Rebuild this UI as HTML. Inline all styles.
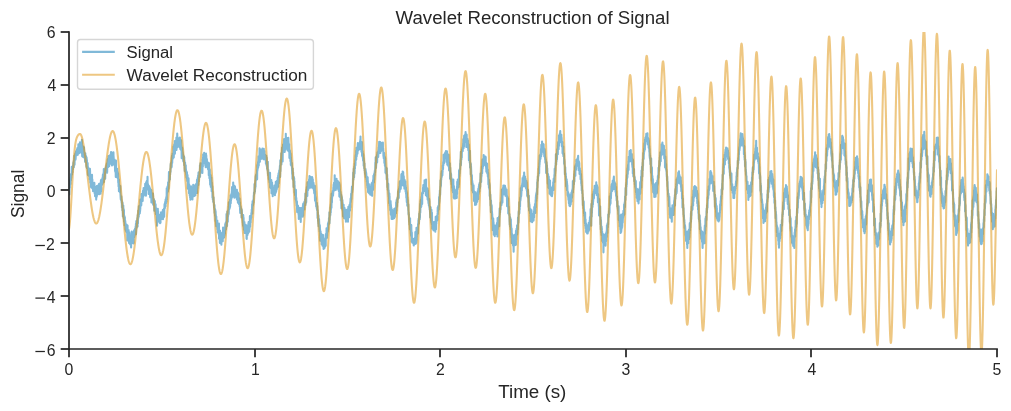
<!DOCTYPE html>
<html><head><meta charset="utf-8"><title>Wavelet Reconstruction of Signal</title>
<style>html,body{margin:0;padding:0;background:#fff;}body{width:1011px;height:411px;overflow:hidden;font-family:"Liberation Sans",sans-serif;}svg{display:block;will-change:transform;}</style>
</head><body>
<svg width="1011" height="411" viewBox="0 0 1011 411"><defs><clipPath id="ax"><rect x="69" y="32" width="928" height="317"/></clipPath></defs><rect width="1011" height="411" fill="#fff"/><g clip-path="url(#ax)" fill="none" stroke-linejoin="round" stroke-linecap="square" stroke-width="2.08"><polyline stroke="#0173b2" stroke-opacity="0.5" points="69.00,189.53 69.09,193.22 69.19,186.96 69.28,185.78 69.37,194.36 69.46,191.72 69.56,186.61 69.65,187.44 69.74,185.91 69.84,187.99 69.93,181.92 70.02,181.66 70.11,183.34 70.21,179.41 70.30,180.93 70.39,184.56 70.48,180.10 70.58,183.74 70.67,177.35 70.76,179.73 70.86,179.59 70.95,180.61 71.04,174.02 71.13,177.83 71.23,178.14 71.32,177.35 71.41,174.00 71.51,173.98 71.60,173.29 71.69,172.69 71.78,166.73 71.88,174.28 71.97,174.08 72.06,174.51 72.16,169.46 72.25,167.31 72.34,170.73 72.43,172.52 72.53,171.97 72.62,166.79 72.71,165.99 72.81,166.13 72.90,169.47 72.99,166.13 73.08,166.02 73.18,165.21 73.27,162.67 73.36,164.25 73.45,162.35 73.55,163.82 73.64,162.67 73.73,161.13 73.83,167.30 73.92,163.26 74.01,163.30 74.10,163.41 74.20,161.83 74.29,155.80 74.38,162.87 74.48,156.65 74.57,164.65 74.66,159.98 74.75,158.01 74.85,156.28 74.94,155.51 75.03,154.88 75.13,158.13 75.22,158.13 75.31,153.59 75.40,156.57 75.50,159.66 75.59,158.88 75.68,157.87 75.78,153.06 75.87,153.87 75.96,151.82 76.05,155.06 76.15,152.91 76.24,151.14 76.33,153.82 76.42,151.12 76.52,154.40 76.61,153.19 76.70,152.99 76.80,155.33 76.89,149.75 76.98,152.55 77.07,150.80 77.17,149.09 77.26,148.99 77.35,148.09 77.45,150.32 77.54,151.16 77.63,149.88 77.72,154.80 77.82,153.87 77.91,153.32 78.00,152.13 78.10,147.56 78.19,151.56 78.28,149.76 78.37,144.31 78.47,149.45 78.56,145.87 78.65,151.07 78.74,148.66 78.84,150.94 78.93,148.92 79.02,145.11 79.12,153.18 79.21,146.27 79.30,146.85 79.39,149.44 79.49,152.11 79.58,147.27 79.67,149.15 79.77,146.73 79.86,147.39 79.95,142.38 80.04,148.23 80.14,150.73 80.23,146.94 80.32,146.84 80.42,143.27 80.51,144.97 80.60,146.54 80.69,143.09 80.79,151.56 80.88,149.90 80.97,150.88 81.07,149.27 81.16,152.49 81.25,146.21 81.34,149.04 81.44,153.11 81.53,151.79 81.62,147.70 81.71,146.17 81.81,142.64 81.90,139.87 81.99,147.95 82.09,152.56 82.18,156.35 82.27,148.91 82.36,152.51 82.46,151.44 82.55,152.25 82.64,150.95 82.74,147.33 82.83,150.41 82.92,151.63 83.01,154.62 83.11,156.87 83.20,153.34 83.29,152.20 83.39,146.66 83.48,152.10 83.57,149.65 83.66,154.60 83.76,157.04 83.85,156.60 83.94,156.11 84.04,147.34 84.13,156.97 84.22,151.99 84.31,157.80 84.41,152.28 84.50,154.31 84.59,156.33 84.68,156.26 84.78,158.52 84.87,155.34 84.96,158.52 85.06,161.28 85.15,161.77 85.24,157.50 85.33,153.37 85.43,158.20 85.52,159.42 85.61,158.48 85.71,155.59 85.80,159.38 85.89,161.73 85.98,157.27 86.08,159.77 86.17,156.62 86.26,161.26 86.36,166.09 86.45,166.90 86.54,157.70 86.63,157.83 86.73,164.24 86.82,165.25 86.91,159.78 87.01,168.29 87.10,167.99 87.19,163.49 87.28,167.16 87.38,166.30 87.47,167.18 87.56,165.97 87.65,162.96 87.75,167.52 87.84,166.14 87.93,175.06 88.03,169.10 88.12,172.00 88.21,173.57 88.30,172.87 88.40,171.53 88.49,167.95 88.58,175.43 88.68,171.51 88.77,173.52 88.86,173.40 88.95,169.56 89.05,171.41 89.14,169.25 89.23,174.35 89.33,176.44 89.42,175.32 89.51,174.21 89.60,174.78 89.70,179.15 89.79,175.78 89.88,175.71 89.97,168.81 90.07,171.20 90.16,180.21 90.25,178.77 90.35,182.84 90.44,180.42 90.53,177.90 90.62,175.41 90.72,181.89 90.81,181.98 90.90,187.05 91.00,181.09 91.09,184.26 91.18,182.90 91.27,184.32 91.37,182.15 91.46,187.74 91.55,187.12 91.65,176.03 91.74,187.16 91.83,186.85 91.92,177.84 92.02,174.74 92.11,187.95 92.20,185.68 92.30,183.70 92.39,179.57 92.48,188.45 92.57,186.36 92.67,183.37 92.76,184.71 92.85,187.52 92.94,187.00 93.04,191.17 93.13,187.79 93.22,188.11 93.32,186.75 93.41,189.46 93.50,186.41 93.59,184.90 93.69,187.82 93.78,187.39 93.87,188.52 93.97,188.87 94.06,191.34 94.15,188.22 94.24,189.69 94.34,182.91 94.43,184.71 94.52,188.62 94.62,192.40 94.71,193.65 94.80,186.47 94.89,189.54 94.99,188.97 95.08,196.13 95.17,187.77 95.27,189.36 95.36,194.42 95.45,192.48 95.54,190.23 95.64,190.97 95.73,192.13 95.82,191.60 95.91,192.12 96.01,190.89 96.10,186.75 96.19,199.59 96.29,192.23 96.38,190.95 96.47,190.58 96.56,192.71 96.66,197.11 96.75,190.50 96.84,186.05 96.94,196.38 97.03,188.76 97.12,192.51 97.21,191.63 97.31,194.73 97.40,192.41 97.49,187.18 97.59,189.40 97.68,185.69 97.77,187.38 97.86,189.64 97.96,185.42 98.05,189.47 98.14,188.15 98.23,191.61 98.33,190.35 98.42,192.66 98.51,187.20 98.61,193.95 98.70,187.61 98.79,190.56 98.88,186.10 98.98,187.29 99.07,183.74 99.16,187.04 99.26,194.18 99.35,189.24 99.44,192.57 99.53,190.32 99.63,183.71 99.72,186.29 99.81,190.33 99.91,191.13 100.00,187.61 100.09,191.37 100.18,189.42 100.28,186.09 100.37,183.20 100.46,184.70 100.56,193.67 100.65,185.20 100.74,185.70 100.83,184.38 100.93,180.32 101.02,191.73 101.11,186.81 101.20,182.80 101.30,189.43 101.39,179.47 101.48,182.71 101.58,180.93 101.67,185.14 101.76,180.47 101.85,179.39 101.95,181.75 102.04,181.46 102.13,181.05 102.23,184.35 102.32,181.79 102.41,181.50 102.50,179.50 102.60,177.25 102.69,183.47 102.78,180.20 102.88,174.80 102.97,181.54 103.06,181.48 103.15,177.92 103.25,175.57 103.34,177.89 103.43,173.39 103.53,174.57 103.62,174.30 103.71,174.89 103.80,168.95 103.90,176.65 103.99,182.03 104.08,170.27 104.17,176.48 104.27,174.37 104.36,170.23 104.45,179.14 104.55,177.70 104.64,178.49 104.73,175.61 104.82,171.38 104.92,170.79 105.01,171.25 105.10,176.29 105.20,178.81 105.29,171.00 105.38,172.35 105.47,169.09 105.57,168.00 105.66,169.48 105.75,167.20 105.85,168.57 105.94,167.31 106.03,170.93 106.12,168.96 106.22,167.47 106.31,165.20 106.40,168.75 106.49,165.56 106.59,167.77 106.68,167.01 106.77,163.73 106.87,172.40 106.96,169.92 107.05,170.23 107.14,172.66 107.24,167.15 107.33,162.37 107.42,165.39 107.52,163.61 107.61,160.53 107.70,159.53 107.79,163.72 107.89,158.98 107.98,162.75 108.07,165.47 108.17,164.48 108.26,167.07 108.35,164.98 108.44,163.10 108.54,159.21 108.63,156.11 108.72,165.76 108.82,159.95 108.91,164.31 109.00,159.34 109.09,161.09 109.19,166.32 109.28,157.41 109.37,162.13 109.46,161.76 109.56,163.32 109.65,161.87 109.74,158.32 109.84,160.16 109.93,158.40 110.02,158.19 110.11,155.06 110.21,160.24 110.30,163.75 110.39,155.61 110.49,159.97 110.58,155.32 110.67,157.58 110.76,159.17 110.86,157.60 110.95,152.49 111.04,152.06 111.14,158.41 111.23,158.11 111.32,155.20 111.41,161.29 111.51,157.56 111.60,158.72 111.69,157.67 111.79,161.34 111.88,163.78 111.97,165.36 112.06,162.38 112.16,160.36 112.25,159.91 112.34,152.91 112.43,155.64 112.53,162.29 112.62,158.24 112.71,160.74 112.81,160.47 112.90,159.11 112.99,157.87 113.08,161.05 113.18,156.76 113.27,163.91 113.36,160.43 113.46,152.39 113.55,160.10 113.64,156.46 113.73,160.91 113.83,159.57 113.92,161.80 114.01,162.38 114.11,164.55 114.20,160.95 114.29,165.26 114.38,160.70 114.48,159.63 114.57,162.18 114.66,164.53 114.75,162.47 114.85,165.18 114.94,161.53 115.03,170.61 115.13,166.18 115.22,171.75 115.31,170.51 115.40,161.79 115.50,163.62 115.59,169.09 115.68,171.93 115.78,176.93 115.87,169.63 115.96,160.61 116.05,167.30 116.15,170.84 116.24,168.00 116.33,174.83 116.43,171.23 116.52,170.40 116.61,171.41 116.70,169.07 116.80,170.92 116.89,170.34 116.98,175.10 117.08,170.53 117.17,168.67 117.26,177.38 117.35,177.60 117.45,171.03 117.54,176.36 117.63,171.80 117.72,178.15 117.82,172.64 117.91,177.34 118.00,177.45 118.10,173.83 118.19,180.46 118.28,182.83 118.37,181.80 118.47,179.48 118.56,186.42 118.65,179.98 118.75,184.26 118.84,179.47 118.93,191.26 119.02,186.73 119.12,190.14 119.21,187.99 119.30,185.16 119.40,187.08 119.49,187.90 119.58,188.18 119.67,187.62 119.77,192.05 119.86,187.20 119.95,187.94 120.05,189.41 120.14,189.47 120.23,190.89 120.32,185.98 120.42,193.31 120.51,194.61 120.60,196.63 120.69,198.13 120.79,199.41 120.88,198.89 120.97,196.91 121.07,196.24 121.16,197.75 121.25,200.95 121.34,196.28 121.44,197.41 121.53,200.87 121.62,203.05 121.72,199.85 121.81,201.61 121.90,207.41 121.99,203.64 122.09,203.21 122.18,207.50 122.27,204.66 122.37,210.48 122.46,202.23 122.55,203.12 122.64,208.48 122.74,207.13 122.83,216.52 122.92,213.14 123.02,211.00 123.11,214.06 123.20,208.99 123.29,205.51 123.39,216.15 123.48,215.66 123.57,212.83 123.66,209.05 123.76,218.60 123.85,214.50 123.94,210.08 124.04,221.65 124.13,221.03 124.22,218.87 124.31,219.72 124.41,216.04 124.50,218.39 124.59,225.31 124.69,218.58 124.78,222.57 124.87,217.22 124.96,223.76 125.06,224.30 125.15,221.07 125.24,220.86 125.34,222.35 125.43,229.60 125.52,223.03 125.61,228.49 125.71,224.93 125.80,230.65 125.89,225.18 125.98,229.60 126.08,231.55 126.17,225.66 126.26,227.58 126.36,230.72 126.45,224.59 126.54,230.99 126.63,229.89 126.73,229.53 126.82,232.74 126.91,229.66 127.01,233.21 127.10,233.19 127.19,227.92 127.28,235.88 127.38,240.57 127.47,228.15 127.56,225.50 127.66,235.18 127.75,240.34 127.84,235.48 127.93,235.70 128.03,235.67 128.12,238.88 128.21,233.77 128.31,234.20 128.40,240.85 128.49,234.14 128.58,230.08 128.68,236.26 128.77,238.09 128.86,237.67 128.95,235.46 129.05,243.09 129.14,237.26 129.23,239.18 129.33,232.25 129.42,238.80 129.51,233.11 129.60,242.02 129.70,236.78 129.79,237.75 129.88,241.62 129.98,238.39 130.07,235.20 130.16,240.14 130.25,244.55 130.35,239.30 130.44,242.15 130.53,240.41 130.63,239.62 130.72,244.79 130.81,244.51 130.90,237.87 131.00,241.04 131.09,247.50 131.18,236.86 131.28,238.45 131.37,241.53 131.46,243.39 131.55,236.50 131.65,237.98 131.74,231.45 131.83,237.58 131.92,237.59 132.02,239.24 132.11,236.01 132.20,236.49 132.30,234.38 132.39,239.86 132.48,239.44 132.57,239.42 132.67,235.23 132.76,232.81 132.85,238.83 132.95,238.53 133.04,235.99 133.13,237.56 133.22,233.55 133.32,243.48 133.41,238.73 133.50,238.36 133.60,242.99 133.69,238.43 133.78,238.02 133.87,235.49 133.97,231.05 134.06,235.07 134.15,237.27 134.24,233.89 134.34,230.08 134.43,236.19 134.52,235.67 134.62,230.69 134.71,232.83 134.80,229.74 134.89,231.50 134.99,228.88 135.08,234.03 135.17,230.43 135.27,230.70 135.36,233.51 135.45,234.24 135.54,226.73 135.64,229.63 135.73,231.36 135.82,228.03 135.92,223.75 136.01,234.15 136.10,231.26 136.19,229.02 136.29,221.05 136.38,224.36 136.47,222.40 136.57,228.02 136.66,227.52 136.75,222.11 136.84,222.91 136.94,220.91 137.03,222.80 137.12,220.87 137.21,220.80 137.31,218.38 137.40,217.83 137.49,225.06 137.59,226.59 137.68,215.83 137.77,214.77 137.86,221.31 137.96,223.50 138.05,216.82 138.14,213.71 138.24,210.49 138.33,214.08 138.42,216.42 138.51,217.60 138.61,214.26 138.70,214.77 138.79,216.56 138.89,206.37 138.98,206.73 139.07,208.32 139.16,214.36 139.26,208.26 139.35,208.47 139.44,208.62 139.54,205.59 139.63,207.07 139.72,206.27 139.81,206.13 139.91,206.61 140.00,212.88 140.09,206.50 140.18,208.07 140.28,209.91 140.37,200.06 140.46,199.46 140.56,200.19 140.65,203.24 140.74,199.33 140.83,203.13 140.93,202.09 141.02,205.77 141.11,200.61 141.21,201.26 141.30,205.16 141.39,200.77 141.48,200.45 141.58,194.09 141.67,196.55 141.76,198.95 141.86,197.80 141.95,198.06 142.04,198.45 142.13,200.86 142.23,197.53 142.32,199.05 142.41,200.28 142.50,194.34 142.60,194.37 142.69,200.92 142.78,195.31 142.88,191.42 142.97,190.89 143.06,190.67 143.15,193.48 143.25,195.97 143.34,196.42 143.43,191.60 143.53,191.20 143.62,188.03 143.71,188.35 143.80,191.98 143.90,195.24 143.99,192.05 144.08,190.10 144.18,191.18 144.27,192.14 144.36,189.27 144.45,191.45 144.55,191.63 144.64,188.44 144.73,190.50 144.83,188.26 144.92,187.98 145.01,192.28 145.10,190.03 145.20,183.78 145.29,191.87 145.38,194.75 145.47,193.80 145.57,187.67 145.66,187.55 145.75,187.90 145.85,183.57 145.94,195.79 146.03,185.97 146.12,182.20 146.22,190.64 146.31,188.21 146.40,189.33 146.50,189.72 146.59,187.88 146.68,182.28 146.77,180.96 146.87,187.83 146.96,180.71 147.05,186.63 147.15,181.19 147.24,187.06 147.33,186.36 147.42,185.65 147.52,176.76 147.61,184.19 147.70,189.18 147.80,183.92 147.89,188.20 147.98,188.68 148.07,184.33 148.17,187.20 148.26,186.51 148.35,187.45 148.44,186.54 148.54,186.38 148.63,193.99 148.72,185.87 148.82,191.23 148.91,192.84 149.00,188.60 149.09,188.31 149.19,190.94 149.28,186.28 149.37,193.35 149.47,190.57 149.56,191.33 149.65,189.82 149.74,188.99 149.84,193.28 149.93,188.01 150.02,190.32 150.12,196.75 150.21,197.19 150.30,191.26 150.39,192.17 150.49,192.05 150.58,192.06 150.67,191.52 150.76,189.49 150.86,196.29 150.95,196.76 151.04,196.79 151.14,192.69 151.23,189.94 151.32,195.55 151.41,202.41 151.51,200.18 151.60,197.72 151.69,197.16 151.79,196.99 151.88,195.89 151.97,197.32 152.06,193.32 152.16,199.12 152.25,200.03 152.34,196.11 152.44,202.83 152.53,197.05 152.62,198.30 152.71,199.43 152.81,194.27 152.90,201.61 152.99,193.45 153.09,201.04 153.18,204.72 153.27,200.79 153.36,204.77 153.46,204.09 153.55,200.80 153.64,200.64 153.73,204.73 153.83,199.97 153.92,199.78 154.01,199.24 154.11,202.47 154.20,200.17 154.29,210.80 154.38,206.19 154.48,208.27 154.57,205.49 154.66,208.02 154.76,207.08 154.85,200.92 154.94,207.76 155.03,206.25 155.13,208.62 155.22,207.98 155.31,208.53 155.41,207.45 155.50,205.50 155.59,204.29 155.68,208.84 155.78,208.26 155.87,214.09 155.96,211.02 156.06,208.07 156.15,208.60 156.24,210.96 156.33,209.11 156.43,210.65 156.52,208.68 156.61,211.84 156.70,214.16 156.80,212.23 156.89,222.84 156.98,212.59 157.08,225.62 157.17,219.76 157.26,213.10 157.35,213.25 157.45,218.68 157.54,217.47 157.63,211.08 157.73,217.16 157.82,208.72 157.91,216.03 158.00,214.92 158.10,211.26 158.19,216.15 158.28,219.91 158.38,217.23 158.47,217.15 158.56,221.51 158.65,218.13 158.75,219.80 158.84,214.64 158.93,217.57 159.03,218.68 159.12,218.22 159.21,217.26 159.30,216.10 159.40,221.29 159.49,221.49 159.58,214.74 159.67,219.60 159.77,222.82 159.86,216.95 159.95,216.91 160.05,223.25 160.14,217.67 160.23,216.06 160.32,217.19 160.42,216.35 160.51,222.77 160.60,217.23 160.70,219.19 160.79,219.70 160.88,215.34 160.97,213.33 161.07,212.25 161.16,213.67 161.25,218.08 161.35,216.50 161.44,215.06 161.53,216.97 161.62,216.80 161.72,214.45 161.81,217.09 161.90,219.04 161.99,217.86 162.09,214.35 162.18,216.15 162.27,214.87 162.37,213.61 162.46,216.69 162.55,212.87 162.64,213.82 162.74,218.68 162.83,209.93 162.92,215.81 163.02,219.19 163.11,216.96 163.20,216.59 163.29,212.87 163.39,213.59 163.48,213.46 163.57,210.09 163.67,210.63 163.76,210.35 163.85,209.69 163.94,208.67 164.04,216.92 164.13,211.01 164.22,216.37 164.32,208.94 164.41,208.65 164.50,204.90 164.59,204.03 164.69,206.71 164.78,208.50 164.87,204.92 164.96,207.67 165.06,205.54 165.15,201.93 165.24,206.34 165.34,201.53 165.43,201.44 165.52,206.12 165.61,199.49 165.71,199.85 165.80,201.22 165.89,203.43 165.99,203.20 166.08,201.64 166.17,197.67 166.26,201.87 166.36,196.90 166.45,201.66 166.54,197.80 166.64,196.23 166.73,188.25 166.82,199.78 166.91,190.16 167.01,193.76 167.10,192.34 167.19,192.66 167.29,191.02 167.38,192.31 167.47,186.60 167.56,192.04 167.66,186.38 167.75,191.39 167.84,188.92 167.93,191.49 168.03,186.02 168.12,182.25 168.21,186.44 168.31,186.18 168.40,188.45 168.49,185.00 168.58,188.68 168.68,185.88 168.77,181.62 168.86,177.51 168.96,172.14 169.05,182.25 169.14,175.20 169.23,178.32 169.33,178.93 169.42,176.43 169.51,176.95 169.61,176.15 169.70,177.15 169.79,179.64 169.88,179.45 169.98,171.84 170.07,174.15 170.16,174.52 170.25,171.96 170.35,168.83 170.44,170.15 170.53,172.17 170.63,165.57 170.72,163.82 170.81,166.63 170.90,164.49 171.00,163.03 171.09,162.77 171.18,163.79 171.28,163.23 171.37,162.88 171.46,167.41 171.55,161.11 171.65,167.04 171.74,164.68 171.83,157.45 171.93,158.34 172.02,155.72 172.11,160.73 172.20,162.96 172.30,159.52 172.39,157.89 172.48,157.42 172.58,153.54 172.67,157.75 172.76,154.97 172.85,158.71 172.95,153.64 173.04,154.55 173.13,156.45 173.22,154.33 173.32,153.69 173.41,153.49 173.50,146.56 173.60,152.03 173.69,152.04 173.78,157.48 173.87,153.23 173.97,150.81 174.06,151.74 174.15,144.78 174.25,149.29 174.34,144.29 174.43,147.80 174.52,147.51 174.62,147.55 174.71,146.91 174.80,141.13 174.90,153.60 174.99,152.27 175.08,147.33 175.17,145.26 175.27,142.83 175.36,143.23 175.45,145.68 175.55,140.97 175.64,140.68 175.73,143.12 175.82,140.42 175.92,142.39 176.01,144.82 176.10,140.63 176.19,142.30 176.29,142.47 176.38,137.63 176.47,149.91 176.57,146.49 176.66,145.62 176.75,142.89 176.84,142.43 176.94,146.29 177.03,144.54 177.12,144.07 177.22,133.48 177.31,135.49 177.40,142.46 177.49,142.27 177.59,144.73 177.68,147.12 177.77,141.43 177.87,144.23 177.96,141.35 178.05,146.18 178.14,143.55 178.24,140.71 178.33,140.08 178.42,139.99 178.51,145.57 178.61,138.77 178.70,144.11 178.79,139.68 178.89,141.84 178.98,146.30 179.07,143.08 179.16,141.06 179.26,140.44 179.35,143.00 179.44,137.88 179.54,139.73 179.63,143.94 179.72,140.95 179.81,137.42 179.91,137.56 180.00,147.91 180.09,147.20 180.19,139.81 180.28,148.14 180.37,149.25 180.46,146.88 180.56,144.30 180.65,146.25 180.74,148.30 180.84,148.69 180.93,149.13 181.02,149.99 181.11,140.31 181.21,146.95 181.30,145.44 181.39,150.16 181.48,149.57 181.58,151.62 181.67,158.15 181.76,154.50 181.86,156.27 181.95,158.07 182.04,155.13 182.13,147.56 182.23,152.32 182.32,148.52 182.41,151.74 182.51,151.00 182.60,156.78 182.69,152.72 182.78,152.52 182.88,157.12 182.97,153.98 183.06,154.43 183.16,158.44 183.25,160.73 183.34,161.41 183.43,157.86 183.53,157.59 183.62,161.63 183.71,159.53 183.81,158.30 183.90,158.65 183.99,156.19 184.08,157.56 184.18,165.29 184.27,157.29 184.36,164.82 184.45,160.34 184.55,163.95 184.64,165.98 184.73,170.92 184.83,166.25 184.92,171.16 185.01,163.67 185.10,162.44 185.20,170.30 185.29,167.33 185.38,171.10 185.48,171.31 185.57,167.37 185.66,170.46 185.75,165.34 185.85,172.89 185.94,168.70 186.03,172.07 186.13,170.36 186.22,174.80 186.31,174.04 186.40,174.75 186.50,177.53 186.59,173.27 186.68,173.79 186.77,174.46 186.87,171.95 186.96,172.70 187.05,178.96 187.15,177.06 187.24,180.68 187.33,179.09 187.42,181.52 187.52,174.94 187.61,179.36 187.70,181.65 187.80,177.61 187.89,188.71 187.98,188.63 188.07,180.14 188.17,182.89 188.26,182.69 188.35,188.09 188.45,184.35 188.54,178.32 188.63,182.44 188.72,184.89 188.82,187.18 188.91,187.40 189.00,193.25 189.10,186.03 189.19,184.51 189.28,192.51 189.37,189.94 189.47,191.82 189.56,191.52 189.65,188.59 189.74,195.66 189.84,187.39 189.93,187.22 190.02,190.67 190.12,198.00 190.21,193.54 190.30,186.71 190.39,199.66 190.49,192.18 190.58,195.03 190.67,188.94 190.77,193.83 190.86,190.59 190.95,190.26 191.04,186.40 191.14,193.02 191.23,191.34 191.32,197.38 191.42,189.03 191.51,195.33 191.60,194.81 191.69,193.21 191.79,198.18 191.88,192.59 191.97,190.32 192.07,192.52 192.16,198.54 192.25,193.95 192.34,191.24 192.44,199.57 192.53,197.04 192.62,190.86 192.71,192.78 192.81,192.32 192.90,187.71 192.99,192.09 193.09,191.45 193.18,184.90 193.27,194.11 193.36,195.90 193.46,191.93 193.55,191.81 193.64,194.78 193.74,196.28 193.83,185.57 193.92,191.74 194.01,194.97 194.11,189.60 194.20,192.71 194.29,193.01 194.39,190.26 194.48,195.97 194.57,190.57 194.66,185.44 194.76,189.83 194.85,192.30 194.94,192.50 195.04,191.97 195.13,191.25 195.22,191.41 195.31,187.07 195.41,195.22 195.50,186.73 195.59,190.41 195.68,187.74 195.78,192.23 195.87,184.17 195.96,184.14 196.06,184.75 196.15,192.30 196.24,184.56 196.33,185.59 196.43,191.65 196.52,186.31 196.61,184.75 196.71,183.81 196.80,184.68 196.89,183.97 196.98,179.88 197.08,180.31 197.17,192.93 197.26,184.49 197.36,183.64 197.45,188.31 197.54,182.09 197.63,178.05 197.73,185.08 197.82,180.19 197.91,183.78 198.00,182.62 198.10,175.43 198.19,181.44 198.28,177.87 198.38,184.87 198.47,172.65 198.56,176.25 198.65,178.34 198.75,175.54 198.84,181.44 198.93,172.83 199.03,177.21 199.12,176.43 199.21,176.95 199.30,176.83 199.40,172.40 199.49,173.39 199.58,171.75 199.68,173.45 199.77,171.41 199.86,173.97 199.95,165.19 200.05,176.85 200.14,167.50 200.23,166.78 200.33,173.44 200.42,163.30 200.51,166.85 200.60,166.56 200.70,169.18 200.79,169.60 200.88,169.22 200.97,166.97 201.07,163.42 201.16,166.95 201.25,170.08 201.35,164.24 201.44,163.61 201.53,164.14 201.62,163.53 201.72,166.45 201.81,168.23 201.90,167.74 202.00,169.88 202.09,163.66 202.18,164.40 202.27,165.26 202.37,172.97 202.46,167.30 202.55,159.54 202.65,164.96 202.74,161.47 202.83,166.80 202.92,157.61 203.02,162.42 203.11,160.84 203.20,154.20 203.30,156.58 203.39,162.18 203.48,162.92 203.57,161.91 203.67,159.12 203.76,160.93 203.85,161.71 203.94,155.69 204.04,160.59 204.13,152.84 204.22,159.75 204.32,154.29 204.41,158.75 204.50,156.77 204.59,162.06 204.69,162.43 204.78,158.24 204.87,156.54 204.97,159.53 205.06,163.74 205.15,163.98 205.24,164.22 205.34,165.33 205.43,159.42 205.52,156.26 205.62,159.93 205.71,167.13 205.80,160.65 205.89,160.66 205.99,153.61 206.08,164.99 206.17,161.74 206.26,155.24 206.36,159.37 206.45,159.18 206.54,160.77 206.64,160.28 206.73,159.05 206.82,164.29 206.91,159.16 207.01,166.53 207.10,161.38 207.19,162.10 207.29,164.89 207.38,163.28 207.47,165.46 207.56,167.18 207.66,165.21 207.75,167.91 207.84,163.71 207.94,168.72 208.03,163.17 208.12,169.53 208.21,167.95 208.31,168.51 208.40,162.72 208.49,166.27 208.59,168.40 208.68,166.56 208.77,175.25 208.86,169.15 208.96,163.13 209.05,169.50 209.14,170.17 209.23,169.12 209.33,168.50 209.42,178.17 209.51,177.67 209.61,172.18 209.70,175.63 209.79,169.73 209.88,175.43 209.98,181.10 210.07,179.54 210.16,184.80 210.26,177.39 210.35,177.82 210.44,179.15 210.53,174.97 210.63,175.18 210.72,180.12 210.81,186.96 210.91,178.85 211.00,179.66 211.09,181.07 211.18,179.57 211.28,187.01 211.37,177.59 211.46,187.64 211.56,182.88 211.65,191.25 211.74,189.51 211.83,182.42 211.93,188.72 212.02,185.91 212.11,188.49 212.20,190.25 212.30,186.28 212.39,192.04 212.48,197.62 212.58,195.21 212.67,191.61 212.76,192.79 212.85,199.71 212.95,197.73 213.04,197.98 213.13,197.99 213.23,201.89 213.32,200.22 213.41,201.24 213.50,197.18 213.60,197.76 213.69,201.49 213.78,202.97 213.88,201.98 213.97,205.71 214.06,207.45 214.15,207.49 214.25,207.21 214.34,209.58 214.43,206.06 214.52,204.95 214.62,212.97 214.71,208.54 214.80,209.99 214.90,208.88 214.99,210.68 215.08,215.91 215.17,215.96 215.27,212.52 215.36,210.00 215.45,220.93 215.55,213.45 215.64,211.42 215.73,216.30 215.82,214.70 215.92,219.29 216.01,218.05 216.10,223.41 216.20,226.31 216.29,216.48 216.38,223.17 216.47,222.07 216.57,225.60 216.66,226.23 216.75,222.87 216.85,225.18 216.94,222.21 217.03,222.50 217.12,223.44 217.22,224.22 217.31,220.48 217.40,229.36 217.49,226.63 217.59,223.35 217.68,223.40 217.77,232.37 217.87,229.30 217.96,224.44 218.05,227.57 218.14,228.98 218.24,230.69 218.33,231.62 218.42,229.87 218.52,231.96 218.61,231.66 218.70,231.63 218.79,234.38 218.89,230.87 218.98,223.64 219.07,238.82 219.17,232.46 219.26,236.18 219.35,232.22 219.44,234.16 219.54,232.14 219.63,231.07 219.72,234.42 219.82,231.65 219.91,242.88 220.00,230.59 220.09,234.63 220.19,232.57 220.28,240.01 220.37,238.91 220.46,235.95 220.56,236.58 220.65,235.74 220.74,233.29 220.84,242.41 220.93,233.79 221.02,236.91 221.11,237.63 221.21,241.68 221.30,235.44 221.39,244.70 221.49,234.98 221.58,241.75 221.67,236.83 221.76,237.33 221.86,233.20 221.95,237.41 222.04,238.96 222.14,238.28 222.23,232.54 222.32,234.77 222.41,237.57 222.51,236.96 222.60,241.03 222.69,234.68 222.78,241.32 222.88,233.18 222.97,234.97 223.06,227.61 223.16,238.45 223.25,235.07 223.34,228.81 223.43,230.49 223.53,236.22 223.62,233.04 223.71,233.47 223.81,232.30 223.90,235.12 223.99,232.88 224.08,237.36 224.18,231.54 224.27,230.21 224.36,232.02 224.46,236.08 224.55,227.47 224.64,229.08 224.73,232.17 224.83,230.38 224.92,233.86 225.01,231.96 225.11,230.01 225.20,224.01 225.29,229.51 225.38,225.03 225.48,228.34 225.57,225.41 225.66,226.21 225.75,222.54 225.85,226.56 225.94,229.39 226.03,228.32 226.13,225.16 226.22,226.96 226.31,221.22 226.40,223.52 226.50,214.03 226.59,226.58 226.68,219.93 226.78,223.66 226.87,221.15 226.96,218.63 227.05,225.95 227.15,217.32 227.24,211.53 227.33,218.49 227.43,215.72 227.52,212.78 227.61,216.03 227.70,216.84 227.80,221.70 227.89,211.94 227.98,213.81 228.08,216.15 228.17,212.02 228.26,213.76 228.35,213.07 228.45,208.96 228.54,214.61 228.63,206.54 228.72,213.78 228.82,210.94 228.91,202.24 229.00,204.26 229.10,207.03 229.19,209.82 229.28,208.03 229.37,205.63 229.47,205.26 229.56,205.18 229.65,204.52 229.75,204.63 229.84,208.05 229.93,204.65 230.02,199.66 230.12,206.44 230.21,202.26 230.30,203.82 230.40,200.43 230.49,201.58 230.58,195.24 230.67,197.91 230.77,203.26 230.86,196.57 230.95,200.76 231.05,199.74 231.14,196.54 231.23,198.72 231.32,193.96 231.42,198.89 231.51,198.05 231.60,197.82 231.69,197.20 231.79,191.60 231.88,192.78 231.97,189.04 232.07,186.98 232.16,197.14 232.25,193.37 232.34,197.05 232.44,195.53 232.53,194.81 232.62,195.92 232.72,195.68 232.81,192.58 232.90,195.77 232.99,189.04 233.09,194.43 233.18,182.43 233.27,192.60 233.37,190.78 233.46,194.97 233.55,185.31 233.64,187.04 233.74,189.53 233.83,194.64 233.92,189.61 234.01,193.75 234.11,185.48 234.20,187.49 234.29,189.70 234.39,197.69 234.48,193.05 234.57,187.73 234.66,186.06 234.76,186.39 234.85,194.97 234.94,188.99 235.04,186.77 235.13,195.29 235.22,190.11 235.31,189.29 235.41,191.19 235.50,196.20 235.59,191.46 235.69,191.58 235.78,191.13 235.87,192.58 235.96,192.34 236.06,191.22 236.15,189.85 236.24,192.39 236.34,192.91 236.43,191.51 236.52,198.10 236.61,190.71 236.71,192.45 236.80,192.55 236.89,189.87 236.98,199.36 237.08,199.69 237.17,192.83 237.26,194.00 237.36,193.72 237.45,196.02 237.54,192.75 237.63,192.21 237.73,193.96 237.82,196.64 237.91,202.83 238.01,194.06 238.10,192.97 238.19,195.16 238.28,200.35 238.38,195.80 238.47,195.58 238.56,193.75 238.66,201.86 238.75,200.20 238.84,197.51 238.93,200.11 239.03,204.24 239.12,199.80 239.21,199.70 239.31,201.69 239.40,201.70 239.49,203.65 239.58,198.58 239.68,206.57 239.77,206.02 239.86,204.57 239.95,202.27 240.05,210.26 240.14,210.12 240.23,212.89 240.33,206.79 240.42,210.90 240.51,209.04 240.60,206.19 240.70,210.78 240.79,208.48 240.88,210.63 240.98,208.02 241.07,209.11 241.16,213.28 241.25,212.09 241.35,208.71 241.44,211.24 241.53,217.38 241.63,211.33 241.72,217.31 241.81,209.85 241.90,211.54 242.00,214.32 242.09,215.19 242.18,216.79 242.27,214.42 242.37,218.19 242.46,216.70 242.55,215.11 242.65,220.09 242.74,220.68 242.83,222.93 242.92,222.93 243.02,225.76 243.11,218.05 243.20,215.02 243.30,216.63 243.39,226.68 243.48,219.60 243.57,217.76 243.67,224.08 243.76,222.66 243.85,229.70 243.95,222.82 244.04,227.37 244.13,223.69 244.22,229.58 244.32,223.22 244.41,221.99 244.50,228.01 244.60,229.41 244.69,232.91 244.78,227.18 244.87,228.43 244.97,231.74 245.06,225.61 245.15,228.70 245.24,230.89 245.34,229.44 245.43,224.47 245.52,226.13 245.62,228.62 245.71,226.40 245.80,232.18 245.89,228.53 245.99,228.29 246.08,230.35 246.17,227.58 246.27,231.52 246.36,227.50 246.45,227.43 246.54,238.47 246.64,225.49 246.73,238.95 246.82,231.25 246.92,226.05 247.01,230.29 247.10,233.90 247.19,232.68 247.29,225.91 247.38,235.19 247.47,225.44 247.57,229.10 247.66,232.60 247.75,230.56 247.84,231.80 247.94,225.69 248.03,225.96 248.12,233.56 248.21,229.21 248.31,230.47 248.40,223.43 248.49,231.59 248.59,221.99 248.68,226.93 248.77,230.25 248.86,228.44 248.96,228.55 249.05,229.76 249.14,225.11 249.24,228.98 249.33,231.66 249.42,225.61 249.51,229.76 249.61,226.06 249.70,226.17 249.79,225.66 249.89,216.15 249.98,221.89 250.07,220.86 250.16,226.83 250.26,222.82 250.35,219.60 250.44,223.06 250.53,216.45 250.63,222.64 250.72,219.23 250.81,219.66 250.91,216.76 251.00,218.77 251.09,217.05 251.18,216.39 251.28,217.40 251.37,212.96 251.46,213.16 251.56,213.60 251.65,214.08 251.74,209.58 251.83,212.24 251.93,211.84 252.02,209.90 252.11,204.21 252.21,213.19 252.30,205.84 252.39,213.62 252.48,206.26 252.58,201.28 252.67,204.05 252.76,204.37 252.86,205.99 252.95,203.42 253.04,203.61 253.13,204.60 253.23,202.31 253.32,200.05 253.41,202.39 253.50,201.79 253.60,202.81 253.69,196.53 253.78,195.31 253.88,195.57 253.97,192.50 254.06,194.54 254.15,192.84 254.25,192.37 254.34,192.88 254.43,193.53 254.53,184.08 254.62,191.78 254.71,191.71 254.80,187.48 254.90,187.31 254.99,191.82 255.08,183.06 255.18,186.18 255.27,188.66 255.36,180.63 255.45,181.68 255.55,186.94 255.64,176.56 255.73,179.38 255.83,180.77 255.92,174.98 256.01,178.80 256.10,178.68 256.20,179.98 256.29,175.33 256.38,174.97 256.47,175.74 256.57,177.60 256.66,174.01 256.75,173.96 256.85,177.30 256.94,177.07 257.03,169.96 257.12,179.35 257.22,169.81 257.31,171.34 257.40,165.06 257.50,170.15 257.59,165.88 257.68,168.63 257.77,166.42 257.87,163.86 257.96,167.09 258.05,161.90 258.15,167.66 258.24,163.03 258.33,160.50 258.42,160.81 258.52,156.31 258.61,164.30 258.70,165.76 258.79,164.06 258.89,158.34 258.98,158.40 259.07,159.20 259.17,162.65 259.26,156.23 259.35,162.14 259.44,154.18 259.54,148.40 259.63,155.92 259.72,154.87 259.82,157.93 259.91,161.77 260.00,157.62 260.09,158.86 260.19,159.68 260.28,149.34 260.37,153.66 260.47,153.06 260.56,155.00 260.65,154.33 260.74,150.50 260.84,153.46 260.93,151.48 261.02,153.60 261.12,153.89 261.21,157.11 261.30,158.78 261.39,153.21 261.49,152.09 261.58,156.25 261.67,152.19 261.76,151.84 261.86,158.78 261.95,154.80 262.04,150.58 262.14,150.62 262.23,155.50 262.32,151.35 262.41,148.63 262.51,149.44 262.60,152.25 262.69,153.49 262.79,154.07 262.88,150.68 262.97,151.64 263.06,150.37 263.16,152.07 263.25,150.03 263.34,152.47 263.44,150.44 263.53,150.34 263.62,155.83 263.71,159.20 263.81,148.78 263.90,153.08 263.99,159.56 264.09,156.62 264.18,152.16 264.27,155.75 264.36,156.76 264.46,150.98 264.55,159.03 264.64,158.54 264.73,155.65 264.83,155.40 264.92,155.39 265.01,154.42 265.11,157.02 265.20,156.46 265.29,159.19 265.38,158.54 265.48,158.78 265.57,158.83 265.66,157.45 265.76,158.54 265.85,160.57 265.94,163.69 266.03,161.33 266.13,162.06 266.22,161.79 266.31,155.85 266.41,164.95 266.50,162.40 266.59,160.80 266.68,164.34 266.78,157.70 266.87,166.77 266.96,165.02 267.06,169.05 267.15,168.11 267.24,166.68 267.33,165.27 267.43,167.42 267.52,164.93 267.61,169.70 267.70,170.94 267.80,161.81 267.89,169.62 267.98,173.64 268.08,174.05 268.17,175.32 268.26,169.86 268.35,174.47 268.45,173.40 268.54,174.49 268.63,172.45 268.73,177.93 268.82,179.14 268.91,175.49 269.00,174.77 269.10,176.10 269.19,180.18 269.28,175.93 269.38,180.90 269.47,180.65 269.56,182.44 269.65,175.77 269.75,178.33 269.84,178.85 269.93,177.25 270.02,172.71 270.12,187.46 270.21,184.80 270.30,184.82 270.40,185.96 270.49,187.07 270.58,184.99 270.67,188.27 270.77,183.72 270.86,184.98 270.95,183.97 271.05,184.23 271.14,184.26 271.23,187.68 271.32,180.09 271.42,186.38 271.51,193.33 271.60,190.89 271.70,193.51 271.79,188.21 271.88,188.91 271.97,190.25 272.07,182.63 272.16,187.49 272.25,187.15 272.35,192.60 272.44,193.01 272.53,189.91 272.62,189.65 272.72,196.25 272.81,191.08 272.90,190.60 272.99,191.45 273.09,193.46 273.18,192.69 273.27,191.63 273.37,190.86 273.46,189.30 273.55,187.84 273.64,192.24 273.74,192.78 273.83,189.96 273.92,189.41 274.02,192.71 274.11,188.81 274.20,188.17 274.29,187.14 274.39,185.53 274.48,193.85 274.57,190.97 274.67,190.88 274.76,191.12 274.85,192.74 274.94,195.26 275.04,190.10 275.13,192.67 275.22,189.79 275.32,192.40 275.41,193.17 275.50,188.73 275.59,188.78 275.69,187.19 275.78,181.85 275.87,187.65 275.96,186.72 276.06,191.40 276.15,191.77 276.24,182.37 276.34,190.00 276.43,190.06 276.52,186.55 276.61,186.36 276.71,188.58 276.80,186.33 276.89,181.09 276.99,187.16 277.08,188.63 277.17,180.82 277.26,181.83 277.36,184.94 277.45,187.56 277.54,184.46 277.64,181.83 277.73,177.50 277.82,184.02 277.91,180.53 278.01,177.65 278.10,186.85 278.19,175.53 278.28,182.06 278.38,176.75 278.47,176.51 278.56,173.34 278.66,174.51 278.75,183.26 278.84,177.68 278.93,174.22 279.03,174.73 279.12,172.05 279.21,170.51 279.31,170.53 279.40,172.58 279.49,177.19 279.58,172.22 279.68,168.89 279.77,173.10 279.86,167.07 279.96,165.62 280.05,167.53 280.14,177.07 280.23,170.83 280.33,160.23 280.42,167.37 280.51,171.35 280.61,160.57 280.70,163.87 280.79,159.84 280.88,161.90 280.98,160.75 281.07,160.49 281.16,158.87 281.25,153.30 281.35,156.88 281.44,164.42 281.53,157.44 281.63,154.70 281.72,153.96 281.81,158.59 281.90,153.01 282.00,153.24 282.09,147.50 282.18,157.52 282.28,156.25 282.37,155.11 282.46,155.19 282.55,155.97 282.65,161.43 282.74,153.58 282.83,150.57 282.93,152.84 283.02,144.70 283.11,150.35 283.20,145.87 283.30,148.71 283.39,146.51 283.48,147.84 283.58,144.00 283.67,147.78 283.76,146.01 283.85,146.06 283.95,147.79 284.04,145.25 284.13,139.13 284.22,146.75 284.32,144.26 284.41,141.32 284.50,141.41 284.60,144.72 284.69,152.06 284.78,142.62 284.87,151.07 284.97,139.16 285.06,143.08 285.15,140.26 285.25,146.11 285.34,148.01 285.43,142.12 285.52,142.92 285.62,144.25 285.71,142.32 285.80,133.72 285.90,139.77 285.99,139.03 286.08,139.63 286.17,137.58 286.27,142.86 286.36,148.77 286.45,142.86 286.54,139.72 286.64,145.40 286.73,142.94 286.82,144.65 286.92,137.78 287.01,140.27 287.10,140.69 287.19,140.92 287.29,143.15 287.38,142.56 287.47,147.12 287.57,150.49 287.66,143.28 287.75,142.95 287.84,140.38 287.94,139.48 288.03,139.75 288.12,148.16 288.22,146.41 288.31,144.08 288.40,137.89 288.49,141.56 288.59,143.05 288.68,148.19 288.77,150.14 288.87,145.23 288.96,151.62 289.05,149.30 289.14,149.34 289.24,144.36 289.33,150.99 289.42,158.07 289.51,149.21 289.61,153.52 289.70,151.67 289.79,152.60 289.89,153.72 289.98,150.88 290.07,158.79 290.16,156.13 290.26,152.90 290.35,157.59 290.44,161.34 290.54,154.72 290.63,153.89 290.72,158.21 290.81,164.91 290.91,157.09 291.00,165.24 291.09,159.65 291.19,164.11 291.28,165.64 291.37,164.04 291.46,163.91 291.56,166.06 291.65,162.85 291.74,166.83 291.84,163.02 291.93,165.95 292.02,169.77 292.11,171.03 292.21,174.24 292.30,168.83 292.39,171.61 292.48,178.75 292.58,173.68 292.67,175.58 292.76,168.48 292.86,179.63 292.95,179.55 293.04,172.22 293.13,172.20 293.23,179.62 293.32,180.02 293.41,176.82 293.51,186.91 293.60,186.19 293.69,181.94 293.78,176.90 293.88,183.95 293.97,183.00 294.06,180.48 294.16,178.14 294.25,187.40 294.34,186.36 294.43,181.27 294.53,192.61 294.62,185.26 294.71,192.48 294.80,189.65 294.90,191.46 294.99,194.44 295.08,195.22 295.18,191.93 295.27,190.35 295.36,194.60 295.45,194.65 295.55,193.73 295.64,199.29 295.73,194.52 295.83,194.92 295.92,189.91 296.01,199.99 296.10,200.87 296.20,197.60 296.29,198.04 296.38,202.93 296.48,203.10 296.57,200.68 296.66,205.59 296.75,204.82 296.85,203.78 296.94,201.44 297.03,207.03 297.13,211.46 297.22,212.20 297.31,210.60 297.40,211.24 297.50,208.03 297.59,211.76 297.68,210.66 297.77,211.31 297.87,210.66 297.96,205.47 298.05,207.95 298.15,210.36 298.24,212.23 298.33,212.49 298.42,210.41 298.52,209.91 298.61,214.94 298.70,212.24 298.80,219.07 298.89,212.21 298.98,210.71 299.07,214.25 299.17,207.82 299.26,216.57 299.35,213.28 299.45,214.26 299.54,214.62 299.63,214.81 299.72,214.23 299.82,212.00 299.91,210.42 300.00,214.88 300.10,212.36 300.19,217.23 300.28,212.62 300.37,217.49 300.47,211.64 300.56,208.09 300.65,215.47 300.74,222.00 300.84,216.75 300.93,211.05 301.02,213.13 301.12,214.02 301.21,211.51 301.30,213.06 301.39,210.62 301.49,211.43 301.58,209.37 301.67,212.90 301.77,210.99 301.86,214.65 301.95,215.38 302.04,207.86 302.14,212.36 302.23,210.26 302.32,212.18 302.42,214.17 302.51,212.01 302.60,207.22 302.69,209.72 302.79,216.61 302.88,211.56 302.97,204.91 303.07,210.91 303.16,215.60 303.25,203.55 303.34,207.03 303.44,209.06 303.53,209.64 303.62,204.66 303.71,209.42 303.81,203.67 303.90,205.19 303.99,205.73 304.09,205.63 304.18,206.23 304.27,201.94 304.36,207.56 304.46,209.53 304.55,202.00 304.64,201.50 304.74,201.54 304.83,201.31 304.92,203.17 305.01,199.20 305.11,201.38 305.20,202.32 305.29,201.30 305.39,193.44 305.48,204.88 305.57,197.32 305.66,203.76 305.76,198.31 305.85,198.88 305.94,203.64 306.03,195.33 306.13,197.30 306.22,202.29 306.31,192.51 306.41,190.16 306.50,189.53 306.59,192.66 306.68,193.20 306.78,188.68 306.87,187.12 306.96,188.42 307.06,194.56 307.15,190.50 307.24,189.32 307.33,196.03 307.43,188.39 307.52,182.26 307.61,187.04 307.71,184.00 307.80,187.70 307.89,188.13 307.98,186.32 308.08,189.75 308.17,189.86 308.26,182.44 308.36,181.77 308.45,188.93 308.54,182.39 308.63,185.43 308.73,183.77 308.82,183.10 308.91,181.12 309.00,183.74 309.10,179.27 309.19,182.51 309.28,181.28 309.38,185.67 309.47,175.97 309.56,181.12 309.65,180.16 309.75,187.34 309.84,184.69 309.93,178.00 310.03,180.87 310.12,187.72 310.21,178.25 310.30,183.16 310.40,176.88 310.49,181.56 310.58,180.57 310.68,177.43 310.77,183.98 310.86,184.27 310.95,181.74 311.05,178.50 311.14,185.37 311.23,186.47 311.33,178.63 311.42,183.21 311.51,182.63 311.60,187.36 311.70,183.74 311.79,181.74 311.88,178.90 311.97,184.45 312.07,176.92 312.16,184.52 312.25,184.71 312.35,177.88 312.44,182.31 312.53,184.97 312.62,183.96 312.72,179.45 312.81,179.37 312.90,186.90 313.00,184.76 313.09,184.66 313.18,188.41 313.27,185.81 313.37,185.97 313.46,182.75 313.55,182.93 313.65,188.20 313.74,188.25 313.83,185.89 313.92,190.29 314.02,187.02 314.11,189.63 314.20,192.90 314.29,193.34 314.39,186.22 314.48,191.81 314.57,186.63 314.67,193.99 314.76,191.98 314.85,185.87 314.94,197.37 315.04,200.60 315.13,191.08 315.22,198.37 315.32,196.41 315.41,198.81 315.50,196.71 315.59,201.20 315.69,199.38 315.78,198.02 315.87,203.29 315.97,202.96 316.06,202.50 316.15,206.58 316.24,204.06 316.34,203.02 316.43,205.34 316.52,205.61 316.62,205.50 316.71,208.21 316.80,204.63 316.89,202.96 316.99,209.69 317.08,207.38 317.17,210.38 317.26,209.17 317.36,206.07 317.45,210.13 317.54,218.07 317.64,211.72 317.73,209.95 317.82,215.27 317.91,212.12 318.01,218.17 318.10,221.39 318.19,216.94 318.29,223.65 318.38,219.54 318.47,215.40 318.56,226.22 318.66,224.91 318.75,224.80 318.84,222.41 318.94,224.04 319.03,219.11 319.12,221.18 319.21,223.29 319.31,225.05 319.40,224.91 319.49,229.52 319.59,224.70 319.68,231.56 319.77,226.00 319.86,225.49 319.96,229.17 320.05,230.98 320.14,229.73 320.23,240.64 320.33,231.16 320.42,233.03 320.51,233.36 320.61,231.48 320.70,234.47 320.79,238.35 320.88,235.67 320.98,235.49 321.07,235.80 321.16,236.10 321.26,233.76 321.35,240.92 321.44,237.34 321.53,234.20 321.63,244.17 321.72,238.48 321.81,241.26 321.91,240.92 322.00,242.94 322.09,240.92 322.18,234.85 322.28,244.97 322.37,244.94 322.46,245.61 322.55,236.24 322.65,243.41 322.74,242.23 322.83,243.61 322.93,245.50 323.02,243.41 323.11,235.01 323.20,238.51 323.30,245.74 323.39,241.07 323.48,245.83 323.58,248.88 323.67,240.06 323.76,239.64 323.85,240.01 323.95,244.81 324.04,243.82 324.13,240.87 324.23,241.95 324.32,244.36 324.41,248.15 324.50,242.55 324.60,239.37 324.69,246.44 324.78,240.46 324.88,241.26 324.97,239.74 325.06,239.15 325.15,243.89 325.25,246.58 325.34,242.89 325.43,238.11 325.52,242.36 325.62,242.54 325.71,245.80 325.80,234.14 325.90,236.73 325.99,236.55 326.08,235.55 326.17,236.40 326.27,238.60 326.36,237.93 326.45,238.34 326.55,228.19 326.64,234.32 326.73,237.08 326.82,233.66 326.92,237.85 327.01,229.37 327.10,235.71 327.20,231.50 327.29,229.17 327.38,230.78 327.47,231.14 327.57,230.84 327.66,230.47 327.75,231.53 327.85,230.53 327.94,223.80 328.03,228.22 328.12,229.74 328.22,228.26 328.31,222.49 328.40,223.19 328.49,222.90 328.59,224.84 328.68,221.54 328.77,224.72 328.87,222.83 328.96,218.25 329.05,217.86 329.14,223.06 329.24,221.96 329.33,218.21 329.42,212.38 329.52,223.22 329.61,215.56 329.70,220.10 329.79,217.04 329.89,215.47 329.98,214.94 330.07,214.58 330.17,212.16 330.26,213.17 330.35,215.40 330.44,207.58 330.54,206.96 330.63,205.97 330.72,212.83 330.81,206.29 330.91,204.40 331.00,209.12 331.09,205.14 331.19,204.85 331.28,197.96 331.37,197.03 331.46,207.74 331.56,193.89 331.65,204.04 331.74,197.38 331.84,196.77 331.93,202.37 332.02,197.02 332.11,198.31 332.21,195.60 332.30,196.02 332.39,192.37 332.49,195.34 332.58,195.53 332.67,190.96 332.76,192.04 332.86,191.01 332.95,194.91 333.04,195.59 333.14,193.56 333.23,193.23 333.32,188.28 333.41,187.20 333.51,190.33 333.60,184.85 333.69,184.60 333.78,187.74 333.88,190.71 333.97,182.71 334.06,187.51 334.16,186.55 334.25,187.66 334.34,189.06 334.43,190.57 334.53,183.59 334.62,187.78 334.71,175.31 334.81,188.18 334.90,188.46 334.99,182.62 335.08,179.16 335.18,183.59 335.27,181.79 335.36,189.26 335.46,185.40 335.55,186.51 335.64,188.97 335.73,182.48 335.83,189.85 335.92,186.84 336.01,184.28 336.11,185.16 336.20,181.22 336.29,181.48 336.38,179.60 336.48,180.06 336.57,178.84 336.66,182.50 336.75,181.58 336.85,180.98 336.94,182.23 337.03,184.03 337.13,183.94 337.22,185.59 337.31,181.80 337.40,183.59 337.50,185.56 337.59,185.73 337.68,187.66 337.78,180.92 337.87,184.00 337.96,187.21 338.05,182.16 338.15,186.75 338.24,189.71 338.33,182.29 338.43,187.52 338.52,187.42 338.61,186.31 338.70,183.15 338.80,187.04 338.89,191.26 338.98,186.09 339.08,189.72 339.17,182.58 339.26,188.95 339.35,196.43 339.45,188.62 339.54,184.00 339.63,185.59 339.72,185.22 339.82,194.69 339.91,189.01 340.00,194.64 340.10,192.10 340.19,197.31 340.28,195.78 340.37,196.36 340.47,191.84 340.56,192.64 340.65,194.78 340.75,200.43 340.84,197.63 340.93,199.51 341.02,194.89 341.12,194.41 341.21,195.30 341.30,201.55 341.40,208.34 341.49,205.76 341.58,196.16 341.67,202.44 341.77,204.06 341.86,196.97 341.95,198.67 342.04,203.10 342.14,204.61 342.23,204.59 342.32,203.95 342.42,200.08 342.51,204.30 342.60,203.82 342.69,202.89 342.79,210.77 342.88,205.13 342.97,208.92 343.07,216.41 343.16,215.63 343.25,212.55 343.34,208.07 343.44,209.82 343.53,210.01 343.62,204.81 343.72,215.42 343.81,211.87 343.90,211.20 343.99,214.87 344.09,212.80 344.18,218.31 344.27,209.11 344.37,216.07 344.46,207.78 344.55,214.63 344.64,211.56 344.74,215.27 344.83,215.46 344.92,217.47 345.01,215.48 345.11,215.08 345.20,218.79 345.29,216.90 345.39,218.62 345.48,209.57 345.57,217.30 345.66,212.26 345.76,217.90 345.85,216.57 345.94,221.68 346.04,218.99 346.13,216.97 346.22,212.66 346.31,217.02 346.41,213.36 346.50,215.71 346.59,212.57 346.69,217.89 346.78,210.08 346.87,219.13 346.96,219.94 347.06,221.25 347.15,209.91 347.24,214.58 347.34,218.09 347.43,212.91 347.52,214.51 347.61,210.26 347.71,221.19 347.80,216.89 347.89,217.27 347.98,221.80 348.08,211.90 348.17,215.82 348.26,212.31 348.36,206.85 348.45,215.10 348.54,214.96 348.63,212.87 348.73,209.73 348.82,214.24 348.91,214.03 349.01,208.24 349.10,209.93 349.19,217.15 349.28,214.07 349.38,204.93 349.47,207.90 349.56,211.06 349.66,208.65 349.75,207.51 349.84,204.66 349.93,210.71 350.03,208.48 350.12,204.35 350.21,204.91 350.30,202.15 350.40,207.22 350.49,201.54 350.58,198.55 350.68,199.79 350.77,200.21 350.86,200.25 350.95,201.89 351.05,198.76 351.14,193.82 351.23,197.45 351.33,199.16 351.42,197.15 351.51,194.19 351.60,195.25 351.70,191.76 351.79,190.86 351.88,188.92 351.98,186.44 352.07,187.00 352.16,192.32 352.25,191.42 352.35,187.99 352.44,188.37 352.53,189.74 352.63,186.71 352.72,186.00 352.81,185.81 352.90,183.86 353.00,178.30 353.09,180.58 353.18,172.55 353.27,179.03 353.37,179.66 353.46,177.91 353.55,176.29 353.65,174.91 353.74,168.89 353.83,177.34 353.92,171.13 354.02,172.39 354.11,177.23 354.20,169.01 354.30,166.65 354.39,172.60 354.48,169.13 354.57,173.80 354.67,171.56 354.76,163.48 354.85,167.53 354.95,168.83 355.04,163.85 355.13,165.51 355.22,164.63 355.32,160.08 355.41,165.41 355.50,163.91 355.60,159.88 355.69,156.63 355.78,155.12 355.87,160.51 355.97,154.80 356.06,159.64 356.15,150.76 356.24,159.55 356.34,151.17 356.43,156.89 356.52,147.88 356.62,151.85 356.71,156.42 356.80,154.35 356.89,149.72 356.99,148.38 357.08,151.48 357.17,150.66 357.27,147.97 357.36,149.54 357.45,153.66 357.54,151.75 357.64,148.06 357.73,144.60 357.82,143.00 357.92,145.34 358.01,146.60 358.10,144.85 358.19,149.08 358.29,147.20 358.38,149.10 358.47,150.23 358.56,145.02 358.66,145.32 358.75,143.57 358.84,143.88 358.94,144.72 359.03,143.62 359.12,145.43 359.21,143.92 359.31,147.48 359.40,143.97 359.49,143.01 359.59,147.25 359.68,144.99 359.77,147.17 359.86,146.92 359.96,148.89 360.05,141.40 360.14,142.14 360.24,143.94 360.33,139.54 360.42,146.55 360.51,136.51 360.61,147.04 360.70,145.71 360.79,148.01 360.89,145.81 360.98,144.59 361.07,147.88 361.16,142.17 361.26,147.35 361.35,147.56 361.44,151.63 361.53,147.77 361.63,149.88 361.72,151.76 361.81,152.67 361.91,142.14 362.00,151.86 362.09,156.07 362.18,154.10 362.28,152.49 362.37,151.06 362.46,151.50 362.56,151.60 362.65,156.28 362.74,153.65 362.83,158.02 362.93,157.73 363.02,159.20 363.11,160.60 363.21,154.00 363.30,155.74 363.39,155.39 363.48,158.93 363.58,157.16 363.67,165.78 363.76,158.05 363.86,160.81 363.95,159.98 364.04,161.36 364.13,166.29 364.23,168.52 364.32,166.63 364.41,163.20 364.50,163.41 364.60,170.55 364.69,169.94 364.78,169.73 364.88,169.19 364.97,172.99 365.06,173.79 365.15,172.50 365.25,170.23 365.34,174.86 365.43,172.09 365.53,168.97 365.62,177.05 365.71,174.18 365.80,170.87 365.90,176.03 365.99,177.11 366.08,172.18 366.18,177.41 366.27,173.50 366.36,176.20 366.45,179.19 366.55,177.13 366.64,178.17 366.73,176.48 366.82,181.97 366.92,180.61 367.01,181.43 367.10,179.50 367.20,185.46 367.29,179.45 367.38,181.66 367.47,187.76 367.57,180.19 367.66,177.36 367.75,181.68 367.85,180.73 367.94,185.37 368.03,191.28 368.12,192.22 368.22,185.91 368.31,188.93 368.40,190.27 368.50,187.87 368.59,186.01 368.68,192.84 368.77,189.92 368.87,183.96 368.96,192.38 369.05,186.43 369.15,190.92 369.24,187.84 369.33,186.26 369.42,187.54 369.52,187.14 369.61,193.79 369.70,186.71 369.79,193.03 369.89,189.57 369.98,189.63 370.07,188.95 370.17,189.44 370.26,193.18 370.35,194.77 370.44,187.70 370.54,189.83 370.63,186.71 370.72,190.41 370.82,194.63 370.91,187.00 371.00,191.10 371.09,188.70 371.19,191.67 371.28,184.23 371.37,192.02 371.47,190.10 371.56,188.47 371.65,192.03 371.74,187.26 371.84,182.92 371.93,189.30 372.02,186.19 372.12,195.84 372.21,186.92 372.30,187.44 372.39,188.68 372.49,182.28 372.58,186.36 372.67,185.49 372.76,185.70 372.86,190.16 372.95,187.23 373.04,180.15 373.14,189.42 373.23,184.69 373.32,183.04 373.41,175.75 373.51,178.33 373.60,182.02 373.69,175.59 373.79,181.54 373.88,175.45 373.97,182.41 374.06,174.14 374.16,178.26 374.25,179.66 374.34,176.50 374.44,174.35 374.53,176.20 374.62,172.28 374.71,175.27 374.81,170.85 374.90,170.80 374.99,171.78 375.09,172.36 375.18,169.86 375.27,167.97 375.36,162.55 375.46,165.47 375.55,164.73 375.64,157.40 375.73,164.92 375.83,164.39 375.92,163.06 376.01,167.86 376.11,165.44 376.20,165.01 376.29,160.73 376.38,162.71 376.48,161.11 376.57,157.48 376.66,157.59 376.76,160.23 376.85,161.25 376.94,154.93 377.03,155.49 377.13,162.46 377.22,157.78 377.31,155.70 377.41,153.20 377.50,152.24 377.59,153.68 377.68,152.20 377.78,153.33 377.87,155.16 377.96,153.35 378.05,151.98 378.15,151.67 378.24,157.07 378.33,151.90 378.43,150.02 378.52,150.67 378.61,150.14 378.70,147.41 378.80,151.99 378.89,153.36 378.98,148.94 379.08,145.07 379.17,141.82 379.26,144.38 379.35,151.21 379.45,147.01 379.54,145.20 379.63,145.20 379.73,143.82 379.82,148.22 379.91,144.91 380.00,143.60 380.10,142.16 380.19,147.18 380.28,145.60 380.38,152.96 380.47,146.27 380.56,145.89 380.65,147.41 380.75,143.61 380.84,144.30 380.93,151.28 381.02,143.46 381.12,147.13 381.21,142.70 381.30,148.38 381.40,144.32 381.49,145.43 381.58,143.70 381.67,144.42 381.77,145.80 381.86,150.05 381.95,150.08 382.05,147.47 382.14,145.90 382.23,148.07 382.32,144.44 382.42,147.61 382.51,150.11 382.60,148.27 382.70,147.03 382.79,147.09 382.88,142.56 382.97,151.05 383.07,149.59 383.16,148.45 383.25,150.34 383.35,152.33 383.44,156.15 383.53,153.37 383.62,155.68 383.72,158.30 383.81,155.90 383.90,157.27 383.99,152.69 384.09,153.24 384.18,158.63 384.27,157.22 384.37,162.93 384.46,159.26 384.55,157.10 384.64,156.43 384.74,162.00 384.83,157.11 384.92,165.96 385.02,165.84 385.11,160.37 385.20,158.07 385.29,162.56 385.39,165.02 385.48,172.63 385.57,172.86 385.67,166.83 385.76,169.17 385.85,172.35 385.94,169.44 386.04,170.10 386.13,168.29 386.22,171.68 386.31,169.05 386.41,173.75 386.50,174.98 386.59,172.08 386.69,179.40 386.78,168.22 386.87,176.80 386.96,177.63 387.06,178.02 387.15,174.59 387.24,178.87 387.34,187.32 387.43,178.63 387.52,185.00 387.61,184.42 387.71,189.65 387.80,184.76 387.89,189.32 387.99,187.77 388.08,189.81 388.17,183.62 388.26,184.25 388.36,191.19 388.45,191.93 388.54,194.10 388.64,190.19 388.73,195.51 388.82,196.57 388.91,192.89 389.01,198.44 389.10,197.59 389.19,203.21 389.28,196.68 389.38,193.46 389.47,198.02 389.56,196.35 389.66,204.34 389.75,201.56 389.84,205.94 389.93,204.30 390.03,201.75 390.12,204.47 390.21,209.86 390.31,210.12 390.40,210.89 390.49,205.49 390.58,201.03 390.68,203.77 390.77,214.59 390.86,204.55 390.96,206.55 391.05,214.86 391.14,211.35 391.23,207.32 391.33,209.45 391.42,215.71 391.51,209.99 391.61,219.04 391.70,213.29 391.79,209.28 391.88,213.11 391.98,215.02 392.07,210.86 392.16,210.82 392.25,209.97 392.35,211.54 392.44,211.06 392.53,212.32 392.63,213.94 392.72,214.61 392.81,215.75 392.90,218.92 393.00,218.17 393.09,216.07 393.18,214.44 393.28,210.64 393.37,215.33 393.46,211.99 393.55,211.70 393.65,215.79 393.74,213.08 393.83,215.64 393.93,210.56 394.02,212.60 394.11,218.24 394.20,213.78 394.30,208.88 394.39,214.48 394.48,212.26 394.57,211.72 394.67,216.49 394.76,211.32 394.85,217.07 394.95,214.34 395.04,208.64 395.13,210.60 395.22,212.36 395.32,209.63 395.41,210.87 395.50,210.26 395.60,207.83 395.69,211.82 395.78,208.98 395.87,209.67 395.97,213.28 396.06,210.73 396.15,202.39 396.25,205.68 396.34,210.62 396.43,210.83 396.52,205.81 396.62,200.02 396.71,205.06 396.80,199.81 396.90,202.33 396.99,201.43 397.08,206.63 397.17,198.89 397.27,202.39 397.36,198.06 397.45,202.83 397.54,199.15 397.64,198.05 397.73,199.10 397.82,196.79 397.92,198.36 398.01,199.03 398.10,191.33 398.19,192.55 398.29,197.74 398.38,192.98 398.47,196.59 398.57,197.45 398.66,189.88 398.75,198.03 398.84,189.16 398.94,192.37 399.03,191.73 399.12,189.24 399.22,188.19 399.31,192.16 399.40,186.77 399.49,188.20 399.59,192.06 399.68,188.15 399.77,182.78 399.87,181.39 399.96,183.99 400.05,189.61 400.14,183.86 400.24,182.31 400.33,182.31 400.42,181.74 400.51,182.71 400.61,183.73 400.70,185.08 400.79,188.84 400.89,181.42 400.98,181.61 401.07,180.14 401.16,185.87 401.26,179.33 401.35,174.61 401.44,180.65 401.54,180.88 401.63,179.51 401.72,173.86 401.81,183.39 401.91,179.35 402.00,182.40 402.09,181.48 402.19,179.81 402.28,175.31 402.37,173.81 402.46,178.06 402.56,180.65 402.65,171.55 402.74,180.82 402.83,181.30 402.93,185.17 403.02,175.18 403.11,176.63 403.21,172.14 403.30,184.33 403.39,175.45 403.48,180.01 403.58,177.85 403.67,185.83 403.76,176.17 403.86,178.57 403.95,181.44 404.04,179.54 404.13,184.31 404.23,184.03 404.32,183.98 404.41,188.73 404.51,180.49 404.60,179.83 404.69,186.22 404.78,183.31 404.88,185.69 404.97,184.25 405.06,187.75 405.16,189.04 405.25,183.40 405.34,187.45 405.43,181.36 405.53,188.17 405.62,191.81 405.71,185.56 405.80,188.03 405.90,188.33 405.99,187.47 406.08,193.94 406.18,192.91 406.27,193.70 406.36,197.91 406.45,195.33 406.55,190.95 406.64,195.13 406.73,200.85 406.83,202.23 406.92,192.75 407.01,199.04 407.10,201.55 407.20,201.12 407.29,205.69 407.38,197.26 407.48,203.79 407.57,198.99 407.66,203.94 407.75,200.36 407.85,204.87 407.94,203.77 408.03,205.00 408.13,206.10 408.22,207.78 408.31,210.42 408.40,204.42 408.50,214.18 408.59,212.10 408.68,212.87 408.77,212.45 408.87,215.89 408.96,214.34 409.05,216.67 409.15,221.95 409.24,217.70 409.33,222.01 409.42,224.80 409.52,219.65 409.61,219.31 409.70,219.96 409.80,220.59 409.89,229.27 409.98,228.21 410.07,218.38 410.17,228.68 410.26,224.15 410.35,228.97 410.45,227.25 410.54,230.20 410.63,227.09 410.72,229.10 410.82,231.61 410.91,234.17 411.00,230.62 411.10,235.93 411.19,231.33 411.28,224.95 411.37,229.57 411.47,232.14 411.56,235.23 411.65,241.63 411.74,240.19 411.84,232.43 411.93,239.48 412.02,239.66 412.12,238.41 412.21,241.68 412.30,242.61 412.39,239.27 412.49,242.31 412.58,242.19 412.67,242.65 412.77,238.84 412.86,241.52 412.95,241.63 413.04,239.43 413.14,242.01 413.23,242.66 413.32,240.48 413.42,240.03 413.51,242.77 413.60,242.19 413.69,245.04 413.79,245.38 413.88,240.29 413.97,241.37 414.06,241.37 414.16,241.93 414.25,242.67 414.34,240.57 414.44,239.77 414.53,239.77 414.62,242.88 414.71,238.05 414.81,241.59 414.90,240.16 414.99,241.09 415.09,241.01 415.18,243.91 415.27,239.12 415.36,232.07 415.46,242.01 415.55,240.30 415.64,241.63 415.74,241.43 415.83,234.64 415.92,241.30 416.01,240.29 416.11,243.41 416.20,240.36 416.29,242.94 416.39,235.07 416.48,227.73 416.57,237.28 416.66,240.90 416.76,232.25 416.85,236.87 416.94,229.90 417.03,234.36 417.13,234.89 417.22,232.87 417.31,229.30 417.41,231.81 417.50,232.05 417.59,230.47 417.68,233.22 417.78,227.28 417.87,233.53 417.96,228.60 418.06,224.10 418.15,224.85 418.24,223.24 418.33,224.61 418.43,219.98 418.52,220.04 418.61,220.83 418.71,218.57 418.80,218.39 418.89,221.42 418.98,223.55 419.08,217.21 419.17,216.06 419.26,213.58 419.36,219.25 419.45,218.40 419.54,213.31 419.63,214.24 419.73,219.24 419.82,211.32 419.91,217.63 420.00,214.00 420.10,205.98 420.19,203.74 420.28,212.64 420.38,209.09 420.47,207.19 420.56,200.95 420.65,207.44 420.75,206.68 420.84,199.56 420.93,204.96 421.03,200.80 421.12,207.09 421.21,202.28 421.30,206.34 421.40,203.78 421.49,197.13 421.58,199.33 421.68,199.56 421.77,200.32 421.86,198.06 421.95,195.83 422.05,193.10 422.14,203.99 422.23,197.76 422.32,194.10 422.42,194.41 422.51,192.32 422.60,192.28 422.70,193.63 422.79,193.89 422.88,192.57 422.97,187.73 423.07,193.30 423.16,190.80 423.25,189.66 423.35,184.95 423.44,190.52 423.53,186.22 423.62,185.07 423.72,188.91 423.81,189.12 423.90,189.26 424.00,188.82 424.09,185.10 424.18,186.90 424.27,186.73 424.37,190.91 424.46,190.29 424.55,180.33 424.65,187.61 424.74,189.44 424.83,182.41 424.92,186.03 425.02,185.09 425.11,187.38 425.20,187.99 425.29,187.57 425.39,191.49 425.48,187.48 425.57,186.38 425.67,181.58 425.76,187.32 425.85,195.16 425.94,188.25 426.04,179.47 426.13,185.63 426.22,191.19 426.32,187.00 426.41,191.50 426.50,193.73 426.59,190.85 426.69,189.78 426.78,196.34 426.87,194.40 426.97,191.10 427.06,192.81 427.15,190.66 427.24,196.17 427.34,190.49 427.43,196.94 427.52,188.43 427.62,199.54 427.71,198.04 427.80,193.75 427.89,190.29 427.99,195.08 428.08,194.81 428.17,197.07 428.26,200.92 428.36,199.76 428.45,202.60 428.54,203.38 428.64,198.62 428.73,204.03 428.82,200.04 428.91,205.76 429.01,201.29 429.10,204.38 429.19,198.97 429.29,203.00 429.38,200.72 429.47,207.64 429.56,205.68 429.66,209.58 429.75,208.39 429.84,208.52 429.94,210.60 430.03,212.76 430.12,214.00 430.21,217.54 430.31,214.07 430.40,209.33 430.49,216.98 430.58,216.84 430.68,207.41 430.77,215.68 430.86,213.22 430.96,212.77 431.05,213.26 431.14,220.74 431.23,217.19 431.33,222.12 431.42,209.75 431.51,223.08 431.61,221.85 431.70,222.31 431.79,224.24 431.88,215.67 431.98,212.74 432.07,222.37 432.16,225.47 432.26,228.79 432.35,222.88 432.44,223.49 432.53,224.92 432.63,222.51 432.72,222.30 432.81,222.85 432.91,225.18 433.00,227.96 433.09,222.63 433.18,224.95 433.28,222.41 433.37,222.94 433.46,230.15 433.55,230.37 433.65,228.38 433.74,229.47 433.83,223.85 433.93,225.23 434.02,222.95 434.11,225.23 434.20,225.87 434.30,222.75 434.39,225.06 434.48,226.31 434.58,221.79 434.67,226.06 434.76,227.30 434.85,228.89 434.95,223.88 435.04,222.04 435.13,225.95 435.23,221.45 435.32,231.63 435.41,225.33 435.50,225.03 435.60,226.93 435.69,216.77 435.78,224.23 435.88,224.97 435.97,223.24 436.06,229.29 436.15,224.95 436.25,219.01 436.34,223.68 436.43,223.86 436.52,216.60 436.62,216.01 436.71,218.10 436.80,220.65 436.90,219.42 436.99,220.64 437.08,220.65 437.17,220.20 437.27,218.23 437.36,218.91 437.45,219.94 437.55,213.61 437.64,212.88 437.73,207.53 437.82,214.33 437.92,210.54 438.01,209.74 438.10,210.78 438.20,206.85 438.29,205.97 438.38,206.60 438.47,207.64 438.57,207.15 438.66,209.53 438.75,206.91 438.84,205.48 438.94,206.22 439.03,200.40 439.12,197.14 439.22,202.93 439.31,198.27 439.40,201.56 439.49,198.36 439.59,198.68 439.68,193.69 439.77,196.84 439.87,190.57 439.96,193.65 440.05,194.02 440.14,195.02 440.24,189.33 440.33,186.38 440.42,187.44 440.52,180.30 440.61,181.96 440.70,186.56 440.79,185.69 440.89,182.29 440.98,185.54 441.07,178.30 441.17,179.97 441.26,179.42 441.35,177.19 441.44,173.04 441.54,177.10 441.63,177.15 441.72,171.17 441.81,172.06 441.91,175.32 442.00,173.48 442.09,172.08 442.19,170.77 442.28,175.44 442.37,175.27 442.46,172.44 442.56,171.96 442.65,170.22 442.74,165.46 442.84,167.32 442.93,165.48 443.02,169.33 443.11,166.27 443.21,162.31 443.30,161.68 443.39,165.27 443.49,161.89 443.58,154.87 443.67,161.36 443.76,162.99 443.86,160.84 443.95,159.52 444.04,159.83 444.14,159.01 444.23,163.06 444.32,161.14 444.41,158.18 444.51,157.87 444.60,158.80 444.69,157.25 444.78,156.20 444.88,153.30 444.97,156.18 445.06,154.37 445.16,157.14 445.25,153.42 445.34,153.88 445.43,152.18 445.53,152.54 445.62,152.84 445.71,154.93 445.81,153.79 445.90,151.16 445.99,156.58 446.08,156.51 446.18,153.97 446.27,153.28 446.36,157.28 446.46,155.00 446.55,155.17 446.64,162.02 446.73,155.85 446.83,155.82 446.92,156.03 447.01,151.24 447.11,159.81 447.20,158.82 447.29,164.76 447.38,158.29 447.48,158.32 447.57,159.01 447.66,154.22 447.75,155.36 447.85,158.21 447.94,160.02 448.03,156.00 448.13,159.73 448.22,162.70 448.31,165.99 448.40,162.41 448.50,159.10 448.59,154.76 448.68,162.28 448.78,165.42 448.87,167.27 448.96,162.30 449.05,170.19 449.15,163.40 449.24,163.12 449.33,164.90 449.43,167.56 449.52,165.66 449.61,167.50 449.70,171.11 449.80,163.38 449.89,170.97 449.98,168.01 450.07,178.76 450.17,167.67 450.26,167.68 450.35,172.87 450.45,171.82 450.54,172.45 450.63,176.89 450.72,173.74 450.82,178.67 450.91,178.66 451.00,173.78 451.10,174.89 451.19,180.83 451.28,181.53 451.37,181.86 451.47,178.09 451.56,184.18 451.65,180.47 451.75,179.82 451.84,183.04 451.93,180.13 452.02,184.85 452.12,185.12 452.21,188.08 452.30,182.28 452.40,188.45 452.49,185.42 452.58,187.25 452.67,190.85 452.77,189.91 452.86,184.05 452.95,188.24 453.04,192.50 453.14,188.75 453.23,190.58 453.32,179.55 453.42,189.96 453.51,192.42 453.60,187.04 453.69,197.69 453.79,191.86 453.88,186.11 453.97,193.07 454.07,198.44 454.16,194.42 454.25,188.76 454.34,192.37 454.44,196.38 454.53,196.04 454.62,195.77 454.72,192.96 454.81,189.95 454.90,190.92 454.99,192.86 455.09,198.55 455.18,198.54 455.27,192.63 455.37,198.55 455.46,194.94 455.55,193.18 455.64,197.65 455.74,197.17 455.83,194.08 455.92,192.02 456.01,190.07 456.11,191.30 456.20,192.77 456.29,195.12 456.39,195.88 456.48,193.82 456.57,190.59 456.66,190.50 456.76,197.88 456.85,193.35 456.94,186.65 457.04,189.81 457.13,194.13 457.22,181.73 457.31,188.83 457.41,187.05 457.50,186.50 457.59,188.42 457.69,189.04 457.78,179.46 457.87,182.44 457.96,182.44 458.06,182.63 458.15,187.03 458.24,179.18 458.33,185.27 458.43,181.05 458.52,186.49 458.61,187.09 458.71,178.92 458.80,181.80 458.89,184.84 458.98,176.10 459.08,170.37 459.17,171.95 459.26,176.43 459.36,174.83 459.45,171.29 459.54,169.78 459.63,173.66 459.73,171.68 459.82,170.06 459.91,168.47 460.01,169.86 460.10,169.03 460.19,163.48 460.28,163.22 460.38,164.74 460.47,160.01 460.56,165.89 460.66,158.72 460.75,161.35 460.84,151.91 460.93,165.27 461.03,162.89 461.12,158.59 461.21,157.88 461.30,152.19 461.40,159.72 461.49,153.98 461.58,152.41 461.68,153.11 461.77,157.66 461.86,149.42 461.95,149.27 462.05,150.56 462.14,151.11 462.23,150.36 462.33,150.65 462.42,147.71 462.51,149.00 462.60,151.15 462.70,151.17 462.79,149.62 462.88,145.94 462.98,146.16 463.07,144.83 463.16,143.39 463.25,146.44 463.35,139.30 463.44,144.31 463.53,144.36 463.63,141.01 463.72,147.93 463.81,144.20 463.90,138.19 464.00,146.43 464.09,137.03 464.18,135.45 464.27,141.11 464.37,138.72 464.46,135.83 464.55,140.62 464.65,136.16 464.74,140.84 464.83,140.05 464.92,140.92 465.02,137.17 465.11,134.47 465.20,138.64 465.30,142.03 465.39,141.39 465.48,136.69 465.57,132.11 465.67,136.74 465.76,139.27 465.85,135.69 465.95,138.98 466.04,139.54 466.13,141.53 466.22,134.20 466.32,146.91 466.41,136.55 466.50,140.79 466.59,140.88 466.69,134.50 466.78,142.44 466.87,142.66 466.97,141.27 467.06,139.92 467.15,143.03 467.24,147.03 467.34,145.22 467.43,138.87 467.52,143.17 467.62,142.47 467.71,145.25 467.80,147.04 467.89,140.18 467.99,146.67 468.08,148.07 468.17,143.79 468.27,150.17 468.36,150.41 468.45,149.14 468.54,149.84 468.64,149.70 468.73,144.59 468.82,150.86 468.92,160.19 469.01,152.35 469.10,154.02 469.19,154.76 469.29,154.88 469.38,156.53 469.47,157.40 469.56,156.08 469.66,160.55 469.75,162.65 469.84,150.88 469.94,163.56 470.03,161.80 470.12,167.70 470.21,163.43 470.31,167.60 470.40,166.89 470.49,163.03 470.59,165.69 470.68,166.24 470.77,174.51 470.86,163.92 470.96,174.38 471.05,166.60 471.14,169.06 471.24,171.31 471.33,176.69 471.42,174.33 471.51,177.14 471.61,176.38 471.70,178.08 471.79,184.56 471.89,175.35 471.98,179.96 472.07,182.03 472.16,183.04 472.26,180.90 472.35,185.63 472.44,190.69 472.53,182.99 472.63,183.35 472.72,186.34 472.81,190.04 472.91,186.81 473.00,192.40 473.09,191.66 473.18,191.43 473.28,186.99 473.37,191.42 473.46,192.28 473.56,185.24 473.65,190.87 473.74,191.45 473.83,194.21 473.93,195.43 474.02,200.95 474.11,191.41 474.21,193.50 474.30,195.91 474.39,196.18 474.48,193.79 474.58,201.41 474.67,198.69 474.76,200.74 474.85,191.81 474.95,194.93 475.04,204.94 475.13,202.98 475.23,198.81 475.32,200.08 475.41,202.94 475.50,192.72 475.60,198.01 475.69,197.60 475.78,201.37 475.88,196.94 475.97,200.46 476.06,200.17 476.15,197.32 476.25,204.38 476.34,194.10 476.43,198.50 476.53,194.92 476.62,202.27 476.71,201.64 476.80,202.24 476.90,197.58 476.99,197.96 477.08,199.41 477.18,200.91 477.27,201.45 477.36,197.30 477.45,198.33 477.55,198.70 477.64,191.29 477.73,196.10 477.82,191.44 477.92,196.77 478.01,193.89 478.10,194.42 478.20,199.19 478.29,188.83 478.38,193.32 478.47,190.05 478.57,194.31 478.66,191.94 478.75,193.65 478.85,186.45 478.94,188.84 479.03,188.12 479.12,184.41 479.22,184.48 479.31,185.14 479.40,191.49 479.50,188.60 479.59,188.97 479.68,182.88 479.77,184.03 479.87,188.36 479.96,183.93 480.05,187.45 480.15,182.25 480.24,186.70 480.33,179.15 480.42,178.99 480.52,173.51 480.61,176.24 480.70,179.64 480.79,175.08 480.89,181.48 480.98,179.48 481.07,174.76 481.17,182.04 481.26,174.71 481.35,177.23 481.44,173.08 481.54,176.23 481.63,170.89 481.72,171.60 481.82,166.66 481.91,170.53 482.00,172.45 482.09,170.27 482.19,173.23 482.28,167.17 482.37,166.10 482.47,159.66 482.56,169.00 482.65,167.43 482.74,167.97 482.84,165.05 482.93,164.11 483.02,165.10 483.12,161.12 483.21,166.17 483.30,160.76 483.39,161.86 483.49,163.31 483.58,164.00 483.67,155.05 483.76,165.09 483.86,161.34 483.95,164.47 484.04,156.26 484.14,158.96 484.23,163.79 484.32,159.90 484.41,160.63 484.51,163.02 484.60,158.93 484.69,160.08 484.79,160.64 484.88,161.48 484.97,160.03 485.06,160.75 485.16,161.39 485.25,163.73 485.34,156.47 485.44,165.34 485.53,160.84 485.62,163.43 485.71,157.07 485.81,165.78 485.90,165.53 485.99,166.58 486.08,162.81 486.18,168.55 486.27,166.09 486.36,171.80 486.46,164.63 486.55,167.43 486.64,171.02 486.73,163.35 486.83,171.45 486.92,165.31 487.01,170.61 487.11,163.88 487.20,167.17 487.29,173.36 487.38,173.70 487.48,169.52 487.57,172.94 487.66,173.33 487.76,169.47 487.85,176.59 487.94,174.67 488.03,172.68 488.13,173.91 488.22,177.77 488.31,178.98 488.41,184.38 488.50,183.04 488.59,179.52 488.68,181.82 488.78,182.01 488.87,179.82 488.96,187.76 489.05,185.64 489.15,185.19 489.24,188.93 489.33,183.07 489.43,185.65 489.52,188.54 489.61,184.71 489.70,196.09 489.80,192.30 489.89,192.06 489.98,197.07 490.08,194.17 490.17,199.59 490.26,194.84 490.35,194.63 490.45,198.07 490.54,205.76 490.63,203.90 490.73,199.99 490.82,202.65 490.91,212.19 491.00,200.64 491.10,205.08 491.19,209.02 491.28,204.18 491.38,210.39 491.47,211.32 491.56,208.89 491.65,205.25 491.75,206.61 491.84,211.47 491.93,211.99 492.02,211.77 492.12,219.08 492.21,213.86 492.30,219.01 492.40,216.45 492.49,218.94 492.58,217.37 492.67,219.31 492.77,230.13 492.86,220.51 492.95,219.71 493.05,220.99 493.14,223.36 493.23,218.44 493.32,223.25 493.42,223.42 493.51,222.05 493.60,224.75 493.70,229.25 493.79,234.62 493.88,228.87 493.97,225.39 494.07,229.34 494.16,226.08 494.25,228.52 494.34,225.26 494.44,230.60 494.53,228.49 494.62,228.64 494.72,225.74 494.81,236.14 494.90,232.39 494.99,228.43 495.09,226.37 495.18,230.65 495.27,232.44 495.37,229.20 495.46,228.90 495.55,232.83 495.64,230.65 495.74,227.94 495.83,225.65 495.92,229.23 496.02,231.36 496.11,231.56 496.20,229.48 496.29,231.46 496.39,230.31 496.48,234.07 496.57,226.38 496.67,233.85 496.76,231.34 496.85,229.37 496.94,223.06 497.04,230.38 497.13,230.80 497.22,230.06 497.31,222.66 497.41,236.43 497.50,230.26 497.59,217.98 497.69,224.30 497.78,229.20 497.87,225.33 497.96,224.47 498.06,221.47 498.15,217.78 498.24,221.82 498.34,224.19 498.43,219.40 498.52,223.52 498.61,223.97 498.71,225.66 498.80,224.41 498.89,221.65 498.99,221.90 499.08,216.52 499.17,220.65 499.26,226.15 499.36,218.81 499.45,216.32 499.54,216.06 499.64,208.63 499.73,214.70 499.82,209.27 499.91,211.43 500.01,210.80 500.10,212.62 500.19,209.46 500.28,211.00 500.38,207.34 500.47,207.94 500.56,209.49 500.66,202.67 500.75,203.78 500.84,205.88 500.93,203.33 501.03,203.40 501.12,205.23 501.21,201.61 501.31,203.16 501.40,203.56 501.49,205.10 501.58,200.48 501.68,196.96 501.77,200.37 501.86,189.61 501.96,194.24 502.05,192.37 502.14,193.46 502.23,189.59 502.33,197.46 502.42,202.61 502.51,195.44 502.60,191.81 502.70,192.67 502.79,191.87 502.88,188.16 502.98,190.77 503.07,189.09 503.16,194.27 503.25,194.45 503.35,185.57 503.44,190.10 503.53,192.14 503.63,191.91 503.72,191.79 503.81,191.79 503.90,193.45 504.00,194.00 504.09,189.75 504.18,190.92 504.28,185.46 504.37,187.99 504.46,188.05 504.55,191.25 504.65,189.30 504.74,187.82 504.83,186.76 504.93,189.43 505.02,185.83 505.11,189.36 505.20,187.04 505.30,191.29 505.39,195.69 505.48,189.33 505.57,188.14 505.67,188.89 505.76,189.68 505.85,192.45 505.95,194.24 506.04,190.31 506.13,191.09 506.22,194.63 506.32,189.77 506.41,196.53 506.50,196.05 506.60,189.51 506.69,192.45 506.78,196.87 506.87,195.37 506.97,196.35 507.06,206.13 507.15,200.89 507.25,198.80 507.34,200.40 507.43,199.13 507.52,196.99 507.62,202.26 507.71,205.29 507.80,201.60 507.90,204.38 507.99,204.56 508.08,205.73 508.17,198.44 508.27,213.41 508.36,208.30 508.45,207.85 508.54,211.09 508.64,206.55 508.73,207.61 508.82,211.14 508.92,212.65 509.01,212.95 509.10,213.74 509.19,214.46 509.29,215.62 509.38,215.04 509.47,214.26 509.57,221.36 509.66,221.61 509.75,224.63 509.84,217.14 509.94,219.90 510.03,219.89 510.12,226.81 510.22,217.41 510.31,225.77 510.40,224.08 510.49,222.67 510.59,229.26 510.68,228.61 510.77,227.05 510.86,219.28 510.96,228.09 511.05,224.66 511.14,226.61 511.24,229.94 511.33,234.90 511.42,229.05 511.51,237.78 511.61,228.57 511.70,233.60 511.79,243.22 511.89,236.45 511.98,233.84 512.07,237.18 512.16,234.67 512.26,240.11 512.35,242.01 512.44,238.54 512.54,238.63 512.63,240.23 512.72,235.61 512.81,242.54 512.91,239.18 513.00,240.26 513.09,245.69 513.19,245.19 513.28,241.21 513.37,235.17 513.46,239.80 513.56,247.26 513.65,251.78 513.74,239.70 513.83,242.41 513.93,238.54 514.02,244.98 514.11,241.08 514.21,239.48 514.30,243.53 514.39,243.39 514.48,241.86 514.58,240.09 514.67,241.70 514.76,238.39 514.86,242.73 514.95,245.25 515.04,234.52 515.13,242.42 515.23,242.00 515.32,240.07 515.41,239.30 515.51,240.35 515.60,238.78 515.69,238.42 515.78,237.29 515.88,244.85 515.97,230.91 516.06,236.82 516.16,233.98 516.25,239.62 516.34,236.17 516.43,236.20 516.53,228.79 516.62,234.66 516.71,229.74 516.80,233.53 516.90,232.21 516.99,230.84 517.08,225.26 517.18,234.57 517.27,231.99 517.36,233.22 517.45,229.70 517.55,228.03 517.64,229.76 517.73,226.14 517.83,229.36 517.92,225.35 518.01,217.46 518.10,219.12 518.20,218.93 518.29,221.82 518.38,222.62 518.48,220.47 518.57,216.10 518.66,212.30 518.75,211.29 518.85,211.24 518.94,214.66 519.03,211.33 519.13,211.51 519.22,210.22 519.31,202.21 519.40,213.34 519.50,207.59 519.59,202.10 519.68,209.69 519.77,206.19 519.87,204.93 519.96,203.08 520.05,206.56 520.15,198.74 520.24,197.66 520.33,197.31 520.42,200.84 520.52,196.98 520.61,199.29 520.70,196.69 520.80,188.01 520.89,193.76 520.98,197.06 521.07,191.98 521.17,196.10 521.26,194.90 521.35,193.70 521.45,191.13 521.54,186.08 521.63,186.57 521.72,186.12 521.82,190.65 521.91,188.30 522.00,185.15 522.09,187.46 522.19,185.82 522.28,183.04 522.37,185.06 522.47,182.78 522.56,178.01 522.65,183.19 522.74,178.52 522.84,180.11 522.93,186.20 523.02,184.72 523.12,183.57 523.21,183.37 523.30,180.70 523.39,178.24 523.49,176.02 523.58,178.85 523.67,181.09 523.77,186.16 523.86,179.24 523.95,179.31 524.04,178.76 524.14,172.64 524.23,175.39 524.32,176.86 524.42,182.45 524.51,181.10 524.60,179.88 524.69,182.16 524.79,178.26 524.88,178.89 524.97,183.66 525.06,176.63 525.16,180.34 525.25,186.41 525.34,181.37 525.44,180.62 525.53,178.76 525.62,183.25 525.71,179.92 525.81,182.34 525.90,187.51 525.99,188.24 526.09,180.64 526.18,180.86 526.27,184.10 526.36,180.88 526.46,182.77 526.55,184.48 526.64,190.07 526.74,182.24 526.83,186.59 526.92,190.08 527.01,191.56 527.11,189.23 527.20,195.94 527.29,189.04 527.39,194.91 527.48,191.34 527.57,194.81 527.66,194.64 527.76,196.85 527.85,195.62 527.94,189.78 528.03,192.04 528.13,195.97 528.22,197.84 528.31,195.75 528.41,195.52 528.50,202.40 528.59,200.68 528.68,206.87 528.78,198.19 528.87,195.86 528.96,202.81 529.06,210.44 529.15,202.42 529.24,207.85 529.33,207.71 529.43,204.23 529.52,206.02 529.61,208.97 529.71,210.07 529.80,208.19 529.89,210.44 529.98,213.21 530.08,211.28 530.17,209.67 530.26,211.82 530.35,216.23 530.45,209.09 530.54,221.36 530.63,214.53 530.73,215.50 530.82,213.47 530.91,212.54 531.00,211.11 531.10,217.29 531.19,213.49 531.28,215.03 531.38,221.35 531.47,210.16 531.56,220.98 531.65,215.30 531.75,215.58 531.84,216.11 531.93,218.69 532.03,214.61 532.12,222.27 532.21,217.60 532.30,219.22 532.40,219.59 532.49,216.08 532.58,213.98 532.68,218.43 532.77,214.78 532.86,216.98 532.95,219.83 533.05,217.65 533.14,217.59 533.23,218.63 533.32,214.82 533.42,215.16 533.51,220.65 533.60,220.52 533.70,213.60 533.79,217.15 533.88,213.21 533.97,211.27 534.07,217.33 534.16,217.31 534.25,207.03 534.35,210.70 534.44,212.60 534.53,213.67 534.62,211.74 534.72,213.28 534.81,206.07 534.90,210.68 535.00,204.08 535.09,208.12 535.18,209.44 535.27,206.75 535.37,212.97 535.46,204.26 535.55,203.63 535.65,199.67 535.74,207.44 535.83,196.94 535.92,197.17 536.02,194.94 536.11,198.19 536.20,193.92 536.29,200.89 536.39,193.05 536.48,196.83 536.57,198.68 536.67,196.07 536.76,191.53 536.85,193.20 536.94,188.43 537.04,194.38 537.13,194.41 537.22,182.33 537.32,182.83 537.41,188.03 537.50,183.73 537.59,179.49 537.69,180.40 537.78,180.27 537.87,176.28 537.97,181.08 538.06,177.68 538.15,176.86 538.24,176.69 538.34,176.09 538.43,173.66 538.52,172.83 538.61,175.32 538.71,168.51 538.80,173.22 538.89,169.90 538.99,169.24 539.08,166.27 539.17,173.24 539.26,162.84 539.36,166.95 539.45,160.10 539.54,164.66 539.64,162.49 539.73,155.48 539.82,161.66 539.91,156.10 540.01,159.17 540.10,157.26 540.19,157.66 540.29,154.52 540.38,158.73 540.47,159.05 540.56,157.35 540.66,154.42 540.75,154.87 540.84,151.38 540.94,148.99 541.03,155.73 541.12,154.49 541.21,156.28 541.31,144.88 541.40,149.96 541.49,149.04 541.58,154.47 541.68,149.92 541.77,148.02 541.86,150.18 541.96,145.74 542.05,141.62 542.14,151.77 542.23,151.86 542.33,151.28 542.42,143.32 542.51,145.04 542.61,148.73 542.70,148.17 542.79,150.89 542.88,145.52 542.98,149.62 543.07,149.33 543.16,146.70 543.26,149.37 543.35,149.69 543.44,149.11 543.53,146.85 543.63,144.40 543.72,148.03 543.81,147.64 543.91,151.14 544.00,153.09 544.09,149.14 544.18,151.06 544.28,156.52 544.37,153.48 544.46,153.16 544.55,154.99 544.65,149.16 544.74,152.85 544.83,150.55 544.93,154.61 545.02,155.75 545.11,159.56 545.20,157.14 545.30,157.75 545.39,162.75 545.48,160.77 545.58,160.73 545.67,159.06 545.76,159.58 545.85,163.57 545.95,160.93 546.04,163.70 546.13,172.93 546.23,166.09 546.32,161.85 546.41,171.33 546.50,166.38 546.60,162.45 546.69,170.63 546.78,168.95 546.87,173.83 546.97,165.29 547.06,171.45 547.15,171.78 547.25,168.38 547.34,171.31 547.43,176.92 547.52,176.92 547.62,174.03 547.71,178.29 547.80,183.73 547.90,177.89 547.99,183.11 548.08,173.98 548.17,179.21 548.27,183.30 548.36,183.30 548.45,187.71 548.55,185.83 548.64,179.73 548.73,176.48 548.82,181.83 548.92,184.98 549.01,186.61 549.10,188.80 549.20,179.75 549.29,187.37 549.38,180.54 549.47,183.28 549.57,193.65 549.66,190.65 549.75,191.05 549.84,189.55 549.94,189.84 550.03,180.47 550.12,193.68 550.22,189.82 550.31,188.84 550.40,191.03 550.49,190.88 550.59,194.72 550.68,191.22 550.77,190.07 550.87,190.75 550.96,190.06 551.05,187.44 551.14,188.98 551.24,191.72 551.33,195.63 551.42,193.77 551.52,192.48 551.61,190.88 551.70,193.07 551.79,194.36 551.89,194.98 551.98,196.24 552.07,191.51 552.17,195.17 552.26,193.40 552.35,191.16 552.44,193.82 552.54,188.02 552.63,186.49 552.72,190.17 552.81,189.39 552.91,185.85 553.00,189.34 553.09,189.06 553.19,182.26 553.28,182.71 553.37,183.05 553.46,181.44 553.56,190.04 553.65,178.86 553.74,181.28 553.84,178.66 553.93,179.96 554.02,180.35 554.11,180.67 554.21,177.92 554.30,179.33 554.39,174.85 554.49,181.87 554.58,177.78 554.67,168.80 554.76,176.48 554.86,174.44 554.95,175.67 555.04,170.99 555.14,173.56 555.23,170.98 555.32,166.86 555.41,170.93 555.51,165.36 555.60,164.41 555.69,162.82 555.78,164.86 555.88,154.18 555.97,160.26 556.06,161.72 556.16,164.67 556.25,161.36 556.34,155.69 556.43,153.95 556.53,153.85 556.62,155.22 556.71,160.88 556.81,154.54 556.90,159.22 556.99,159.21 557.08,152.96 557.18,151.29 557.27,149.34 557.36,149.88 557.46,149.05 557.55,153.14 557.64,149.66 557.73,153.42 557.83,154.33 557.92,144.99 558.01,149.10 558.10,143.34 558.20,142.01 558.29,146.92 558.38,142.54 558.48,145.98 558.57,149.24 558.66,142.52 558.75,143.95 558.85,143.42 558.94,135.35 559.03,146.07 559.13,139.67 559.22,143.70 559.31,137.37 559.40,139.02 559.50,138.52 559.59,142.49 559.68,141.73 559.78,136.19 559.87,133.38 559.96,137.35 560.05,141.64 560.15,137.66 560.24,131.01 560.33,138.39 560.43,134.11 560.52,141.14 560.61,139.02 560.70,137.04 560.80,137.89 560.89,141.75 560.98,142.08 561.07,136.61 561.17,136.23 561.26,135.50 561.35,134.88 561.45,140.51 561.54,142.29 561.63,137.42 561.72,139.86 561.82,145.68 561.91,146.32 562.00,141.98 562.10,144.62 562.19,144.69 562.28,141.77 562.37,143.36 562.47,142.16 562.56,153.14 562.65,146.87 562.75,146.15 562.84,153.89 562.93,151.85 563.02,153.17 563.12,151.20 563.21,146.88 563.30,146.42 563.40,156.22 563.49,152.79 563.58,153.52 563.67,154.91 563.77,155.74 563.86,156.92 563.95,153.42 564.04,156.17 564.14,163.93 564.23,158.96 564.32,159.57 564.42,162.33 564.51,160.68 564.60,164.61 564.69,165.51 564.79,166.71 564.88,174.44 564.97,169.25 565.07,172.07 565.16,174.66 565.25,167.30 565.34,171.20 565.44,173.84 565.53,176.47 565.62,174.68 565.72,173.41 565.81,180.09 565.90,178.40 565.99,176.54 566.09,186.33 566.18,181.26 566.27,183.32 566.36,183.25 566.46,185.26 566.55,184.08 566.64,179.24 566.74,187.18 566.83,186.02 566.92,181.40 567.01,190.22 567.11,183.47 567.20,189.93 567.29,185.00 567.39,188.96 567.48,191.03 567.57,192.86 567.66,195.25 567.76,193.63 567.85,191.60 567.94,195.04 568.04,196.53 568.13,196.83 568.22,193.37 568.31,193.09 568.41,199.52 568.50,199.93 568.59,196.99 568.69,193.70 568.78,195.24 568.87,203.14 568.96,200.28 569.06,202.64 569.15,200.76 569.24,195.02 569.33,204.78 569.43,205.54 569.52,203.14 569.61,199.68 569.71,198.68 569.80,199.29 569.89,196.95 569.98,206.24 570.08,196.83 570.17,201.50 570.26,198.09 570.36,204.47 570.45,200.09 570.54,199.17 570.63,196.05 570.73,204.50 570.82,199.12 570.91,202.37 571.01,197.02 571.10,195.82 571.19,193.85 571.28,199.25 571.38,194.21 571.47,192.42 571.56,201.50 571.66,193.88 571.75,192.31 571.84,195.66 571.93,198.16 572.03,190.80 572.12,197.04 572.21,193.24 572.30,192.21 572.40,189.22 572.49,192.86 572.58,192.42 572.68,189.30 572.77,185.78 572.86,181.06 572.95,192.42 573.05,185.97 573.14,189.73 573.23,182.37 573.33,187.88 573.42,186.34 573.51,185.36 573.60,183.03 573.70,181.05 573.79,179.83 573.88,180.67 573.98,184.16 574.07,176.92 574.16,178.69 574.25,174.14 574.35,179.36 574.44,181.50 574.53,175.84 574.62,170.94 574.72,173.87 574.81,174.35 574.90,175.82 575.00,166.84 575.09,175.04 575.18,173.46 575.27,168.74 575.37,175.84 575.46,165.33 575.55,166.83 575.65,165.41 575.74,165.96 575.83,167.73 575.92,170.09 576.02,166.69 576.11,168.88 576.20,163.81 576.30,162.38 576.39,159.86 576.48,163.00 576.57,160.90 576.67,164.45 576.76,164.72 576.85,161.43 576.95,163.91 577.04,161.61 577.13,165.63 577.22,164.88 577.32,159.93 577.41,159.02 577.50,164.86 577.59,159.55 577.69,163.33 577.78,161.58 577.87,157.16 577.97,159.14 578.06,159.26 578.15,155.84 578.24,164.25 578.34,165.31 578.43,164.67 578.52,163.41 578.62,170.32 578.71,163.79 578.80,165.17 578.89,161.29 578.99,163.02 579.08,166.44 579.17,163.08 579.27,163.10 579.36,168.31 579.45,167.94 579.54,173.95 579.64,170.91 579.73,170.39 579.82,168.40 579.92,172.26 580.01,171.54 580.10,174.48 580.19,170.75 580.29,170.66 580.38,171.48 580.47,173.48 580.56,179.19 580.66,177.08 580.75,177.23 580.84,178.06 580.94,177.41 581.03,174.00 581.12,176.84 581.21,183.46 581.31,179.10 581.40,180.16 581.49,185.69 581.59,181.41 581.68,185.58 581.77,190.53 581.86,185.61 581.96,187.37 582.05,189.79 582.14,190.20 582.24,193.38 582.33,190.20 582.42,193.30 582.51,193.67 582.61,194.10 582.70,199.92 582.79,200.14 582.88,205.34 582.98,197.58 583.07,204.24 583.16,201.01 583.26,201.27 583.35,201.55 583.44,208.29 583.53,205.68 583.63,201.17 583.72,202.01 583.81,205.29 583.91,208.31 584.00,213.52 584.09,208.99 584.18,212.69 584.28,211.32 584.37,215.99 584.46,215.41 584.56,215.20 584.65,215.78 584.74,215.81 584.83,220.01 584.93,223.22 585.02,214.57 585.11,212.57 585.21,219.75 585.30,226.06 585.39,224.98 585.48,221.56 585.58,219.55 585.67,228.24 585.76,225.36 585.85,224.88 585.95,223.28 586.04,227.60 586.13,231.93 586.23,225.44 586.32,224.24 586.41,228.45 586.50,227.25 586.60,230.36 586.69,231.83 586.78,226.15 586.88,228.41 586.97,228.28 587.06,225.25 587.15,233.50 587.25,232.02 587.34,229.85 587.43,232.19 587.53,227.94 587.62,231.01 587.71,233.53 587.80,230.11 587.90,229.69 587.99,227.14 588.08,228.71 588.18,228.32 588.27,228.56 588.36,229.93 588.45,231.35 588.55,227.88 588.64,229.53 588.73,222.78 588.82,223.52 588.92,225.38 589.01,225.78 589.10,226.82 589.20,230.08 589.29,226.29 589.38,224.78 589.47,223.85 589.57,222.54 589.66,220.55 589.75,225.08 589.85,224.46 589.94,217.08 590.03,218.60 590.12,221.63 590.22,220.07 590.31,219.38 590.40,218.27 590.50,216.17 590.59,208.92 590.68,215.64 590.77,213.41 590.87,220.12 590.96,215.56 591.05,209.38 591.15,211.24 591.24,225.67 591.33,208.85 591.42,204.14 591.52,215.78 591.61,203.87 591.70,216.70 591.79,204.17 591.89,206.41 591.98,213.07 592.07,203.45 592.17,200.47 592.26,202.22 592.35,200.78 592.44,203.21 592.54,207.08 592.63,198.28 592.72,194.23 592.82,195.51 592.91,204.71 593.00,202.55 593.09,199.79 593.19,201.53 593.28,195.72 593.37,194.02 593.47,199.22 593.56,191.66 593.65,191.67 593.74,194.80 593.84,193.10 593.93,198.26 594.02,192.67 594.11,191.16 594.21,190.24 594.30,189.18 594.39,189.24 594.49,190.52 594.58,188.46 594.67,185.90 594.76,189.11 594.86,187.57 594.95,188.96 595.04,190.24 595.14,186.37 595.23,189.66 595.32,186.58 595.41,187.65 595.51,188.66 595.60,188.72 595.69,189.31 595.79,192.96 595.88,186.60 595.97,187.18 596.06,185.35 596.16,189.89 596.25,182.39 596.34,189.81 596.44,191.63 596.53,192.28 596.62,194.93 596.71,184.90 596.81,185.77 596.90,188.59 596.99,193.75 597.08,185.60 597.18,192.92 597.27,193.14 597.36,188.25 597.46,191.25 597.55,186.92 597.64,193.69 597.73,196.35 597.83,197.66 597.92,202.22 598.01,197.92 598.11,194.10 598.20,196.54 598.29,199.10 598.38,203.07 598.48,199.96 598.57,198.25 598.66,200.89 598.76,202.54 598.85,206.41 598.94,201.98 599.03,215.50 599.13,205.22 599.22,199.16 599.31,212.96 599.41,209.83 599.50,209.99 599.59,212.33 599.68,208.49 599.78,211.18 599.87,213.11 599.96,211.98 600.05,215.38 600.15,206.27 600.24,216.78 600.33,217.56 600.43,224.51 600.52,221.72 600.61,217.27 600.70,226.04 600.80,229.53 600.89,223.47 600.98,220.11 601.08,225.18 601.17,227.24 601.26,232.91 601.35,226.41 601.45,226.57 601.54,235.11 601.63,226.66 601.73,228.60 601.82,228.19 601.91,230.66 602.00,231.16 602.10,232.28 602.19,231.85 602.28,241.03 602.37,240.65 602.47,238.84 602.56,237.51 602.65,236.43 602.75,237.17 602.84,235.17 602.93,235.56 603.02,242.43 603.12,239.34 603.21,243.19 603.30,241.48 603.40,240.22 603.49,252.36 603.58,234.21 603.67,240.32 603.77,244.24 603.86,236.44 603.95,243.83 604.05,242.45 604.14,244.52 604.23,237.82 604.32,243.44 604.42,242.65 604.51,239.30 604.60,241.21 604.70,243.16 604.79,239.37 604.88,234.70 604.97,241.57 605.07,242.01 605.16,241.61 605.25,237.73 605.34,243.49 605.44,242.16 605.53,245.80 605.62,244.30 605.72,241.78 605.81,239.88 605.90,233.62 605.99,237.04 606.09,241.11 606.18,239.98 606.27,232.75 606.37,232.94 606.46,235.80 606.55,236.64 606.64,231.01 606.74,237.03 606.83,231.93 606.92,225.23 607.02,231.03 607.11,233.37 607.20,228.82 607.29,230.80 607.39,232.90 607.48,225.42 607.57,223.24 607.67,226.90 607.76,226.22 607.85,227.18 607.94,223.70 608.04,224.08 608.13,224.58 608.22,214.44 608.31,218.02 608.41,216.73 608.50,214.79 608.59,214.19 608.69,216.98 608.78,213.84 608.87,214.59 608.96,211.38 609.06,210.72 609.15,212.06 609.24,214.10 609.34,208.47 609.43,208.63 609.52,213.03 609.61,204.49 609.71,202.11 609.80,196.23 609.89,204.58 609.99,204.15 610.08,205.07 610.17,200.02 610.26,199.18 610.36,201.55 610.45,198.70 610.54,203.60 610.63,193.60 610.73,198.20 610.82,195.11 610.91,198.79 611.01,195.39 611.10,193.73 611.19,192.21 611.28,190.00 611.38,186.33 611.47,187.97 611.56,186.66 611.66,184.57 611.75,186.82 611.84,188.24 611.93,184.45 612.03,183.80 612.12,184.73 612.21,191.00 612.31,188.69 612.40,186.56 612.49,182.91 612.58,185.17 612.68,181.25 612.77,180.47 612.86,180.65 612.96,180.47 613.05,187.45 613.14,182.53 613.23,185.92 613.33,189.18 613.42,184.86 613.51,179.77 613.60,182.56 613.70,177.70 613.79,183.64 613.88,176.58 613.98,183.95 614.07,184.63 614.16,188.98 614.25,181.66 614.35,187.05 614.44,187.81 614.53,182.03 614.63,182.78 614.72,183.24 614.81,188.39 614.90,187.83 615.00,188.31 615.09,186.12 615.18,184.18 615.28,188.45 615.37,183.90 615.46,187.88 615.55,192.05 615.65,189.27 615.74,187.11 615.83,186.81 615.93,190.03 616.02,194.38 616.11,195.82 616.20,194.00 616.30,191.22 616.39,195.86 616.48,196.52 616.57,198.53 616.67,200.47 616.76,200.69 616.85,200.50 616.95,196.24 617.04,203.21 617.13,203.04 617.22,206.72 617.32,202.47 617.41,201.18 617.50,201.12 617.60,206.39 617.69,205.97 617.78,209.03 617.87,207.62 617.97,209.04 618.06,210.58 618.15,211.06 618.25,210.78 618.34,213.85 618.43,214.37 618.52,208.87 618.62,206.36 618.71,219.42 618.80,220.23 618.89,219.89 618.99,217.79 619.08,215.21 619.17,216.74 619.27,218.61 619.36,218.00 619.45,222.37 619.54,221.43 619.64,221.18 619.73,226.57 619.82,225.64 619.92,225.89 620.01,220.27 620.10,222.25 620.19,221.39 620.29,229.44 620.38,228.56 620.47,221.97 620.57,233.07 620.66,220.54 620.75,230.34 620.84,221.98 620.94,227.54 621.03,221.44 621.12,214.61 621.22,231.96 621.31,222.50 621.40,230.35 621.49,223.15 621.59,225.01 621.68,223.76 621.77,226.85 621.86,221.24 621.96,228.04 622.05,219.20 622.14,224.10 622.24,226.88 622.33,216.98 622.42,221.82 622.51,215.10 622.61,216.79 622.70,222.67 622.79,219.87 622.89,218.64 622.98,213.58 623.07,216.40 623.16,216.57 623.26,217.08 623.35,215.90 623.44,210.87 623.54,214.24 623.63,214.72 623.72,214.45 623.81,213.59 623.91,215.43 624.00,212.49 624.09,204.48 624.19,208.97 624.28,205.16 624.37,214.31 624.46,203.69 624.56,205.03 624.65,205.05 624.74,201.95 624.83,203.08 624.93,207.22 625.02,196.53 625.11,197.64 625.21,198.35 625.30,199.36 625.39,199.89 625.48,193.45 625.58,187.97 625.67,191.37 625.76,195.31 625.86,189.14 625.95,188.94 626.04,184.96 626.13,184.70 626.23,195.02 626.32,182.76 626.41,186.61 626.51,186.88 626.60,181.93 626.69,179.00 626.78,184.48 626.88,176.03 626.97,174.84 627.06,176.12 627.16,178.05 627.25,177.45 627.34,170.15 627.43,177.27 627.53,168.20 627.62,171.21 627.71,170.12 627.80,174.39 627.90,168.61 627.99,165.40 628.08,170.80 628.18,164.23 628.27,164.80 628.36,166.42 628.45,160.99 628.55,170.03 628.64,161.32 628.73,156.69 628.83,156.69 628.92,159.48 629.01,161.16 629.10,161.74 629.20,160.23 629.29,157.13 629.38,161.02 629.48,155.70 629.57,151.01 629.66,157.68 629.75,161.48 629.85,161.25 629.94,154.32 630.03,156.81 630.12,153.70 630.22,158.07 630.31,153.67 630.40,156.77 630.50,158.58 630.59,157.56 630.68,160.14 630.77,150.12 630.87,156.85 630.96,154.65 631.05,158.57 631.15,160.41 631.24,158.06 631.33,154.09 631.42,159.53 631.52,160.96 631.61,158.06 631.70,157.35 631.80,154.13 631.89,158.64 631.98,158.18 632.07,158.42 632.17,164.85 632.26,164.78 632.35,165.71 632.45,167.06 632.54,160.90 632.63,163.11 632.72,164.40 632.82,173.51 632.91,159.44 633.00,169.46 633.09,160.81 633.19,172.61 633.28,171.31 633.37,176.44 633.47,169.05 633.56,174.43 633.65,175.09 633.74,176.80 633.84,170.76 633.93,171.74 634.02,169.02 634.12,177.72 634.21,175.63 634.30,181.19 634.39,178.95 634.49,180.31 634.58,177.97 634.67,176.99 634.77,177.84 634.86,184.41 634.95,179.33 635.04,183.38 635.14,185.01 635.23,186.95 635.32,187.19 635.42,180.60 635.51,185.83 635.60,186.93 635.69,188.97 635.79,181.03 635.88,185.27 635.97,192.30 636.06,191.47 636.16,191.85 636.25,191.25 636.34,194.47 636.44,191.35 636.53,188.62 636.62,197.84 636.71,197.69 636.81,196.05 636.90,196.28 636.99,188.91 637.09,192.40 637.18,192.88 637.27,196.98 637.36,197.29 637.46,201.20 637.55,194.30 637.64,195.37 637.74,192.97 637.83,197.81 637.92,197.65 638.01,196.69 638.11,194.40 638.20,201.86 638.29,194.80 638.38,197.10 638.48,200.26 638.57,203.36 638.66,196.99 638.76,191.74 638.85,190.77 638.94,194.67 639.03,189.26 639.13,195.27 639.22,191.74 639.31,195.78 639.41,195.55 639.50,195.60 639.59,199.49 639.68,188.36 639.78,193.92 639.87,193.85 639.96,194.45 640.06,190.72 640.15,183.83 640.24,182.10 640.33,193.30 640.43,188.44 640.52,189.84 640.61,182.66 640.71,184.09 640.80,186.21 640.89,183.13 640.98,184.02 641.08,176.53 641.17,179.03 641.26,177.74 641.35,187.41 641.45,178.24 641.54,170.49 641.63,171.94 641.73,181.04 641.82,175.21 641.91,177.05 642.00,166.84 642.10,170.50 642.19,172.72 642.28,169.18 642.38,176.56 642.47,170.73 642.56,166.18 642.65,162.62 642.75,170.46 642.84,164.52 642.93,159.12 643.03,165.95 643.12,159.64 643.21,159.19 643.30,153.01 643.40,158.23 643.49,157.11 643.58,152.93 643.68,158.94 643.77,154.54 643.86,154.40 643.95,152.54 644.05,148.56 644.14,148.67 644.23,151.99 644.32,148.40 644.42,143.34 644.51,149.96 644.60,146.14 644.70,146.52 644.79,145.44 644.88,149.76 644.97,139.50 645.07,145.84 645.16,139.57 645.25,144.25 645.35,143.76 645.44,137.46 645.53,137.70 645.62,139.78 645.72,137.64 645.81,140.62 645.90,139.41 646.00,141.19 646.09,135.97 646.18,140.81 646.27,133.72 646.37,139.27 646.46,138.08 646.55,135.65 646.64,137.93 646.74,138.93 646.83,138.09 646.92,135.21 647.02,140.22 647.11,138.64 647.20,138.35 647.29,135.82 647.39,139.10 647.48,133.29 647.57,139.80 647.67,140.37 647.76,140.50 647.85,144.51 647.94,144.03 648.04,142.86 648.13,138.04 648.22,142.24 648.32,144.19 648.41,139.32 648.50,138.87 648.59,140.41 648.69,147.72 648.78,147.24 648.87,140.60 648.97,146.29 649.06,148.63 649.15,146.25 649.24,146.10 649.34,151.89 649.43,150.19 649.52,148.77 649.61,156.22 649.71,153.36 649.80,157.80 649.89,158.27 649.99,157.83 650.08,155.44 650.17,158.89 650.26,160.85 650.36,159.56 650.45,164.30 650.54,160.25 650.64,158.98 650.73,163.77 650.82,165.11 650.91,164.24 651.01,172.81 651.10,165.63 651.19,158.45 651.29,169.62 651.38,170.56 651.47,168.76 651.56,166.83 651.66,169.88 651.75,180.71 651.84,172.99 651.94,167.51 652.03,174.57 652.12,181.07 652.21,177.36 652.31,183.15 652.40,175.99 652.49,183.73 652.58,181.24 652.68,184.95 652.77,184.70 652.86,178.98 652.96,184.05 653.05,186.82 653.14,189.33 653.23,192.25 653.33,190.88 653.42,187.13 653.51,184.92 653.61,190.32 653.70,184.05 653.79,191.76 653.88,190.67 653.98,193.73 654.07,187.54 654.16,184.37 654.26,196.91 654.35,192.70 654.44,187.83 654.53,196.64 654.63,190.44 654.72,188.51 654.81,192.25 654.90,190.84 655.00,187.05 655.09,186.48 655.18,192.84 655.28,194.28 655.37,195.43 655.46,189.31 655.55,196.61 655.65,192.89 655.74,191.56 655.83,193.24 655.93,190.50 656.02,182.96 656.11,191.15 656.20,191.79 656.30,186.81 656.39,188.85 656.48,184.61 656.58,188.19 656.67,189.01 656.76,193.36 656.85,192.29 656.95,192.41 657.04,184.80 657.13,189.72 657.23,180.79 657.32,184.02 657.41,184.22 657.50,185.43 657.60,180.07 657.69,183.87 657.78,183.71 657.87,176.06 657.97,177.94 658.06,179.03 658.15,175.46 658.25,176.66 658.34,174.67 658.43,177.66 658.52,167.68 658.62,175.25 658.71,167.65 658.80,172.34 658.90,168.35 658.99,167.74 659.08,165.59 659.17,171.06 659.27,164.15 659.36,160.88 659.45,166.73 659.55,164.98 659.64,165.94 659.73,164.57 659.82,157.26 659.92,165.09 660.01,164.12 660.10,155.28 660.20,157.66 660.29,152.20 660.38,159.64 660.47,157.12 660.57,158.94 660.66,155.74 660.75,161.19 660.84,152.78 660.94,153.34 661.03,153.99 661.12,154.50 661.22,155.59 661.31,149.96 661.40,155.52 661.49,149.75 661.59,144.39 661.68,145.88 661.77,155.02 661.87,151.63 661.96,148.31 662.05,149.61 662.14,153.60 662.24,147.76 662.33,148.85 662.42,142.63 662.52,149.41 662.61,144.85 662.70,152.54 662.79,151.80 662.89,146.30 662.98,145.23 663.07,151.81 663.17,148.85 663.26,153.49 663.35,149.90 663.44,146.93 663.54,151.24 663.63,150.97 663.72,154.12 663.81,152.98 663.91,145.77 664.00,151.57 664.09,155.46 664.19,153.80 664.28,158.42 664.37,157.15 664.46,150.23 664.56,155.64 664.65,149.86 664.74,156.85 664.84,157.39 664.93,156.00 665.02,167.28 665.11,158.97 665.21,160.60 665.30,156.59 665.39,159.12 665.49,166.67 665.58,160.05 665.67,165.76 665.76,168.75 665.86,166.24 665.95,168.50 666.04,163.99 666.13,168.81 666.23,170.27 666.32,169.12 666.41,169.57 666.51,171.62 666.60,170.68 666.69,174.34 666.78,176.83 666.88,174.53 666.97,179.85 667.06,180.56 667.16,176.31 667.25,177.73 667.34,184.01 667.43,186.52 667.53,181.54 667.62,184.74 667.71,187.37 667.81,190.47 667.90,189.47 667.99,191.66 668.08,194.75 668.18,193.27 668.27,193.87 668.36,196.92 668.46,193.86 668.55,193.62 668.64,195.60 668.73,200.50 668.83,198.16 668.92,201.21 669.01,206.26 669.10,201.08 669.20,203.59 669.29,196.64 669.38,201.04 669.48,204.17 669.57,206.37 669.66,207.35 669.75,211.73 669.85,214.72 669.94,212.60 670.03,210.57 670.13,217.66 670.22,213.24 670.31,212.80 670.40,213.17 670.50,215.02 670.59,214.41 670.68,208.23 670.78,211.93 670.87,216.11 670.96,214.81 671.05,214.92 671.15,217.47 671.24,217.63 671.33,212.12 671.43,216.75 671.52,218.95 671.61,215.65 671.70,215.13 671.80,221.72 671.89,215.52 671.98,212.53 672.07,213.72 672.17,207.91 672.26,210.80 672.35,209.94 672.45,205.39 672.54,211.57 672.63,213.13 672.72,210.20 672.82,214.67 672.91,212.15 673.00,214.10 673.10,210.32 673.19,213.16 673.28,212.75 673.37,208.72 673.47,209.90 673.56,214.99 673.65,212.89 673.75,211.29 673.84,209.80 673.93,205.03 674.02,204.96 674.12,201.59 674.21,201.86 674.30,200.13 674.39,200.86 674.49,201.38 674.58,197.80 674.67,197.60 674.77,198.55 674.86,194.93 674.95,205.61 675.04,198.30 675.14,197.56 675.23,192.14 675.32,190.02 675.42,198.80 675.51,188.94 675.60,196.34 675.69,195.46 675.79,191.81 675.88,191.31 675.97,194.48 676.07,186.73 676.16,185.89 676.25,183.98 676.34,187.98 676.44,186.03 676.53,185.31 676.62,179.20 676.72,192.88 676.81,186.30 676.90,182.64 676.99,185.50 677.09,182.31 677.18,181.34 677.27,182.51 677.36,179.72 677.46,177.46 677.55,179.75 677.64,180.02 677.74,178.72 677.83,177.85 677.92,183.01 678.01,175.73 678.11,178.35 678.20,172.67 678.29,174.59 678.39,172.57 678.48,179.34 678.57,177.20 678.66,179.88 678.76,178.13 678.85,171.91 678.94,171.19 679.04,179.60 679.13,177.50 679.22,176.42 679.31,174.48 679.41,182.10 679.50,181.83 679.59,175.46 679.69,183.49 679.78,179.06 679.87,177.49 679.96,177.08 680.06,179.28 680.15,180.45 680.24,177.11 680.33,179.41 680.43,182.92 680.52,181.34 680.61,180.87 680.71,177.28 680.80,180.91 680.89,180.26 680.98,186.78 681.08,187.27 681.17,187.14 681.26,187.66 681.36,191.23 681.45,184.88 681.54,186.97 681.63,191.64 681.73,189.56 681.82,191.83 681.91,191.21 682.01,198.73 682.10,195.92 682.19,196.65 682.28,195.50 682.38,200.50 682.47,207.48 682.56,204.04 682.65,201.86 682.75,202.53 682.84,198.47 682.93,203.04 683.03,205.71 683.12,207.16 683.21,204.64 683.30,211.10 683.40,210.76 683.49,214.85 683.58,207.97 683.68,212.30 683.77,216.85 683.86,216.03 683.95,215.10 684.05,218.55 684.14,220.47 684.23,221.87 684.33,219.72 684.42,222.91 684.51,224.18 684.60,227.93 684.70,224.38 684.79,226.11 684.88,227.44 684.98,226.66 685.07,225.76 685.16,226.73 685.25,228.00 685.35,231.29 685.44,233.06 685.53,235.29 685.62,234.55 685.72,233.26 685.81,236.44 685.90,234.24 686.00,238.17 686.09,240.91 686.18,233.55 686.27,238.12 686.37,239.70 686.46,240.91 686.55,236.47 686.65,233.78 686.74,239.71 686.83,239.38 686.92,235.52 687.02,244.84 687.11,233.02 687.20,231.62 687.30,248.02 687.39,239.80 687.48,241.77 687.57,240.30 687.67,240.72 687.76,236.72 687.85,239.51 687.95,241.87 688.04,239.31 688.13,236.89 688.22,242.00 688.32,243.15 688.41,231.27 688.50,239.25 688.59,237.24 688.69,237.62 688.78,234.15 688.87,229.77 688.97,233.02 689.06,239.11 689.15,238.10 689.24,234.36 689.34,233.31 689.43,237.25 689.52,228.50 689.62,233.83 689.71,224.92 689.80,223.13 689.89,228.92 689.99,225.94 690.08,230.43 690.17,223.72 690.27,226.44 690.36,227.45 690.45,224.05 690.54,223.73 690.64,222.39 690.73,217.45 690.82,222.05 690.91,213.14 691.01,221.93 691.10,211.68 691.19,219.10 691.29,214.96 691.38,215.59 691.47,214.20 691.56,209.65 691.66,206.52 691.75,206.59 691.84,210.74 691.94,207.97 692.03,210.15 692.12,209.94 692.21,209.56 692.31,206.46 692.40,203.45 692.49,209.48 692.59,202.76 692.68,197.02 692.77,197.50 692.86,202.16 692.96,204.00 693.05,197.41 693.14,205.53 693.24,194.00 693.33,197.57 693.42,190.47 693.51,201.17 693.61,192.23 693.70,194.93 693.79,195.16 693.88,197.99 693.98,191.32 694.07,190.66 694.16,186.77 694.26,188.89 694.35,193.65 694.44,194.68 694.53,195.59 694.63,186.37 694.72,193.33 694.81,186.03 694.91,188.95 695.00,189.49 695.09,191.47 695.18,188.40 695.28,190.58 695.37,191.77 695.46,188.49 695.56,191.29 695.65,193.54 695.74,189.31 695.83,191.65 695.93,190.17 696.02,193.47 696.11,196.20 696.21,187.24 696.30,188.24 696.39,190.78 696.48,195.27 696.58,195.49 696.67,190.68 696.76,196.74 696.85,198.21 696.95,190.88 697.04,197.60 697.13,192.50 697.23,203.23 697.32,197.86 697.41,193.67 697.50,200.89 697.60,202.60 697.69,206.25 697.78,199.93 697.88,206.63 697.97,205.34 698.06,209.81 698.15,201.83 698.25,203.99 698.34,208.65 698.43,213.11 698.53,205.50 698.62,212.45 698.71,215.72 698.80,218.73 698.90,216.13 698.99,219.63 699.08,217.93 699.18,214.53 699.27,219.02 699.36,217.63 699.45,221.98 699.55,220.40 699.64,215.43 699.73,223.53 699.82,222.10 699.92,229.17 700.01,220.25 700.10,227.44 700.20,223.44 700.29,227.99 700.38,226.47 700.47,227.07 700.57,231.40 700.66,227.25 700.75,233.84 700.85,229.67 700.94,234.05 701.03,232.36 701.12,235.56 701.22,234.54 701.31,238.67 701.40,235.02 701.50,236.18 701.59,238.51 701.68,237.43 701.77,237.24 701.87,240.01 701.96,238.81 702.05,241.91 702.14,231.57 702.24,235.90 702.33,238.60 702.42,235.93 702.52,246.06 702.61,247.99 702.70,241.22 702.79,244.35 702.89,240.72 702.98,239.27 703.07,236.93 703.17,243.33 703.26,238.30 703.35,239.33 703.44,238.04 703.54,240.52 703.63,234.18 703.72,238.55 703.82,232.22 703.91,239.94 704.00,234.63 704.09,236.69 704.19,237.02 704.28,233.42 704.37,235.79 704.47,242.67 704.56,243.29 704.65,228.87 704.74,228.29 704.84,225.47 704.93,230.74 705.02,233.99 705.11,230.40 705.21,228.19 705.30,230.55 705.39,221.24 705.49,218.45 705.58,223.10 705.67,223.69 705.76,226.79 705.86,216.79 705.95,220.44 706.04,220.57 706.14,217.09 706.23,219.43 706.32,216.04 706.41,220.01 706.51,210.91 706.60,213.60 706.69,208.50 706.79,211.72 706.88,210.41 706.97,212.72 707.06,205.36 707.16,209.45 707.25,207.11 707.34,204.47 707.44,203.00 707.53,207.71 707.62,201.96 707.71,197.64 707.81,200.30 707.90,198.77 707.99,196.51 708.08,196.41 708.18,198.28 708.27,194.14 708.36,189.91 708.46,195.44 708.55,192.37 708.64,194.66 708.73,186.41 708.83,188.83 708.92,190.40 709.01,186.60 709.11,189.93 709.20,188.64 709.29,189.26 709.38,187.32 709.48,178.97 709.57,184.96 709.66,180.55 709.76,184.11 709.85,178.51 709.94,183.67 710.03,179.82 710.13,179.34 710.22,171.72 710.31,176.74 710.40,180.28 710.50,175.94 710.59,171.07 710.68,182.79 710.78,180.11 710.87,178.04 710.96,178.50 711.05,178.15 711.15,181.19 711.24,172.60 711.33,181.59 711.43,177.79 711.52,173.94 711.61,177.49 711.70,180.67 711.80,182.05 711.89,178.74 711.98,180.69 712.08,177.95 712.17,183.38 712.26,176.73 712.35,179.34 712.45,179.54 712.54,176.03 712.63,182.48 712.73,183.91 712.82,183.89 712.91,183.33 713.00,183.60 713.10,186.57 713.19,190.99 713.28,187.01 713.37,184.77 713.47,186.18 713.56,183.53 713.65,181.87 713.75,186.41 713.84,185.20 713.93,187.93 714.02,185.73 714.12,186.08 714.21,189.74 714.30,191.33 714.40,195.04 714.49,195.35 714.58,197.12 714.67,194.91 714.77,199.99 714.86,199.15 714.95,206.84 715.05,194.73 715.14,201.72 715.23,200.39 715.32,198.02 715.42,202.48 715.51,199.64 715.60,208.93 715.70,198.16 715.79,203.06 715.88,206.58 715.97,203.44 716.07,212.36 716.16,210.24 716.25,205.41 716.34,216.54 716.44,209.46 716.53,210.14 716.62,206.14 716.72,217.94 716.81,208.33 716.90,215.69 716.99,215.78 717.09,218.66 717.18,218.63 717.27,214.27 717.37,219.40 717.46,213.82 717.55,218.53 717.64,220.51 717.74,218.53 717.83,215.94 717.92,218.01 718.02,217.11 718.11,215.06 718.20,213.85 718.29,218.24 718.39,220.51 718.48,216.86 718.57,215.47 718.66,221.42 718.76,219.40 718.85,218.61 718.94,216.70 719.04,218.14 719.13,213.12 719.22,220.05 719.31,219.54 719.41,215.12 719.50,214.12 719.59,217.63 719.69,214.37 719.78,213.11 719.87,212.44 719.96,210.04 720.06,211.91 720.15,204.39 720.24,206.76 720.34,210.07 720.43,206.39 720.52,205.44 720.61,201.10 720.71,205.95 720.80,200.68 720.89,202.03 720.99,196.46 721.08,196.10 721.17,198.55 721.26,198.97 721.36,195.47 721.45,196.58 721.54,189.60 721.63,193.58 721.73,194.00 721.82,193.05 721.91,194.31 722.01,187.56 722.10,190.77 722.19,183.54 722.28,189.96 722.38,184.30 722.47,179.90 722.56,189.21 722.66,174.83 722.75,181.42 722.84,178.48 722.93,175.97 723.03,174.34 723.12,174.65 723.21,171.24 723.31,171.65 723.40,166.62 723.49,169.47 723.58,163.84 723.68,166.16 723.77,173.72 723.86,158.71 723.96,167.82 724.05,160.29 724.14,164.01 724.23,159.81 724.33,164.47 724.42,159.44 724.51,161.39 724.60,154.77 724.70,157.60 724.79,155.28 724.88,164.39 724.98,157.11 725.07,154.89 725.16,154.86 725.25,151.94 725.35,155.60 725.44,153.77 725.53,149.70 725.63,160.23 725.72,150.73 725.81,153.29 725.90,154.79 726.00,150.54 726.09,147.47 726.18,147.85 726.28,151.39 726.37,148.05 726.46,147.98 726.55,150.95 726.65,152.84 726.74,152.68 726.83,148.06 726.92,150.94 727.02,154.26 727.11,156.45 727.20,148.67 727.30,153.28 727.39,150.78 727.48,148.20 727.57,156.63 727.67,153.00 727.76,153.81 727.85,152.51 727.95,150.26 728.04,158.91 728.13,153.42 728.22,152.52 728.32,156.98 728.41,157.44 728.50,156.32 728.60,157.22 728.69,157.16 728.78,157.94 728.87,163.57 728.97,158.07 729.06,158.29 729.15,162.19 729.25,168.32 729.34,164.77 729.43,164.62 729.52,169.71 729.62,168.08 729.71,172.27 729.80,166.75 729.89,169.03 729.99,175.66 730.08,170.21 730.17,172.39 730.27,171.46 730.36,175.23 730.45,177.41 730.54,178.20 730.64,178.34 730.73,177.44 730.82,177.89 730.92,179.81 731.01,181.39 731.10,181.99 731.19,173.74 731.29,184.93 731.38,185.03 731.47,173.59 731.57,183.44 731.66,189.87 731.75,183.53 731.84,189.76 731.94,184.65 732.03,188.83 732.12,190.16 732.22,184.24 732.31,188.10 732.40,187.33 732.49,189.52 732.59,192.77 732.68,189.85 732.77,188.35 732.86,192.12 732.96,187.16 733.05,190.47 733.14,192.76 733.24,192.85 733.33,193.40 733.42,197.96 733.51,194.39 733.61,193.48 733.70,195.54 733.79,193.15 733.89,194.12 733.98,191.67 734.07,191.91 734.16,193.33 734.26,198.01 734.35,187.78 734.44,193.64 734.54,193.15 734.63,193.65 734.72,193.74 734.81,186.89 734.91,186.95 735.00,189.46 735.09,190.70 735.19,187.85 735.28,189.00 735.37,189.23 735.46,186.92 735.56,188.72 735.65,185.82 735.74,185.24 735.83,183.22 735.93,186.31 736.02,181.28 736.11,185.57 736.21,183.66 736.30,182.64 736.39,183.46 736.48,175.92 736.58,181.27 736.67,179.45 736.76,172.28 736.86,177.08 736.95,174.87 737.04,176.47 737.13,169.59 737.23,168.52 737.32,167.82 737.41,167.41 737.51,167.82 737.60,168.66 737.69,168.53 737.78,160.80 737.88,161.41 737.97,164.97 738.06,161.60 738.15,161.63 738.25,163.22 738.34,158.05 738.43,158.91 738.53,159.61 738.62,160.28 738.71,159.57 738.80,154.83 738.90,152.97 738.99,154.55 739.08,148.80 739.18,150.19 739.27,147.28 739.36,148.85 739.45,149.95 739.55,146.30 739.64,149.90 739.73,143.45 739.83,147.43 739.92,140.87 740.01,144.21 740.10,139.16 740.20,145.50 740.29,143.55 740.38,139.68 740.48,136.70 740.57,134.69 740.66,139.44 740.75,133.38 740.85,139.80 740.94,135.11 741.03,141.33 741.12,136.80 741.22,145.38 741.31,141.38 741.40,136.25 741.50,141.84 741.59,136.32 741.68,134.83 741.77,139.36 741.87,140.95 741.96,139.53 742.05,141.27 742.15,138.76 742.24,138.38 742.33,139.98 742.42,134.05 742.52,142.02 742.61,135.75 742.70,143.91 742.80,140.87 742.89,137.88 742.98,138.60 743.07,144.12 743.17,141.65 743.26,142.74 743.35,146.47 743.45,143.53 743.54,140.33 743.63,145.51 743.72,146.02 743.82,146.51 743.91,154.13 744.00,148.92 744.09,154.50 744.19,154.06 744.28,146.28 744.37,154.89 744.47,157.41 744.56,152.40 744.65,160.06 744.74,159.49 744.84,155.14 744.93,160.00 745.02,166.12 745.12,160.50 745.21,164.53 745.30,159.45 745.39,167.32 745.49,163.12 745.58,161.88 745.67,171.27 745.77,170.23 745.86,169.43 745.95,174.42 746.04,171.88 746.14,174.47 746.23,175.54 746.32,175.60 746.41,176.51 746.51,177.18 746.60,180.55 746.69,181.34 746.79,180.86 746.88,181.51 746.97,183.63 747.06,182.05 747.16,189.65 747.25,187.00 747.34,186.33 747.44,188.89 747.53,181.72 747.62,187.50 747.71,187.65 747.81,190.35 747.90,189.45 747.99,193.80 748.09,190.99 748.18,193.90 748.27,192.25 748.36,199.89 748.46,195.72 748.55,187.84 748.64,190.14 748.74,188.85 748.83,188.85 748.92,191.29 749.01,195.00 749.11,196.95 749.20,190.09 749.29,193.55 749.38,185.83 749.48,194.85 749.57,187.34 749.66,193.96 749.76,189.07 749.85,187.72 749.94,196.10 750.03,194.12 750.13,195.54 750.22,195.81 750.31,189.42 750.41,191.74 750.50,190.50 750.59,188.42 750.68,195.55 750.78,185.04 750.87,189.65 750.96,186.25 751.06,185.34 751.15,182.30 751.24,186.30 751.33,191.99 751.43,184.34 751.52,183.14 751.61,186.28 751.71,181.74 751.80,182.54 751.89,184.82 751.98,177.59 752.08,180.65 752.17,179.29 752.26,178.58 752.35,172.31 752.45,175.46 752.54,174.18 752.63,174.92 752.73,171.14 752.82,167.42 752.91,168.73 753.00,167.69 753.10,167.04 753.19,172.43 753.28,169.93 753.38,166.91 753.47,167.68 753.56,167.89 753.65,169.59 753.75,167.07 753.84,162.79 753.93,161.38 754.03,162.87 754.12,159.33 754.21,160.20 754.30,154.63 754.40,157.89 754.49,154.48 754.58,155.38 754.67,159.84 754.77,155.07 754.86,158.12 754.95,154.00 755.05,155.50 755.14,151.45 755.23,156.46 755.32,151.74 755.42,149.59 755.51,148.18 755.60,153.17 755.70,150.42 755.79,149.66 755.88,145.14 755.97,154.58 756.07,152.65 756.16,140.80 756.25,150.51 756.35,155.64 756.44,151.53 756.53,158.55 756.62,149.13 756.72,147.49 756.81,153.15 756.90,152.00 757.00,147.86 757.09,156.66 757.18,155.67 757.27,152.61 757.37,154.71 757.46,153.74 757.55,157.34 757.64,153.21 757.74,154.96 757.83,153.37 757.92,155.15 758.02,155.83 758.11,161.81 758.20,156.43 758.29,159.84 758.39,160.16 758.48,157.17 758.57,163.66 758.67,158.02 758.76,158.67 758.85,161.84 758.94,168.33 759.04,173.17 759.13,163.86 759.22,167.99 759.32,171.78 759.41,166.80 759.50,174.37 759.59,174.11 759.69,172.24 759.78,178.59 759.87,176.57 759.97,173.94 760.06,177.90 760.15,175.80 760.24,177.35 760.34,182.11 760.43,190.74 760.52,188.02 760.61,183.29 760.71,191.80 760.80,189.10 760.89,188.16 760.99,185.74 761.08,193.37 761.17,194.73 761.26,193.98 761.36,193.82 761.45,196.51 761.54,193.77 761.64,200.69 761.73,198.82 761.82,198.80 761.91,202.47 762.01,199.51 762.10,202.64 762.19,201.53 762.29,204.30 762.38,204.58 762.47,208.60 762.56,209.40 762.66,204.28 762.75,206.87 762.84,212.83 762.93,209.67 763.03,218.40 763.12,213.28 763.21,208.96 763.31,212.92 763.40,212.62 763.49,223.00 763.58,215.08 763.68,213.12 763.77,213.03 763.86,211.73 763.96,215.69 764.05,215.74 764.14,219.59 764.23,216.13 764.33,219.56 764.42,221.45 764.51,219.03 764.61,210.76 764.70,216.31 764.79,214.63 764.88,216.79 764.98,220.64 765.07,211.75 765.16,221.33 765.26,215.89 765.35,213.95 765.44,212.66 765.53,215.28 765.63,218.35 765.72,214.58 765.81,213.90 765.90,213.43 766.00,207.33 766.09,213.64 766.18,208.21 766.28,208.01 766.37,204.78 766.46,207.55 766.55,203.89 766.65,206.20 766.74,203.51 766.83,208.87 766.93,211.67 767.02,201.29 767.11,200.29 767.20,199.31 767.30,201.64 767.39,194.39 767.48,199.71 767.58,196.05 767.67,194.62 767.76,190.18 767.85,195.76 767.95,195.95 768.04,197.75 768.13,187.21 768.23,189.93 768.32,188.98 768.41,179.69 768.50,187.70 768.60,192.04 768.69,187.72 768.78,189.39 768.87,186.78 768.97,186.04 769.06,185.88 769.15,187.71 769.25,177.55 769.34,180.98 769.43,181.99 769.52,178.25 769.62,178.56 769.71,178.61 769.80,176.77 769.90,178.01 769.99,175.84 770.08,175.13 770.17,176.59 770.27,177.43 770.36,171.54 770.45,177.60 770.55,174.58 770.64,174.28 770.73,177.33 770.82,177.81 770.92,176.26 771.01,176.62 771.10,179.65 771.20,177.10 771.29,174.24 771.38,171.15 771.47,173.54 771.57,183.70 771.66,173.64 771.75,177.69 771.84,174.78 771.94,176.59 772.03,177.53 772.12,177.65 772.22,177.85 772.31,174.00 772.40,178.85 772.49,175.91 772.59,176.98 772.68,178.48 772.77,186.93 772.87,178.43 772.96,184.17 773.05,181.22 773.14,187.38 773.24,188.89 773.33,179.74 773.42,189.93 773.52,184.19 773.61,188.39 773.70,191.08 773.79,190.88 773.89,195.89 773.98,192.85 774.07,197.30 774.16,196.20 774.26,193.10 774.35,196.34 774.44,202.97 774.54,196.71 774.63,200.58 774.72,203.43 774.81,200.50 774.91,204.57 775.00,208.91 775.09,200.53 775.19,207.61 775.28,208.99 775.37,211.19 775.46,207.33 775.56,213.90 775.65,218.28 775.74,216.68 775.84,211.46 775.93,214.15 776.02,218.70 776.11,214.63 776.21,217.69 776.30,221.96 776.39,222.68 776.49,222.12 776.58,226.80 776.67,225.11 776.76,225.09 776.86,232.33 776.95,228.47 777.04,229.69 777.13,226.30 777.23,236.20 777.32,232.32 777.41,233.37 777.51,229.49 777.60,233.33 777.69,228.12 777.78,232.30 777.88,236.24 777.97,234.69 778.06,237.04 778.16,233.62 778.25,240.95 778.34,239.68 778.43,235.93 778.53,233.75 778.62,244.83 778.71,233.67 778.81,238.61 778.90,244.23 778.99,247.82 779.08,243.16 779.18,238.34 779.27,238.41 779.36,236.07 779.46,239.66 779.55,241.23 779.64,238.78 779.73,237.08 779.83,236.13 779.92,239.01 780.01,233.25 780.10,237.64 780.20,237.95 780.29,236.40 780.38,230.73 780.48,233.98 780.57,235.14 780.66,229.36 780.75,224.83 780.85,230.25 780.94,226.28 781.03,226.14 781.13,230.56 781.22,227.75 781.31,231.07 781.40,226.80 781.50,227.26 781.59,225.66 781.68,225.85 781.78,223.46 781.87,219.92 781.96,221.04 782.05,225.60 782.15,221.09 782.24,222.56 782.33,215.99 782.42,214.18 782.52,213.97 782.61,216.29 782.70,212.02 782.80,213.31 782.89,214.44 782.98,207.50 783.07,206.29 783.17,204.92 783.26,208.90 783.35,202.30 783.45,206.68 783.54,202.14 783.63,204.94 783.72,203.16 783.82,209.27 783.91,201.72 784.00,199.67 784.10,200.47 784.19,192.85 784.28,201.37 784.37,198.77 784.47,199.18 784.56,197.45 784.65,191.79 784.75,189.79 784.84,196.15 784.93,195.71 785.02,196.61 785.12,188.37 785.21,188.55 785.30,192.08 785.39,195.84 785.49,195.27 785.58,190.34 785.67,188.93 785.77,197.05 785.86,191.40 785.95,185.16 786.04,190.94 786.14,185.52 786.23,188.22 786.32,193.80 786.42,191.41 786.51,191.05 786.60,193.86 786.69,194.16 786.79,186.59 786.88,194.78 786.97,188.63 787.07,193.83 787.16,192.97 787.25,191.58 787.34,195.77 787.44,192.62 787.53,201.49 787.62,194.22 787.72,204.09 787.81,197.67 787.90,194.95 787.99,196.43 788.09,203.29 788.18,203.68 788.27,202.98 788.36,201.06 788.46,208.96 788.55,203.46 788.64,203.35 788.74,206.17 788.83,204.56 788.92,206.48 789.01,209.89 789.11,215.31 789.20,209.76 789.29,214.22 789.39,214.06 789.48,211.74 789.57,209.80 789.66,215.46 789.76,214.62 789.85,222.00 789.94,217.68 790.04,219.69 790.13,216.63 790.22,223.26 790.31,223.33 790.41,220.21 790.50,224.85 790.59,229.05 790.68,218.41 790.78,230.87 790.87,228.58 790.96,228.18 791.06,229.32 791.15,231.63 791.24,232.45 791.33,233.42 791.43,237.00 791.52,227.40 791.61,235.64 791.71,233.75 791.80,237.36 791.89,238.05 791.98,238.97 792.08,243.00 792.17,239.11 792.26,240.38 792.36,235.82 792.45,243.74 792.54,242.14 792.63,243.48 792.73,236.35 792.82,243.92 792.91,239.58 793.01,238.45 793.10,242.10 793.19,246.07 793.28,246.06 793.38,239.00 793.47,245.66 793.56,240.32 793.65,241.05 793.75,240.03 793.84,239.50 793.93,243.68 794.03,243.49 794.12,237.77 794.21,241.63 794.30,247.91 794.40,236.65 794.49,241.46 794.58,236.13 794.68,232.60 794.77,236.32 794.86,232.54 794.95,234.49 795.05,229.20 795.14,236.82 795.23,232.66 795.33,229.66 795.42,231.52 795.51,226.36 795.60,230.45 795.70,221.56 795.79,220.42 795.88,225.24 795.98,223.36 796.07,220.29 796.16,226.76 796.25,226.08 796.35,216.84 796.44,218.84 796.53,219.30 796.62,217.42 796.72,223.87 796.81,215.76 796.90,216.39 797.00,209.94 797.09,208.53 797.18,208.70 797.27,208.12 797.37,212.96 797.46,205.19 797.55,203.93 797.65,200.84 797.74,196.95 797.83,207.92 797.92,202.69 798.02,202.73 798.11,198.76 798.20,198.22 798.30,197.98 798.39,192.97 798.48,198.74 798.57,197.59 798.67,196.61 798.76,193.60 798.85,195.47 798.94,190.89 799.04,190.44 799.13,191.63 799.22,185.62 799.32,187.86 799.41,183.62 799.50,186.96 799.59,185.82 799.69,186.95 799.78,184.66 799.87,181.89 799.97,185.00 800.06,181.65 800.15,185.50 800.24,180.19 800.34,184.15 800.43,179.36 800.52,181.67 800.62,176.88 800.71,185.25 800.80,186.20 800.89,183.44 800.99,185.89 801.08,185.93 801.17,179.68 801.27,181.80 801.36,183.48 801.45,183.41 801.54,184.33 801.64,177.51 801.73,185.41 801.82,187.64 801.91,181.34 802.01,185.00 802.10,178.33 802.19,186.98 802.29,183.18 802.38,183.02 802.47,188.72 802.56,190.06 802.66,186.03 802.75,187.26 802.84,194.28 802.94,194.14 803.03,199.37 803.12,190.24 803.21,193.77 803.31,194.29 803.40,199.99 803.49,198.97 803.59,197.89 803.68,199.39 803.77,197.79 803.86,197.22 803.96,192.79 804.05,200.97 804.14,198.30 804.24,205.39 804.33,208.99 804.42,205.72 804.51,210.59 804.61,206.39 804.70,209.82 804.79,214.44 804.88,203.63 804.98,211.71 805.07,216.06 805.16,208.86 805.26,214.85 805.35,209.89 805.44,216.45 805.53,216.61 805.63,214.54 805.72,214.47 805.81,214.60 805.91,217.99 806.00,216.66 806.09,216.57 806.18,218.87 806.28,220.49 806.37,225.12 806.46,219.11 806.56,221.30 806.65,223.14 806.74,218.13 806.83,227.02 806.93,217.56 807.02,223.07 807.11,222.19 807.21,224.60 807.30,228.74 807.39,223.96 807.48,222.48 807.58,221.38 807.67,224.09 807.76,230.30 807.85,228.08 807.95,216.49 808.04,226.22 808.13,217.95 808.23,225.10 808.32,222.35 808.41,219.37 808.50,223.50 808.60,215.35 808.69,219.62 808.78,217.81 808.88,219.50 808.97,215.90 809.06,212.28 809.15,216.97 809.25,210.29 809.34,216.90 809.43,211.70 809.53,211.69 809.62,215.71 809.71,210.71 809.80,210.39 809.90,212.11 809.99,207.24 810.08,206.86 810.17,206.48 810.27,205.36 810.36,204.31 810.45,204.04 810.55,201.27 810.64,202.58 810.73,190.93 810.82,202.61 810.92,198.78 811.01,197.31 811.10,188.01 811.20,197.42 811.29,190.64 811.38,189.96 811.47,188.45 811.57,184.34 811.66,183.17 811.75,187.21 811.85,183.94 811.94,189.25 812.03,181.81 812.12,183.45 812.22,180.34 812.31,183.92 812.40,176.14 812.50,181.67 812.59,174.71 812.68,177.98 812.77,175.72 812.87,168.32 812.96,169.11 813.05,166.34 813.14,164.08 813.24,170.55 813.33,162.45 813.42,170.99 813.52,163.15 813.61,166.29 813.70,166.92 813.79,161.31 813.89,159.58 813.98,159.04 814.07,160.66 814.17,160.37 814.26,158.60 814.35,158.84 814.44,157.65 814.54,158.34 814.63,155.97 814.72,163.50 814.82,158.50 814.91,162.26 815.00,156.83 815.09,152.38 815.19,159.01 815.28,157.08 815.37,155.09 815.47,164.10 815.56,159.30 815.65,156.63 815.74,167.16 815.84,161.30 815.93,154.98 816.02,155.60 816.11,157.94 816.21,156.72 816.30,159.27 816.39,158.65 816.49,161.91 816.58,161.08 816.67,164.02 816.76,158.62 816.86,158.43 816.95,159.55 817.04,165.91 817.14,168.36 817.23,162.03 817.32,165.13 817.41,166.60 817.51,170.47 817.60,167.95 817.69,173.59 817.79,169.01 817.88,167.53 817.97,167.63 818.06,171.47 818.16,179.01 818.25,174.93 818.34,169.70 818.43,180.18 818.53,178.55 818.62,174.82 818.71,178.28 818.81,173.31 818.90,184.42 818.99,186.16 819.08,180.05 819.18,188.62 819.27,186.35 819.36,186.81 819.46,184.18 819.55,186.36 819.64,187.68 819.73,191.21 819.83,186.86 819.92,178.71 820.01,190.01 820.11,192.59 820.20,197.69 820.29,196.25 820.38,195.52 820.48,197.12 820.57,196.03 820.66,190.86 820.76,193.02 820.85,197.92 820.94,201.65 821.03,193.95 821.13,198.67 821.22,204.27 821.31,196.79 821.40,196.00 821.50,207.10 821.59,202.14 821.68,199.96 821.78,197.31 821.87,201.26 821.96,202.21 822.05,197.17 822.15,200.81 822.24,197.42 822.33,202.43 822.43,202.92 822.52,195.92 822.61,197.15 822.70,194.62 822.80,198.78 822.89,199.13 822.98,191.76 823.08,200.33 823.17,190.93 823.26,190.06 823.35,190.83 823.45,195.01 823.54,194.66 823.63,191.94 823.73,194.55 823.82,192.63 823.91,186.64 824.00,185.71 824.10,190.14 824.19,183.69 824.28,183.39 824.37,179.01 824.47,180.95 824.56,178.32 824.65,179.07 824.75,176.37 824.84,182.43 824.93,177.60 825.02,176.19 825.12,175.67 825.21,172.32 825.30,170.54 825.40,170.13 825.49,170.75 825.58,171.33 825.67,164.34 825.77,165.52 825.86,168.68 825.95,164.89 826.05,168.64 826.14,161.84 826.23,161.44 826.32,161.50 826.42,153.54 826.51,161.13 826.60,154.15 826.69,148.40 826.79,150.88 826.88,153.38 826.97,155.89 827.07,155.65 827.16,151.70 827.25,151.67 827.34,150.90 827.44,148.82 827.53,147.30 827.62,144.67 827.72,149.40 827.81,146.94 827.90,144.63 827.99,144.13 828.09,137.11 828.18,141.66 828.27,147.02 828.37,140.13 828.46,139.32 828.55,141.08 828.64,144.22 828.74,134.53 828.83,143.26 828.92,137.60 829.02,138.92 829.11,137.57 829.20,134.02 829.29,137.66 829.39,141.26 829.48,136.08 829.57,141.73 829.66,139.40 829.76,144.25 829.85,143.70 829.94,140.59 830.04,139.95 830.13,146.92 830.22,140.40 830.31,145.07 830.41,138.94 830.50,144.69 830.59,147.74 830.69,144.58 830.78,148.41 830.87,142.20 830.96,146.97 831.06,148.23 831.15,146.69 831.24,152.59 831.34,154.36 831.43,149.87 831.52,155.57 831.61,156.52 831.71,151.34 831.80,153.31 831.89,159.95 831.99,158.95 832.08,160.88 832.17,153.43 832.26,157.24 832.36,162.51 832.45,160.42 832.54,167.61 832.63,166.52 832.73,165.13 832.82,165.11 832.91,167.92 833.01,167.89 833.10,169.49 833.19,171.31 833.28,172.78 833.38,174.22 833.47,173.15 833.56,173.58 833.66,175.24 833.75,180.57 833.84,180.94 833.93,177.43 834.03,174.93 834.12,179.98 834.21,182.61 834.31,181.41 834.40,186.51 834.49,179.51 834.58,183.79 834.68,187.19 834.77,186.25 834.86,188.00 834.95,182.75 835.05,188.09 835.14,187.46 835.23,186.59 835.33,191.17 835.42,188.59 835.51,188.67 835.60,194.75 835.70,189.27 835.79,190.42 835.88,190.02 835.98,190.44 836.07,189.80 836.16,186.41 836.25,194.36 836.35,191.65 836.44,188.34 836.53,188.77 836.63,188.64 836.72,181.13 836.81,187.63 836.90,185.66 837.00,189.85 837.09,191.61 837.18,189.01 837.28,185.26 837.37,185.70 837.46,185.14 837.55,186.49 837.65,186.35 837.74,185.06 837.83,181.48 837.92,180.37 838.02,185.45 838.11,179.04 838.20,182.69 838.30,178.28 838.39,179.50 838.48,173.02 838.57,178.38 838.67,175.54 838.76,173.21 838.85,176.93 838.95,173.39 839.04,172.99 839.13,172.75 839.22,171.49 839.32,165.53 839.41,169.91 839.50,165.17 839.60,164.92 839.69,169.30 839.78,162.17 839.87,167.26 839.97,159.75 840.06,162.32 840.15,159.67 840.25,162.79 840.34,157.31 840.43,153.78 840.52,158.32 840.62,156.74 840.71,152.46 840.80,151.48 840.89,159.85 840.99,144.89 841.08,148.79 841.17,147.46 841.27,149.37 841.36,154.07 841.45,145.35 841.54,148.62 841.64,144.48 841.73,146.32 841.82,144.32 841.92,147.02 842.01,141.36 842.10,147.44 842.19,136.17 842.29,135.86 842.38,137.48 842.47,138.36 842.57,142.47 842.66,138.34 842.75,142.23 842.84,146.79 842.94,137.08 843.03,138.29 843.12,142.04 843.22,145.95 843.31,144.09 843.40,148.22 843.49,139.72 843.59,148.11 843.68,142.47 843.77,146.46 843.86,148.75 843.96,143.97 844.05,146.32 844.14,143.18 844.24,150.48 844.33,149.52 844.42,155.39 844.51,155.49 844.61,143.65 844.70,143.56 844.79,150.73 844.89,154.52 844.98,153.78 845.07,151.01 845.16,156.40 845.26,155.03 845.35,156.86 845.44,159.69 845.54,160.64 845.63,159.15 845.72,164.31 845.81,160.93 845.91,165.02 846.00,164.30 846.09,161.52 846.18,167.64 846.28,165.41 846.37,175.22 846.46,172.26 846.56,171.91 846.65,167.13 846.74,180.67 846.83,175.99 846.93,172.29 847.02,180.61 847.11,180.01 847.21,179.48 847.30,181.13 847.39,177.92 847.48,182.62 847.58,180.97 847.67,187.44 847.76,189.74 847.86,189.18 847.95,193.19 848.04,189.00 848.13,192.75 848.23,194.62 848.32,191.84 848.41,197.95 848.51,192.75 848.60,197.54 848.69,193.14 848.78,198.82 848.88,196.29 848.97,198.40 849.06,197.25 849.15,199.86 849.25,206.03 849.34,198.07 849.43,202.01 849.53,199.65 849.62,200.35 849.71,205.32 849.80,206.05 849.90,201.31 849.99,204.54 850.08,200.76 850.18,204.39 850.27,200.64 850.36,202.55 850.45,202.94 850.55,204.95 850.64,202.90 850.73,199.68 850.83,203.42 850.92,201.30 851.01,202.53 851.10,201.94 851.20,196.48 851.29,197.71 851.38,200.80 851.48,199.86 851.57,202.23 851.66,199.97 851.75,197.83 851.85,195.47 851.94,195.11 852.03,200.29 852.12,192.94 852.22,195.56 852.31,197.61 852.40,189.43 852.50,188.20 852.59,191.14 852.68,188.86 852.77,187.78 852.87,184.88 852.96,186.08 853.05,191.66 853.15,180.14 853.24,182.19 853.33,186.23 853.42,186.92 853.52,181.10 853.61,182.62 853.70,179.74 853.80,177.48 853.89,180.69 853.98,181.50 854.07,175.81 854.17,177.82 854.26,174.77 854.35,178.61 854.44,174.28 854.54,170.38 854.63,169.90 854.72,173.52 854.82,173.95 854.91,169.46 855.00,167.01 855.09,166.82 855.19,169.07 855.28,165.88 855.37,161.48 855.47,165.04 855.56,170.35 855.65,164.05 855.74,157.78 855.84,167.94 855.93,163.41 856.02,163.91 856.12,162.62 856.21,162.09 856.30,158.91 856.39,162.12 856.49,158.25 856.58,162.63 856.67,163.38 856.77,164.44 856.86,168.18 856.95,161.69 857.04,156.25 857.14,161.55 857.23,161.11 857.32,164.94 857.41,164.79 857.51,161.32 857.60,158.55 857.69,160.72 857.79,163.45 857.88,166.50 857.97,166.60 858.06,170.35 858.16,173.29 858.25,173.05 858.34,170.14 858.44,172.08 858.53,176.70 858.62,173.09 858.71,174.94 858.81,178.64 858.90,177.13 858.99,178.03 859.09,180.05 859.18,176.26 859.27,186.37 859.36,187.79 859.46,182.66 859.55,183.57 859.64,183.81 859.74,188.03 859.83,190.48 859.92,188.85 860.01,191.49 860.11,186.45 860.20,193.67 860.29,194.10 860.38,187.37 860.48,197.12 860.57,196.02 860.66,197.02 860.76,198.02 860.85,200.68 860.94,202.24 861.03,203.78 861.13,207.15 861.22,205.50 861.31,201.30 861.41,205.06 861.50,209.09 861.59,208.46 861.68,215.03 861.78,214.18 861.87,211.39 861.96,210.70 862.06,218.84 862.15,218.88 862.24,211.34 862.33,218.83 862.43,214.20 862.52,220.12 862.61,220.76 862.70,223.23 862.80,219.95 862.89,219.27 862.98,227.44 863.08,225.83 863.17,222.31 863.26,226.07 863.35,227.63 863.45,223.23 863.54,223.24 863.63,228.43 863.73,226.55 863.82,231.22 863.91,230.34 864.00,227.18 864.10,227.50 864.19,230.64 864.28,229.77 864.38,230.75 864.47,225.77 864.56,233.23 864.65,229.94 864.75,232.34 864.84,224.76 864.93,231.41 865.03,225.16 865.12,219.59 865.21,218.96 865.30,229.44 865.40,222.18 865.49,225.63 865.58,225.61 865.67,221.49 865.77,216.51 865.86,217.75 865.95,221.13 866.05,215.81 866.14,224.32 866.23,218.73 866.32,218.07 866.42,214.30 866.51,214.27 866.60,213.14 866.70,212.29 866.79,210.70 866.88,208.09 866.97,208.34 867.07,208.73 867.16,205.56 867.25,203.22 867.35,206.60 867.44,204.04 867.53,199.18 867.62,205.37 867.72,195.18 867.81,204.18 867.90,200.08 868.00,201.06 868.09,190.19 868.18,197.82 868.27,196.93 868.37,195.65 868.46,193.34 868.55,193.87 868.64,192.47 868.74,202.48 868.83,190.38 868.92,189.81 869.02,185.92 869.11,184.43 869.20,188.59 869.29,184.85 869.39,190.42 869.48,184.02 869.57,187.84 869.67,189.39 869.76,185.88 869.85,180.54 869.94,184.15 870.04,179.77 870.13,186.72 870.22,180.90 870.32,186.22 870.41,183.41 870.50,183.46 870.59,182.12 870.69,183.53 870.78,186.84 870.87,181.91 870.96,179.47 871.06,187.12 871.15,191.44 871.24,184.44 871.34,187.51 871.43,187.37 871.52,185.72 871.61,189.51 871.71,189.54 871.80,189.67 871.89,185.39 871.99,190.70 872.08,195.49 872.17,196.18 872.26,192.81 872.36,197.72 872.45,200.01 872.54,194.00 872.64,194.83 872.73,199.17 872.82,198.11 872.91,199.51 873.01,199.29 873.10,200.39 873.19,211.69 873.29,205.34 873.38,204.09 873.47,208.21 873.56,207.97 873.66,206.90 873.75,210.23 873.84,206.91 873.93,209.33 874.03,214.49 874.12,215.95 874.21,225.56 874.31,218.76 874.40,223.21 874.49,219.41 874.58,220.80 874.68,220.23 874.77,219.16 874.86,224.79 874.96,218.59 875.05,226.17 875.14,232.12 875.23,230.79 875.33,231.20 875.42,229.12 875.51,234.95 875.61,233.81 875.70,234.27 875.79,236.03 875.88,232.85 875.98,234.16 876.07,233.24 876.16,238.68 876.26,234.47 876.35,243.22 876.44,243.86 876.53,243.83 876.63,240.43 876.72,237.08 876.81,243.18 876.90,243.11 877.00,242.57 877.09,240.31 877.18,243.83 877.28,244.14 877.37,246.80 877.46,244.38 877.55,238.83 877.65,242.21 877.74,244.73 877.83,238.30 877.93,243.86 878.02,237.25 878.11,236.99 878.20,240.91 878.30,245.43 878.39,232.97 878.48,238.51 878.58,240.23 878.67,235.59 878.76,235.77 878.85,233.18 878.95,238.73 879.04,234.88 879.13,238.87 879.23,232.18 879.32,233.52 879.41,231.67 879.50,232.12 879.60,231.51 879.69,232.50 879.78,226.25 879.87,223.02 879.97,228.47 880.06,223.90 880.15,223.21 880.25,223.46 880.34,227.23 880.43,225.40 880.52,222.63 880.62,225.80 880.71,213.42 880.80,215.58 880.90,215.70 880.99,221.41 881.08,219.12 881.17,212.21 881.27,204.84 881.36,212.19 881.45,206.14 881.55,209.31 881.64,206.55 881.73,201.82 881.82,205.73 881.92,205.81 882.01,198.15 882.10,201.54 882.19,197.29 882.29,202.01 882.38,194.51 882.47,197.26 882.57,195.94 882.66,196.13 882.75,197.41 882.84,195.12 882.94,195.85 883.03,190.79 883.12,193.90 883.22,197.47 883.31,197.56 883.40,197.26 883.49,189.43 883.59,194.68 883.68,189.77 883.77,190.03 883.87,190.46 883.96,188.70 884.05,189.47 884.14,198.49 884.24,190.91 884.33,188.57 884.42,184.79 884.52,184.77 884.61,194.61 884.70,191.62 884.79,195.75 884.89,186.28 884.98,188.25 885.07,190.75 885.16,191.78 885.26,188.43 885.35,189.50 885.44,190.25 885.54,193.09 885.63,196.30 885.72,193.45 885.81,194.02 885.91,197.98 886.00,199.28 886.09,195.41 886.19,194.58 886.28,203.12 886.37,202.49 886.46,201.48 886.56,202.01 886.65,206.19 886.74,199.56 886.84,205.21 886.93,205.90 887.02,203.05 887.11,211.10 887.21,211.02 887.30,215.78 887.39,213.43 887.49,218.68 887.58,212.67 887.67,214.78 887.76,218.06 887.86,218.56 887.95,216.88 888.04,223.94 888.13,220.72 888.23,220.17 888.32,229.04 888.41,222.19 888.51,230.63 888.60,226.63 888.69,230.86 888.78,223.52 888.88,232.58 888.97,234.97 889.06,230.10 889.16,232.60 889.25,236.78 889.34,231.03 889.43,239.66 889.53,237.24 889.62,236.34 889.71,232.50 889.81,231.42 889.90,232.47 889.99,236.84 890.08,244.39 890.18,235.76 890.27,232.58 890.36,233.53 890.45,236.13 890.55,241.46 890.64,239.41 890.73,231.61 890.83,242.18 890.92,241.23 891.01,234.45 891.10,238.60 891.20,240.73 891.29,231.83 891.38,234.86 891.48,237.13 891.57,239.10 891.66,228.47 891.75,234.49 891.85,229.39 891.94,230.35 892.03,234.14 892.13,233.39 892.22,226.41 892.31,225.54 892.40,235.27 892.50,226.69 892.59,227.89 892.68,229.81 892.78,224.71 892.87,228.79 892.96,224.92 893.05,224.89 893.15,222.82 893.24,220.32 893.33,222.15 893.42,212.75 893.52,214.97 893.61,209.62 893.70,214.58 893.80,214.56 893.89,205.99 893.98,212.12 894.07,209.58 894.17,205.45 894.26,210.38 894.35,202.92 894.45,202.04 894.54,198.59 894.63,198.53 894.72,195.97 894.82,199.19 894.91,200.34 895.00,189.70 895.10,200.02 895.19,198.52 895.28,191.05 895.37,186.55 895.47,189.99 895.56,186.34 895.65,194.78 895.75,189.01 895.84,192.37 895.93,183.00 896.02,189.46 896.12,187.72 896.21,181.19 896.30,178.65 896.39,181.76 896.49,178.72 896.58,178.15 896.67,179.90 896.77,182.10 896.86,176.30 896.95,175.65 897.04,174.31 897.14,175.76 897.23,180.10 897.32,173.91 897.42,175.86 897.51,177.18 897.60,176.44 897.69,177.59 897.79,172.54 897.88,179.85 897.97,178.56 898.07,176.55 898.16,170.54 898.25,172.51 898.34,181.30 898.44,172.10 898.53,172.44 898.62,180.83 898.71,185.52 898.81,178.23 898.90,174.95 898.99,174.02 899.09,182.41 899.18,174.73 899.27,188.01 899.36,182.81 899.46,183.70 899.55,179.48 899.64,179.82 899.74,181.73 899.83,189.88 899.92,183.73 900.01,185.75 900.11,193.57 900.20,195.76 900.29,186.86 900.39,191.68 900.48,196.16 900.57,193.72 900.66,192.90 900.76,195.31 900.85,200.96 900.94,191.06 901.04,194.85 901.13,200.09 901.22,200.95 901.31,199.85 901.41,205.54 901.50,201.89 901.59,208.07 901.68,205.00 901.78,209.38 901.87,210.10 901.96,202.20 902.06,208.07 902.15,208.40 902.24,216.22 902.33,212.48 902.43,209.84 902.52,211.37 902.61,219.46 902.71,212.58 902.80,212.65 902.89,210.27 902.98,216.90 903.08,222.38 903.17,218.83 903.26,219.51 903.36,214.00 903.45,225.22 903.54,218.24 903.63,212.46 903.73,217.08 903.82,214.33 903.91,222.39 904.01,222.23 904.10,212.51 904.19,216.61 904.28,216.42 904.38,220.05 904.47,215.90 904.56,219.51 904.65,211.73 904.75,206.41 904.84,213.03 904.93,216.04 905.03,221.47 905.12,218.15 905.21,207.20 905.30,214.67 905.40,211.81 905.49,207.74 905.58,204.27 905.68,208.71 905.77,208.42 905.86,205.94 905.95,207.15 906.05,205.94 906.14,201.74 906.23,201.35 906.33,194.05 906.42,198.25 906.51,194.81 906.60,200.64 906.70,194.35 906.79,197.05 906.88,192.24 906.97,190.03 907.07,190.75 907.16,181.97 907.25,183.76 907.35,183.24 907.44,183.22 907.53,178.73 907.62,187.55 907.72,177.32 907.81,183.49 907.90,180.83 908.00,175.96 908.09,172.54 908.18,178.83 908.27,175.54 908.37,172.37 908.46,172.05 908.55,167.56 908.65,158.20 908.74,166.62 908.83,169.16 908.92,169.85 909.02,165.72 909.11,166.65 909.20,161.20 909.30,160.31 909.39,162.30 909.48,153.67 909.57,161.47 909.67,158.74 909.76,155.60 909.85,154.10 909.94,152.23 910.04,154.33 910.13,151.81 910.22,156.74 910.32,151.28 910.41,150.92 910.50,148.64 910.59,158.43 910.69,155.77 910.78,150.09 910.87,160.97 910.97,150.91 911.06,149.07 911.15,154.28 911.24,153.88 911.34,156.04 911.43,154.45 911.52,154.58 911.62,155.45 911.71,155.94 911.80,154.82 911.89,155.27 911.99,148.89 912.08,156.58 912.17,154.78 912.27,158.28 912.36,158.95 912.45,163.14 912.54,163.42 912.64,163.01 912.73,159.37 912.82,157.34 912.91,167.25 913.01,164.19 913.10,167.67 913.19,165.09 913.29,161.78 913.38,167.56 913.47,167.27 913.56,163.49 913.66,167.66 913.75,172.54 913.84,170.65 913.94,174.81 914.03,171.89 914.12,172.63 914.21,179.64 914.31,175.79 914.40,177.75 914.49,176.68 914.59,176.79 914.68,178.92 914.77,182.39 914.86,179.45 914.96,186.14 915.05,188.50 915.14,195.36 915.24,186.35 915.33,189.60 915.42,186.58 915.51,194.90 915.61,191.48 915.70,188.69 915.79,194.16 915.88,190.27 915.98,193.97 916.07,192.91 916.16,191.47 916.26,190.85 916.35,194.05 916.44,197.35 916.53,196.60 916.63,193.46 916.72,199.00 916.81,196.56 916.91,197.41 917.00,196.65 917.09,199.61 917.18,202.31 917.28,194.78 917.37,193.30 917.46,201.92 917.56,194.90 917.65,192.42 917.74,193.69 917.83,196.58 917.93,197.88 918.02,194.21 918.11,193.20 918.20,193.17 918.30,193.47 918.39,195.72 918.48,190.29 918.58,189.43 918.67,189.54 918.76,189.04 918.85,183.24 918.95,189.67 919.04,182.73 919.13,188.17 919.23,181.35 919.32,179.95 919.41,183.75 919.50,176.49 919.60,179.17 919.69,182.32 919.78,179.58 919.88,173.64 919.97,173.12 920.06,178.21 920.15,174.08 920.25,171.77 920.34,172.79 920.43,162.46 920.53,167.95 920.62,167.64 920.71,162.42 920.80,166.10 920.90,160.51 920.99,167.75 921.08,162.67 921.17,156.69 921.27,153.84 921.36,160.08 921.45,159.28 921.55,153.51 921.64,156.16 921.73,153.93 921.82,149.23 921.92,152.68 922.01,156.17 922.10,153.08 922.20,147.98 922.29,153.00 922.38,147.16 922.47,149.80 922.57,139.39 922.66,136.97 922.75,146.48 922.85,141.65 922.94,144.89 923.03,142.26 923.12,135.04 923.22,141.76 923.31,140.77 923.40,142.48 923.50,135.54 923.59,149.26 923.68,140.10 923.77,138.68 923.87,140.53 923.96,135.64 924.05,134.57 924.14,142.91 924.24,131.91 924.33,143.22 924.42,134.84 924.52,138.72 924.61,141.11 924.70,141.18 924.79,140.41 924.89,140.11 924.98,144.20 925.07,142.59 925.17,144.91 925.26,146.97 925.35,146.41 925.44,148.21 925.54,146.67 925.63,144.79 925.72,146.64 925.82,141.66 925.91,155.85 926.00,148.32 926.09,150.77 926.19,149.22 926.28,150.58 926.37,154.44 926.46,154.46 926.56,158.48 926.65,155.30 926.74,164.34 926.84,157.07 926.93,160.77 927.02,163.41 927.11,163.78 927.21,164.73 927.30,161.29 927.39,156.33 927.49,163.89 927.58,170.72 927.67,168.09 927.76,169.10 927.86,175.31 927.95,177.49 928.04,174.80 928.14,173.12 928.23,181.85 928.32,180.06 928.41,176.97 928.51,179.64 928.60,176.23 928.69,186.12 928.79,175.07 928.88,188.25 928.97,190.62 929.06,185.15 929.16,189.29 929.25,186.51 929.34,187.27 929.43,188.26 929.53,190.87 929.62,187.34 929.71,190.18 929.81,186.09 929.90,190.52 929.99,193.32 930.08,195.88 930.18,191.28 930.27,194.92 930.36,195.29 930.46,189.39 930.55,196.70 930.64,186.54 930.73,190.41 930.83,190.91 930.92,193.85 931.01,187.89 931.11,190.02 931.20,191.83 931.29,188.62 931.38,194.14 931.48,193.49 931.57,191.31 931.66,186.06 931.76,186.55 931.85,182.54 931.94,188.07 932.03,182.58 932.13,183.97 932.22,185.77 932.31,180.70 932.40,181.24 932.50,182.10 932.59,179.02 932.68,178.59 932.78,177.67 932.87,177.46 932.96,179.25 933.05,173.81 933.15,175.52 933.24,175.12 933.33,171.55 933.43,167.35 933.52,167.97 933.61,169.13 933.70,168.13 933.80,163.19 933.89,171.69 933.98,160.45 934.08,167.82 934.17,165.27 934.26,161.34 934.35,151.77 934.45,152.29 934.54,154.34 934.63,154.45 934.72,160.50 934.82,153.15 934.91,154.47 935.00,154.42 935.10,150.49 935.19,151.64 935.28,146.61 935.37,154.75 935.47,147.66 935.56,150.02 935.65,147.91 935.75,145.06 935.84,149.03 935.93,144.48 936.02,145.23 936.12,146.26 936.21,145.32 936.30,144.03 936.40,145.74 936.49,143.10 936.58,143.87 936.67,144.85 936.77,137.85 936.86,141.60 936.95,144.22 937.05,142.68 937.14,146.59 937.23,144.97 937.32,144.90 937.42,148.20 937.51,143.43 937.60,146.72 937.69,146.76 937.79,148.00 937.88,137.43 937.97,149.57 938.07,154.74 938.16,154.01 938.25,147.34 938.34,146.36 938.44,153.64 938.53,148.36 938.62,151.03 938.72,154.99 938.81,156.26 938.90,155.94 938.99,154.84 939.09,157.50 939.18,162.07 939.27,161.66 939.37,156.05 939.46,162.77 939.55,162.06 939.64,164.38 939.74,166.51 939.83,168.33 939.92,167.13 940.02,169.01 940.11,171.77 940.20,176.13 940.29,174.03 940.39,176.78 940.48,178.86 940.57,170.69 940.66,185.36 940.76,178.72 940.85,185.76 940.94,183.86 941.04,177.36 941.13,189.77 941.22,190.19 941.31,189.11 941.41,192.88 941.50,188.49 941.59,194.05 941.69,191.32 941.78,198.60 941.87,201.08 941.96,197.00 942.06,202.12 942.15,193.18 942.24,203.63 942.34,202.82 942.43,198.92 942.52,202.74 942.61,206.30 942.71,195.58 942.80,205.72 942.89,203.62 942.98,204.06 943.08,201.50 943.17,202.58 943.26,206.91 943.36,205.50 943.45,205.33 943.54,202.31 943.63,208.42 943.73,198.29 943.82,207.01 943.91,204.50 944.01,207.97 944.10,208.17 944.19,206.54 944.28,206.51 944.38,204.36 944.47,205.72 944.56,199.93 944.66,204.09 944.75,203.88 944.84,201.68 944.93,196.63 945.03,198.41 945.12,198.68 945.21,202.14 945.31,200.43 945.40,200.03 945.49,190.98 945.58,192.55 945.68,196.05 945.77,194.17 945.86,194.05 945.95,193.26 946.05,188.01 946.14,189.37 946.23,180.84 946.33,182.45 946.42,181.23 946.51,182.22 946.60,184.64 946.70,180.37 946.79,182.33 946.88,175.03 946.98,177.89 947.07,177.33 947.16,176.76 947.25,170.66 947.35,179.75 947.44,168.43 947.53,173.93 947.63,176.89 947.72,173.95 947.81,175.95 947.90,167.83 948.00,172.41 948.09,167.83 948.18,164.06 948.28,169.12 948.37,167.20 948.46,169.89 948.55,166.45 948.65,156.55 948.74,161.79 948.83,164.69 948.92,165.43 949.02,163.31 949.11,162.51 949.20,164.04 949.30,160.88 949.39,165.48 949.48,165.44 949.57,161.24 949.67,166.18 949.76,160.28 949.85,162.80 949.95,168.78 950.04,162.91 950.13,168.94 950.22,161.78 950.32,165.21 950.41,159.05 950.50,162.07 950.60,169.43 950.69,173.12 950.78,169.80 950.87,172.03 950.97,163.17 951.06,169.83 951.15,167.72 951.25,172.51 951.34,173.15 951.43,173.69 951.52,171.13 951.62,174.74 951.71,180.20 951.80,172.85 951.89,180.11 951.99,181.83 952.08,190.60 952.17,180.88 952.27,183.85 952.36,185.16 952.45,188.07 952.54,189.95 952.64,190.64 952.73,189.36 952.82,190.16 952.92,194.29 953.01,191.92 953.10,196.54 953.19,199.26 953.29,198.39 953.38,204.68 953.47,200.98 953.57,207.93 953.66,207.62 953.75,212.05 953.84,207.49 953.94,203.08 954.03,209.79 954.12,208.58 954.21,204.33 954.31,211.65 954.40,216.47 954.49,217.10 954.59,216.15 954.68,219.15 954.77,219.87 954.86,215.89 954.96,216.63 955.05,225.93 955.14,224.08 955.24,223.69 955.33,221.00 955.42,219.90 955.51,215.54 955.61,226.10 955.70,226.41 955.79,223.65 955.89,228.04 955.98,226.63 956.07,227.75 956.16,234.94 956.26,226.38 956.35,227.44 956.44,222.86 956.54,226.85 956.63,230.76 956.72,227.47 956.81,233.09 956.91,230.06 957.00,223.91 957.09,226.36 957.18,222.26 957.28,230.97 957.37,225.01 957.46,225.21 957.56,220.09 957.65,220.36 957.74,219.78 957.83,216.22 957.93,221.52 958.02,215.34 958.11,222.06 958.21,221.32 958.30,214.62 958.39,220.86 958.48,213.34 958.58,213.87 958.67,209.80 958.76,212.38 958.86,210.99 958.95,208.52 959.04,211.18 959.13,210.26 959.23,205.45 959.32,205.98 959.41,206.10 959.51,204.00 959.60,197.61 959.69,203.01 959.78,202.04 959.88,204.91 959.97,198.60 960.06,195.37 960.15,193.80 960.25,195.13 960.34,191.48 960.43,191.26 960.53,189.15 960.62,188.68 960.71,185.98 960.80,190.69 960.90,193.58 960.99,186.53 961.08,185.46 961.18,182.30 961.27,182.60 961.36,179.93 961.45,183.60 961.55,184.37 961.64,189.05 961.73,183.30 961.83,185.70 961.92,183.00 962.01,183.27 962.10,181.78 962.20,183.46 962.29,180.13 962.38,191.71 962.47,182.52 962.57,179.41 962.66,177.45 962.75,181.27 962.85,178.51 962.94,183.63 963.03,184.53 963.12,183.29 963.22,185.46 963.31,188.46 963.40,188.19 963.50,190.72 963.59,186.20 963.68,188.57 963.77,190.52 963.87,192.00 963.96,189.46 964.05,189.50 964.15,196.50 964.24,197.98 964.33,191.90 964.42,200.34 964.52,195.33 964.61,193.06 964.70,194.21 964.80,198.17 964.89,199.46 964.98,195.79 965.07,211.57 965.17,206.90 965.26,204.01 965.35,209.05 965.44,205.34 965.54,210.69 965.63,211.45 965.72,214.04 965.82,216.13 965.91,217.51 966.00,216.21 966.09,220.80 966.19,216.60 966.28,218.81 966.37,218.64 966.47,226.92 966.56,229.94 966.65,225.74 966.74,217.69 966.84,223.99 966.93,230.85 967.02,228.81 967.12,228.88 967.21,236.51 967.30,228.78 967.39,234.56 967.49,235.19 967.58,235.65 967.67,232.87 967.77,239.62 967.86,243.32 967.95,237.52 968.04,245.60 968.14,240.60 968.23,236.36 968.32,238.71 968.41,237.60 968.51,239.25 968.60,233.83 968.69,243.53 968.79,240.54 968.88,243.27 968.97,238.87 969.06,242.07 969.16,236.33 969.25,243.32 969.34,236.97 969.44,239.29 969.53,240.96 969.62,238.77 969.71,239.24 969.81,238.46 969.90,239.72 969.99,240.71 970.09,238.92 970.18,242.52 970.27,233.80 970.36,239.62 970.46,235.58 970.55,231.99 970.64,230.50 970.73,237.86 970.83,231.57 970.92,228.83 971.01,229.10 971.11,223.95 971.20,229.74 971.29,232.53 971.38,222.34 971.48,225.47 971.57,228.19 971.66,221.94 971.76,216.35 971.85,223.07 971.94,210.46 972.03,219.32 972.13,215.18 972.22,218.12 972.31,212.93 972.41,212.30 972.50,215.41 972.59,200.56 972.68,209.94 972.78,208.80 972.87,203.04 972.96,199.27 973.06,200.38 973.15,206.71 973.24,201.21 973.33,206.87 973.43,197.09 973.52,204.22 973.61,200.70 973.70,197.32 973.80,195.11 973.89,196.59 973.98,190.23 974.08,192.09 974.17,191.72 974.26,197.09 974.35,187.29 974.45,194.75 974.54,186.28 974.63,185.01 974.73,189.49 974.82,187.59 974.91,200.43 975.00,191.13 975.10,186.92 975.19,187.45 975.28,194.27 975.38,191.41 975.47,198.65 975.56,189.49 975.65,197.01 975.75,187.76 975.84,187.94 975.93,193.60 976.03,190.90 976.12,193.74 976.21,192.84 976.30,197.85 976.40,192.89 976.49,200.76 976.58,202.10 976.67,197.47 976.77,198.58 976.86,197.91 976.95,201.73 977.05,194.63 977.14,201.06 977.23,201.83 977.32,202.97 977.42,201.47 977.51,203.90 977.60,205.43 977.70,205.61 977.79,214.86 977.88,215.89 977.97,211.63 978.07,213.18 978.16,211.89 978.25,214.84 978.35,214.24 978.44,221.21 978.53,218.47 978.62,223.85 978.72,219.53 978.81,227.85 978.90,221.92 978.99,228.79 979.09,226.44 979.18,223.45 979.27,226.61 979.37,233.57 979.46,231.47 979.55,235.05 979.64,236.58 979.74,231.72 979.83,231.16 979.92,232.35 980.02,232.60 980.11,235.26 980.20,236.77 980.29,239.93 980.39,238.50 980.48,241.82 980.57,240.78 980.67,238.25 980.76,239.27 980.85,229.49 980.94,243.73 981.04,240.07 981.13,244.33 981.22,241.13 981.32,241.03 981.41,237.22 981.50,241.24 981.59,240.27 981.69,240.83 981.78,243.64 981.87,240.95 981.96,239.72 982.06,237.84 982.15,235.82 982.24,237.79 982.34,237.25 982.43,241.26 982.52,233.39 982.61,236.55 982.71,231.18 982.80,228.53 982.89,232.41 982.99,234.12 983.08,229.95 983.17,227.77 983.26,228.82 983.36,228.51 983.45,223.81 983.54,222.86 983.64,224.35 983.73,227.28 983.82,219.35 983.91,221.97 984.01,217.58 984.10,216.48 984.19,221.64 984.29,214.07 984.38,211.36 984.47,209.63 984.56,209.94 984.66,215.23 984.75,203.57 984.84,204.98 984.93,208.77 985.03,206.13 985.12,201.59 985.21,198.87 985.31,201.29 985.40,195.87 985.49,202.94 985.58,199.35 985.68,201.41 985.77,196.56 985.86,187.81 985.96,184.98 986.05,189.71 986.14,191.47 986.23,189.17 986.33,186.04 986.42,191.61 986.51,187.63 986.61,180.47 986.70,187.59 986.79,185.96 986.88,182.90 986.98,181.45 987.07,183.80 987.16,181.09 987.26,178.98 987.35,174.32 987.44,180.62 987.53,180.09 987.63,174.92 987.72,181.36 987.81,183.73 987.90,178.71 988.00,176.11 988.09,178.47 988.18,180.06 988.28,184.54 988.37,180.38 988.46,176.59 988.55,184.77 988.65,182.04 988.74,182.96 988.83,184.45 988.93,182.01 989.02,182.00 989.11,182.68 989.20,187.84 989.30,190.69 989.39,185.42 989.48,188.67 989.58,182.08 989.67,182.81 989.76,183.39 989.85,193.62 989.95,189.80 990.04,189.83 990.13,191.20 990.22,195.76 990.32,191.62 990.41,196.74 990.50,197.40 990.60,203.76 990.69,197.93 990.78,201.88 990.87,200.67 990.97,202.49 991.06,203.74 991.15,205.53 991.25,203.95 991.34,208.12 991.43,213.14 991.52,207.73 991.62,213.09 991.71,215.70 991.80,215.68 991.90,212.46 991.99,214.54 992.08,221.85 992.17,217.12 992.27,212.97 992.36,218.84 992.45,218.63 992.55,215.45 992.64,216.84 992.73,216.69 992.82,229.23 992.92,215.40 993.01,219.29 993.10,213.86 993.19,224.45 993.29,227.80 993.38,222.38 993.47,223.41 993.57,220.55 993.66,219.23 993.75,222.88 993.84,223.27 993.94,220.69 994.03,222.95 994.12,222.94 994.22,218.25 994.31,217.16 994.40,217.27 994.49,220.74 994.59,226.43 994.68,219.50 994.77,220.77 994.87,218.05 994.96,219.00 995.05,216.11 995.14,218.47 995.24,218.32 995.33,209.41 995.42,215.35 995.52,211.23 995.61,207.11 995.70,206.11 995.79,205.32 995.89,205.68 995.98,203.11 996.07,199.80 996.16,201.51 996.26,207.37 996.35,201.89 996.44,196.66 996.54,199.48 996.63,190.98 996.72,194.92 996.81,193.05 996.91,188.35 997.00,191.08"/><polyline stroke="#de8f05" stroke-opacity="0.5" points="69.00,229.07 69.19,228.07 69.37,226.82 69.56,225.31 69.74,223.54 69.93,221.55 70.11,219.32 70.30,216.89 70.49,214.26 70.67,211.46 70.86,208.51 71.04,205.43 71.23,202.24 71.41,198.96 71.60,195.62 71.78,192.25 71.97,188.86 72.16,185.48 72.34,182.13 72.53,178.83 72.71,175.61 72.90,172.47 73.08,169.43 73.27,166.52 73.46,163.73 73.64,161.08 73.83,158.58 74.01,156.23 74.20,154.04 74.38,152.00 74.57,150.12 74.75,148.39 74.94,146.81 75.13,145.38 75.31,144.08 75.50,142.91 75.68,141.87 75.87,140.93 76.05,140.10 76.24,139.36 76.43,138.71 76.61,138.13 76.80,137.61 76.98,137.15 77.17,136.74 77.35,136.37 77.54,136.04 77.72,135.74 77.91,135.46 78.10,135.21 78.28,134.98 78.47,134.77 78.65,134.58 78.84,134.42 79.02,134.27 79.21,134.15 79.40,134.06 79.58,134.00 79.77,133.97 79.95,133.98 80.14,134.03 80.32,134.12 80.51,134.26 80.70,134.46 80.88,134.71 81.07,135.02 81.25,135.39 81.44,135.82 81.62,136.32 81.81,136.88 81.99,137.51 82.18,138.20 82.37,138.96 82.55,139.78 82.74,140.67 82.92,141.61 83.11,142.61 83.29,143.67 83.48,144.78 83.67,145.93 83.85,147.13 84.04,148.38 84.22,149.66 84.41,150.98 84.59,152.32 84.78,153.70 84.96,155.10 85.15,156.53 85.34,157.97 85.52,159.43 85.71,160.91 85.89,162.40 86.08,163.90 86.26,165.41 86.45,166.92 86.64,168.45 86.82,169.97 87.01,171.50 87.19,173.04 87.38,174.58 87.56,176.11 87.75,177.65 87.93,179.19 88.12,180.72 88.31,182.26 88.49,183.78 88.68,185.31 88.86,186.83 89.05,188.34 89.23,189.84 89.42,191.33 89.61,192.81 89.79,194.27 89.98,195.72 90.16,197.16 90.35,198.57 90.53,199.96 90.72,201.33 90.91,202.67 91.09,203.98 91.28,205.27 91.46,206.52 91.65,207.74 91.83,208.93 92.02,210.07 92.20,211.18 92.39,212.25 92.58,213.27 92.76,214.26 92.95,215.20 93.13,216.09 93.32,216.93 93.50,217.73 93.69,218.48 93.88,219.18 94.06,219.83 94.25,220.42 94.43,220.97 94.62,221.46 94.80,221.91 94.99,222.30 95.17,222.63 95.36,222.91 95.55,223.14 95.73,223.32 95.92,223.44 96.10,223.51 96.29,223.52 96.47,223.48 96.66,223.39 96.85,223.24 97.03,223.03 97.22,222.77 97.40,222.46 97.59,222.10 97.77,221.68 97.96,221.21 98.15,220.68 98.33,220.10 98.52,219.48 98.70,218.79 98.89,218.06 99.07,217.28 99.26,216.45 99.44,215.57 99.63,214.65 99.82,213.67 100.00,212.66 100.19,211.59 100.37,210.49 100.56,209.34 100.74,208.16 100.93,206.93 101.12,205.67 101.30,204.37 101.49,203.04 101.67,201.67 101.86,200.27 102.04,198.85 102.23,197.39 102.41,195.92 102.60,194.41 102.79,192.89 102.97,191.34 103.16,189.78 103.34,188.19 103.53,186.60 103.71,184.99 103.90,183.37 104.09,181.74 104.27,180.11 104.46,178.47 104.64,176.83 104.83,175.19 105.01,173.54 105.20,171.91 105.38,170.27 105.57,168.65 105.76,167.03 105.94,165.43 106.13,163.84 106.31,162.27 106.50,160.71 106.68,159.17 106.87,157.66 107.06,156.17 107.24,154.70 107.43,153.26 107.61,151.86 107.80,150.48 107.98,149.14 108.17,147.83 108.36,146.56 108.54,145.33 108.73,144.14 108.91,142.99 109.10,141.89 109.28,140.83 109.47,139.82 109.65,138.85 109.84,137.94 110.03,137.08 110.21,136.27 110.40,135.52 110.58,134.82 110.77,134.18 110.95,133.59 111.14,133.06 111.33,132.60 111.51,132.19 111.70,131.85 111.88,131.56 112.07,131.34 112.25,131.18 112.44,131.09 112.62,131.06 112.81,131.10 113.00,131.20 113.18,131.36 113.37,131.59 113.55,131.89 113.74,132.25 113.92,132.68 114.11,133.17 114.30,133.73 114.48,134.36 114.67,135.05 114.85,135.80 115.04,136.62 115.22,137.50 115.41,138.44 115.59,139.44 115.78,140.51 115.97,141.63 116.15,142.82 116.34,144.06 116.52,145.36 116.71,146.72 116.89,148.13 117.08,149.59 117.27,151.11 117.45,152.68 117.64,154.29 117.82,155.96 118.01,157.66 118.19,159.42 118.38,161.21 118.57,163.05 118.75,164.92 118.94,166.83 119.12,168.78 119.31,170.75 119.49,172.76 119.68,174.80 119.86,176.86 120.05,178.95 120.24,181.06 120.42,183.19 120.61,185.33 120.79,187.49 120.98,189.66 121.16,191.85 121.35,194.04 121.54,196.23 121.72,198.43 121.91,200.63 122.09,202.83 122.28,205.02 122.46,207.21 122.65,209.39 122.83,211.55 123.02,213.70 123.21,215.84 123.39,217.95 123.58,220.05 123.76,222.12 123.95,224.16 124.13,226.18 124.32,228.17 124.51,230.12 124.69,232.03 124.88,233.91 125.06,235.75 125.25,237.55 125.43,239.31 125.62,241.01 125.80,242.68 125.99,244.29 126.18,245.85 126.36,247.35 126.55,248.80 126.73,250.20 126.92,251.53 127.10,252.81 127.29,254.02 127.48,255.17 127.66,256.26 127.85,257.28 128.03,258.24 128.22,259.12 128.40,259.94 128.59,260.69 128.78,261.37 128.96,261.98 129.15,262.51 129.33,262.97 129.52,263.36 129.70,263.68 129.89,263.92 130.07,264.09 130.26,264.18 130.45,264.20 130.63,264.15 130.82,264.02 131.00,263.82 131.19,263.54 131.37,263.19 131.56,262.77 131.75,262.28 131.93,261.71 132.12,261.08 132.30,260.37 132.49,259.59 132.67,258.75 132.86,257.84 133.04,256.86 133.23,255.82 133.42,254.72 133.60,253.55 133.79,252.33 133.97,251.04 134.16,249.70 134.34,248.30 134.53,246.85 134.72,245.35 134.90,243.80 135.09,242.20 135.27,240.56 135.46,238.87 135.64,237.14 135.83,235.37 136.02,233.57 136.20,231.73 136.39,229.86 136.57,227.96 136.76,226.04 136.94,224.09 137.13,222.11 137.31,220.12 137.50,218.11 137.69,216.09 137.87,214.06 138.06,212.02 138.24,209.97 138.43,207.92 138.61,205.87 138.80,203.83 138.99,201.79 139.17,199.75 139.36,197.73 139.54,195.72 139.73,193.72 139.91,191.75 140.10,189.80 140.28,187.87 140.47,185.96 140.66,184.09 140.84,182.25 141.03,180.44 141.21,178.67 141.40,176.93 141.58,175.24 141.77,173.60 141.96,172.00 142.14,170.44 142.33,168.94 142.51,167.49 142.70,166.09 142.88,164.75 143.07,163.47 143.25,162.25 143.44,161.09 143.63,159.99 143.81,158.96 144.00,158.00 144.18,157.10 144.37,156.27 144.55,155.51 144.74,154.82 144.93,154.20 145.11,153.66 145.30,153.18 145.48,152.79 145.67,152.47 145.85,152.22 146.04,152.05 146.23,151.95 146.41,151.93 146.60,151.99 146.78,152.12 146.97,152.33 147.15,152.61 147.34,152.97 147.52,153.40 147.71,153.91 147.90,154.49 148.08,155.15 148.27,155.87 148.45,156.67 148.64,157.53 148.82,158.47 149.01,159.47 149.20,160.54 149.38,161.67 149.57,162.86 149.75,164.12 149.94,165.43 150.12,166.81 150.31,168.23 150.49,169.71 150.68,171.25 150.87,172.83 151.05,174.46 151.24,176.13 151.42,177.84 151.61,179.60 151.79,181.39 151.98,183.21 152.17,185.07 152.35,186.95 152.54,188.86 152.72,190.80 152.91,192.76 153.09,194.73 153.28,196.72 153.46,198.72 153.65,200.72 153.84,202.74 154.02,204.76 154.21,206.77 154.39,208.78 154.58,210.79 154.76,212.79 154.95,214.77 155.14,216.74 155.32,218.69 155.51,220.62 155.69,222.52 155.88,224.40 156.06,226.24 156.25,228.06 156.44,229.83 156.62,231.57 156.81,233.26 156.99,234.91 157.18,236.51 157.36,238.06 157.55,239.56 157.73,241.01 157.92,242.39 158.11,243.72 158.29,244.98 158.48,246.18 158.66,247.32 158.85,248.38 159.03,249.37 159.22,250.29 159.41,251.14 159.59,251.91 159.78,252.61 159.96,253.22 160.15,253.76 160.33,254.21 160.52,254.58 160.70,254.87 160.89,255.07 161.08,255.19 161.26,255.22 161.45,255.17 161.63,255.03 161.82,254.80 162.00,254.48 162.19,254.08 162.38,253.59 162.56,253.01 162.75,252.35 162.93,251.60 163.12,250.76 163.30,249.84 163.49,248.84 163.67,247.75 163.86,246.58 164.05,245.33 164.23,243.99 164.42,242.59 164.60,241.10 164.79,239.54 164.97,237.90 165.16,236.20 165.35,234.42 165.53,232.58 165.72,230.67 165.90,228.70 166.09,226.67 166.27,224.58 166.46,222.43 166.65,220.24 166.83,217.99 167.02,215.69 167.20,213.35 167.39,210.97 167.57,208.55 167.76,206.10 167.94,203.61 168.13,201.09 168.32,198.55 168.50,195.99 168.69,193.40 168.87,190.81 169.06,188.19 169.24,185.57 169.43,182.95 169.62,180.32 169.80,177.70 169.99,175.08 170.17,172.46 170.36,169.86 170.54,167.28 170.73,164.72 170.91,162.17 171.10,159.66 171.29,157.17 171.47,154.71 171.66,152.30 171.84,149.92 172.03,147.58 172.21,145.29 172.40,143.05 172.59,140.86 172.77,138.73 172.96,136.65 173.14,134.64 173.33,132.69 173.51,130.80 173.70,128.98 173.88,127.24 174.07,125.57 174.26,123.97 174.44,122.46 174.63,121.02 174.81,119.67 175.00,118.40 175.18,117.22 175.37,116.12 175.56,115.11 175.74,114.20 175.93,113.37 176.11,112.64 176.30,112.01 176.48,111.46 176.67,111.02 176.86,110.67 177.04,110.41 177.23,110.25 177.41,110.19 177.60,110.23 177.78,110.36 177.97,110.59 178.15,110.92 178.34,111.34 178.53,111.85 178.71,112.46 178.90,113.17 179.08,113.96 179.27,114.85 179.45,115.82 179.64,116.89 179.83,118.03 180.01,119.27 180.20,120.58 180.38,121.98 180.57,123.46 180.75,125.01 180.94,126.63 181.12,128.33 181.31,130.09 181.50,131.92 181.68,133.81 181.87,135.76 182.05,137.77 182.24,139.84 182.42,141.95 182.61,144.11 182.80,146.32 182.98,148.57 183.17,150.85 183.35,153.17 183.54,155.52 183.72,157.89 183.91,160.29 184.10,162.71 184.28,165.14 184.47,167.58 184.65,170.03 184.84,172.49 185.02,174.94 185.21,177.39 185.39,179.84 185.58,182.27 185.77,184.69 185.95,187.09 186.14,189.46 186.32,191.81 186.51,194.13 186.69,196.42 186.88,198.67 187.07,200.87 187.25,203.04 187.44,205.15 187.62,207.22 187.81,209.23 187.99,211.18 188.18,213.08 188.36,214.91 188.55,216.67 188.74,218.36 188.92,219.99 189.11,221.53 189.29,223.01 189.48,224.40 189.66,225.71 189.85,226.94 190.04,228.08 190.22,229.13 190.41,230.10 190.59,230.97 190.78,231.76 190.96,232.45 191.15,233.05 191.33,233.55 191.52,233.96 191.71,234.27 191.89,234.48 192.08,234.60 192.26,234.62 192.45,234.54 192.63,234.36 192.82,234.09 193.01,233.72 193.19,233.26 193.38,232.70 193.56,232.05 193.75,231.30 193.93,230.47 194.12,229.54 194.31,228.52 194.49,227.42 194.68,226.23 194.86,224.96 195.05,223.61 195.23,222.18 195.42,220.67 195.60,219.09 195.79,217.44 195.98,215.72 196.16,213.94 196.35,212.09 196.53,210.18 196.72,208.22 196.90,206.20 197.09,204.14 197.28,202.03 197.46,199.88 197.65,197.69 197.83,195.46 198.02,193.21 198.20,190.93 198.39,188.62 198.57,186.30 198.76,183.96 198.95,181.61 199.13,179.26 199.32,176.90 199.50,174.55 199.69,172.20 199.87,169.86 200.06,167.53 200.25,165.23 200.43,162.94 200.62,160.69 200.80,158.46 200.99,156.27 201.17,154.12 201.36,152.01 201.54,149.95 201.73,147.93 201.92,145.98 202.10,144.08 202.29,142.24 202.47,140.46 202.66,138.76 202.84,137.13 203.03,135.57 203.22,134.09 203.40,132.68 203.59,131.37 203.77,130.14 203.96,129.00 204.14,127.94 204.33,126.99 204.52,126.13 204.70,125.36 204.89,124.70 205.07,124.13 205.26,123.67 205.44,123.31 205.63,123.06 205.81,122.91 206.00,122.87 206.19,122.94 206.37,123.11 206.56,123.40 206.74,123.79 206.93,124.28 207.11,124.89 207.30,125.60 207.49,126.43 207.67,127.35 207.86,128.38 208.04,129.52 208.23,130.76 208.41,132.10 208.60,133.54 208.78,135.08 208.97,136.71 209.16,138.44 209.34,140.26 209.53,142.16 209.71,144.16 209.90,146.23 210.08,148.39 210.27,150.63 210.46,152.94 210.64,155.32 210.83,157.76 211.01,160.27 211.20,162.84 211.38,165.47 211.57,168.15 211.75,170.88 211.94,173.65 212.13,176.46 212.31,179.31 212.50,182.19 212.68,185.09 212.87,188.02 213.05,190.97 213.24,193.92 213.43,196.89 213.61,199.86 213.80,202.83 213.98,205.80 214.17,208.75 214.35,211.69 214.54,214.61 214.73,217.51 214.91,220.38 215.10,223.21 215.28,226.01 215.47,228.77 215.65,231.48 215.84,234.14 216.02,236.74 216.21,239.29 216.40,241.77 216.58,244.18 216.77,246.52 216.95,248.79 217.14,250.98 217.32,253.09 217.51,255.11 217.70,257.04 217.88,258.89 218.07,260.63 218.25,262.28 218.44,263.83 218.62,265.28 218.81,266.62 218.99,267.85 219.18,268.98 219.37,269.99 219.55,270.90 219.74,271.69 219.92,272.36 220.11,272.92 220.29,273.36 220.48,273.68 220.67,273.89 220.85,273.98 221.04,273.95 221.22,273.80 221.41,273.54 221.59,273.16 221.78,272.66 221.96,272.04 222.15,271.32 222.34,270.48 222.52,269.53 222.71,268.47 222.89,267.30 223.08,266.03 223.26,264.65 223.45,263.17 223.64,261.60 223.82,259.93 224.01,258.16 224.19,256.31 224.38,254.37 224.56,252.36 224.75,250.26 224.94,248.08 225.12,245.84 225.31,243.53 225.49,241.16 225.68,238.73 225.86,236.24 226.05,233.71 226.23,231.13 226.42,228.51 226.61,225.85 226.79,223.17 226.98,220.45 227.16,217.72 227.35,214.97 227.53,212.21 227.72,209.45 227.91,206.68 228.09,203.92 228.28,201.16 228.46,198.42 228.65,195.70 228.83,193.01 229.02,190.34 229.20,187.71 229.39,185.11 229.58,182.56 229.76,180.06 229.95,177.61 230.13,175.21 230.32,172.88 230.50,170.62 230.69,168.42 230.88,166.30 231.06,164.26 231.25,162.29 231.43,160.42 231.62,158.63 231.80,156.94 231.99,155.34 232.18,153.84 232.36,152.44 232.55,151.14 232.73,149.95 232.92,148.87 233.10,147.90 233.29,147.04 233.47,146.29 233.66,145.66 233.85,145.15 234.03,144.75 234.22,144.47 234.40,144.31 234.59,144.27 234.77,144.35 234.96,144.54 235.15,144.86 235.33,145.29 235.52,145.84 235.70,146.51 235.89,147.29 236.07,148.19 236.26,149.20 236.44,150.32 236.63,151.54 236.82,152.88 237.00,154.32 237.19,155.85 237.37,157.49 237.56,159.22 237.74,161.05 237.93,162.96 238.12,164.96 238.30,167.04 238.49,169.19 238.67,171.42 238.86,173.72 239.04,176.09 239.23,178.51 239.41,180.99 239.60,183.52 239.79,186.09 239.97,188.71 240.16,191.36 240.34,194.04 240.53,196.75 240.71,199.48 240.90,202.22 241.09,204.97 241.27,207.72 241.46,210.48 241.64,213.23 241.83,215.96 242.01,218.68 242.20,221.37 242.39,224.04 242.57,226.67 242.76,229.26 242.94,231.81 243.13,234.31 243.31,236.76 243.50,239.14 243.68,241.46 243.87,243.71 244.06,245.89 244.24,247.99 244.43,250.00 244.61,251.93 244.80,253.77 244.98,255.51 245.17,257.15 245.36,258.70 245.54,260.13 245.73,261.46 245.91,262.67 246.10,263.77 246.28,264.75 246.47,265.61 246.65,266.35 246.84,266.97 247.03,267.46 247.21,267.82 247.40,268.06 247.58,268.17 247.77,268.14 247.95,267.99 248.14,267.71 248.33,267.29 248.51,266.74 248.70,266.07 248.88,265.26 249.07,264.33 249.25,263.26 249.44,262.07 249.62,260.76 249.81,259.32 250.00,257.76 250.18,256.08 250.37,254.29 250.55,252.38 250.74,250.36 250.92,248.24 251.11,246.01 251.30,243.68 251.48,241.25 251.67,238.74 251.85,236.13 252.04,233.45 252.22,230.68 252.41,227.84 252.60,224.93 252.78,221.95 252.97,218.92 253.15,215.83 253.34,212.70 253.52,209.52 253.71,206.31 253.89,203.06 254.08,199.79 254.27,196.50 254.45,193.19 254.64,189.88 254.82,186.56 255.01,183.25 255.19,179.95 255.38,176.66 255.57,173.40 255.75,170.16 255.94,166.96 256.12,163.80 256.31,160.68 256.49,157.61 256.68,154.60 256.86,151.65 257.05,148.77 257.24,145.96 257.42,143.23 257.61,140.58 257.79,138.01 257.98,135.54 258.16,133.17 258.35,130.90 258.54,128.73 258.72,126.67 258.91,124.72 259.09,122.88 259.28,121.17 259.46,119.58 259.65,118.11 259.83,116.77 260.02,115.56 260.21,114.48 260.39,113.54 260.58,112.72 260.76,112.05 260.95,111.51 261.13,111.11 261.32,110.85 261.51,110.72 261.69,110.73 261.88,110.88 262.06,111.17 262.25,111.60 262.43,112.16 262.62,112.85 262.81,113.68 262.99,114.63 263.18,115.72 263.36,116.93 263.55,118.27 263.73,119.72 263.92,121.30 264.10,122.98 264.29,124.78 264.48,126.69 264.66,128.70 264.85,130.80 265.03,133.00 265.22,135.29 265.40,137.67 265.59,140.12 265.78,142.65 265.96,145.24 266.15,147.90 266.33,150.62 266.52,153.39 266.70,156.20 266.89,159.06 267.07,161.94 267.26,164.86 267.45,167.80 267.63,170.75 267.82,173.71 268.00,176.67 268.19,179.63 268.37,182.58 268.56,185.51 268.75,188.42 268.93,191.29 269.12,194.14 269.30,196.94 269.49,199.69 269.67,202.39 269.86,205.03 270.05,207.61 270.23,210.11 270.42,212.54 270.60,214.89 270.79,217.15 270.97,219.31 271.16,221.38 271.34,223.35 271.53,225.22 271.72,226.97 271.90,228.61 272.09,230.13 272.27,231.53 272.46,232.81 272.64,233.96 272.83,234.98 273.02,235.87 273.20,236.62 273.39,237.24 273.57,237.71 273.76,238.05 273.94,238.26 274.13,238.31 274.31,238.23 274.50,238.01 274.69,237.65 274.87,237.14 275.06,236.50 275.24,235.71 275.43,234.79 275.61,233.73 275.80,232.54 275.99,231.21 276.17,229.75 276.36,228.17 276.54,226.46 276.73,224.62 276.91,222.67 277.10,220.61 277.28,218.44 277.47,216.16 277.66,213.78 277.84,211.30 278.03,208.73 278.21,206.08 278.40,203.34 278.58,200.53 278.77,197.65 278.96,194.71 279.14,191.70 279.33,188.65 279.51,185.55 279.70,182.42 279.88,179.25 280.07,176.06 280.26,172.85 280.44,169.63 280.63,166.40 280.81,163.18 281.00,159.96 281.18,156.76 281.37,153.58 281.55,150.44 281.74,147.33 281.93,144.26 282.11,141.24 282.30,138.28 282.48,135.39 282.67,132.56 282.85,129.81 283.04,127.14 283.23,124.56 283.41,122.07 283.60,119.68 283.78,117.40 283.97,115.23 284.15,113.17 284.34,111.23 284.52,109.41 284.71,107.72 284.90,106.17 285.08,104.75 285.27,103.47 285.45,102.33 285.64,101.34 285.82,100.50 286.01,99.81 286.20,99.27 286.38,98.88 286.57,98.65 286.75,98.57 286.94,98.65 287.12,98.89 287.31,99.28 287.49,99.83 287.68,100.54 287.87,101.40 288.05,102.42 288.24,103.59 288.42,104.91 288.61,106.38 288.79,108.00 288.98,109.76 289.17,111.66 289.35,113.70 289.54,115.87 289.72,118.18 289.91,120.60 290.09,123.15 290.28,125.81 290.47,128.58 290.65,131.46 290.84,134.44 291.02,137.51 291.21,140.67 291.39,143.91 291.58,147.22 291.76,150.61 291.95,154.05 292.14,157.55 292.32,161.09 292.51,164.68 292.69,168.30 292.88,171.95 293.06,175.61 293.25,179.29 293.44,182.96 293.62,186.64 293.81,190.30 293.99,193.95 294.18,197.56 294.36,201.15 294.55,204.69 294.73,208.18 294.92,211.62 295.11,214.99 295.29,218.30 295.48,221.53 295.66,224.67 295.85,227.73 296.03,230.69 296.22,233.55 296.41,236.30 296.59,238.94 296.78,241.45 296.96,243.85 297.15,246.11 297.33,248.25 297.52,250.24 297.70,252.10 297.89,253.81 298.08,255.37 298.26,256.78 298.45,258.03 298.63,259.13 298.82,260.07 299.00,260.85 299.19,261.47 299.38,261.93 299.56,262.22 299.75,262.35 299.93,262.32 300.12,262.13 300.30,261.78 300.49,261.26 300.68,260.59 300.86,259.76 301.05,258.77 301.23,257.63 301.42,256.35 301.60,254.91 301.79,253.33 301.97,251.62 302.16,249.77 302.35,247.79 302.53,245.68 302.72,243.45 302.90,241.11 303.09,238.66 303.27,236.11 303.46,233.46 303.65,230.72 303.83,227.89 304.02,224.99 304.20,222.02 304.39,218.98 304.57,215.89 304.76,212.75 304.94,209.57 305.13,206.36 305.32,203.12 305.50,199.87 305.69,196.61 305.87,193.34 306.06,190.08 306.24,186.84 306.43,183.62 306.62,180.43 306.80,177.28 306.99,174.18 307.17,171.13 307.36,168.14 307.54,165.22 307.73,162.38 307.91,159.62 308.10,156.95 308.29,154.38 308.47,151.91 308.66,149.55 308.84,147.31 309.03,145.18 309.21,143.19 309.40,141.33 309.59,139.61 309.77,138.03 309.96,136.59 310.14,135.31 310.33,134.17 310.51,133.20 310.70,132.39 310.89,131.74 311.07,131.25 311.26,130.93 311.44,130.78 311.63,130.80 311.81,130.98 312.00,131.34 312.18,131.87 312.37,132.56 312.56,133.43 312.74,134.46 312.93,135.66 313.11,137.02 313.30,138.54 313.48,140.22 313.67,142.06 313.86,144.04 314.04,146.18 314.23,148.46 314.41,150.88 314.60,153.43 314.78,156.11 314.97,158.92 315.15,161.84 315.34,164.87 315.53,168.01 315.71,171.24 315.90,174.57 316.08,177.98 316.27,181.46 316.45,185.02 316.64,188.63 316.83,192.29 317.01,196.00 317.20,199.75 317.38,203.52 317.57,207.32 317.75,211.12 317.94,214.92 318.13,218.72 318.31,222.50 318.50,226.26 318.68,229.99 318.87,233.67 319.05,237.31 319.24,240.89 319.42,244.40 319.61,247.84 319.80,251.19 319.98,254.46 320.17,257.62 320.35,260.68 320.54,263.63 320.72,266.46 320.91,269.17 321.10,271.74 321.28,274.18 321.47,276.47 321.65,278.61 321.84,280.59 322.02,282.42 322.21,284.08 322.39,285.58 322.58,286.90 322.77,288.05 322.95,289.02 323.14,289.81 323.32,290.42 323.51,290.85 323.69,291.09 323.88,291.15 324.07,291.02 324.25,290.71 324.44,290.21 324.62,289.52 324.81,288.65 324.99,287.61 325.18,286.38 325.36,284.97 325.55,283.39 325.74,281.65 325.92,279.73 326.11,277.65 326.29,275.42 326.48,273.03 326.66,270.50 326.85,267.82 327.04,265.01 327.22,262.07 327.41,259.00 327.59,255.82 327.78,252.54 327.96,249.15 328.15,245.67 328.34,242.11 328.52,238.46 328.71,234.76 328.89,230.99 329.08,227.17 329.26,223.31 329.45,219.42 329.63,215.50 329.82,211.57 330.01,207.63 330.19,203.70 330.38,199.78 330.56,195.89 330.75,192.02 330.93,188.20 331.12,184.43 331.31,180.71 331.49,177.07 331.68,173.49 331.86,170.01 332.05,166.61 332.23,163.32 332.42,160.13 332.60,157.06 332.79,154.12 332.98,151.30 333.16,148.62 333.35,146.08 333.53,143.70 333.72,141.46 333.90,139.39 334.09,137.48 334.28,135.74 334.46,134.17 334.65,132.77 334.83,131.56 335.02,130.53 335.20,129.68 335.39,129.02 335.57,128.54 335.76,128.26 335.95,128.16 336.13,128.24 336.32,128.52 336.50,128.98 336.69,129.63 336.87,130.46 337.06,131.48 337.25,132.67 337.43,134.04 337.62,135.58 337.80,137.28 337.99,139.15 338.17,141.18 338.36,143.36 338.55,145.69 338.73,148.16 338.92,150.77 339.10,153.50 339.29,156.35 339.47,159.32 339.66,162.39 339.84,165.56 340.03,168.81 340.22,172.15 340.40,175.56 340.59,179.03 340.77,182.56 340.96,186.13 341.14,189.73 341.33,193.36 341.52,197.00 341.70,200.65 341.89,204.30 342.07,207.93 342.26,211.53 342.44,215.11 342.63,218.64 342.81,222.12 343.00,225.54 343.19,228.88 343.37,232.15 343.56,235.32 343.74,238.40 343.93,241.38 344.11,244.23 344.30,246.97 344.49,249.57 344.67,252.04 344.86,254.36 345.04,256.54 345.23,258.55 345.41,260.40 345.60,262.08 345.78,263.59 345.97,264.92 346.16,266.07 346.34,267.03 346.53,267.80 346.71,268.38 346.90,268.77 347.08,268.96 347.27,268.95 347.46,268.74 347.64,268.34 347.83,267.74 348.01,266.93 348.20,265.93 348.38,264.74 348.57,263.35 348.76,261.77 348.94,260.00 349.13,258.04 349.31,255.91 349.50,253.60 349.68,251.11 349.87,248.46 350.05,245.66 350.24,242.69 350.43,239.58 350.61,236.33 350.80,232.95 350.98,229.45 351.17,225.82 351.35,222.09 351.54,218.26 351.73,214.34 351.91,210.34 352.10,206.26 352.28,202.13 352.47,197.94 352.65,193.71 352.84,189.45 353.02,185.17 353.21,180.88 353.40,176.58 353.58,172.30 353.77,168.04 353.95,163.81 354.14,159.61 354.32,155.48 354.51,151.40 354.70,147.39 354.88,143.47 355.07,139.63 355.25,135.90 355.44,132.28 355.62,128.77 355.81,125.39 355.99,122.15 356.18,119.05 356.37,116.10 356.55,113.31 356.74,110.68 356.92,108.23 357.11,105.95 357.29,103.86 357.48,101.95 357.67,100.24 357.85,98.72 358.04,97.40 358.22,96.28 358.41,95.37 358.59,94.67 358.78,94.17 358.97,93.89 359.15,93.81 359.34,93.95 359.52,94.29 359.71,94.84 359.89,95.60 360.08,96.56 360.26,97.72 360.45,99.08 360.64,100.64 360.82,102.39 361.01,104.32 361.19,106.43 361.38,108.72 361.56,111.18 361.75,113.79 361.94,116.57 362.12,119.49 362.31,122.55 362.49,125.74 362.68,129.05 362.86,132.47 363.05,136.00 363.23,139.63 363.42,143.33 363.61,147.11 363.79,150.96 363.98,154.86 364.16,158.80 364.35,162.78 364.53,166.77 364.72,170.78 364.91,174.78 365.09,178.77 365.28,182.74 365.46,186.68 365.65,190.57 365.83,194.40 366.02,198.17 366.21,201.86 366.39,205.47 366.58,208.98 366.76,212.38 366.95,215.67 367.13,218.83 367.32,221.86 367.50,224.74 367.69,227.48 367.88,230.05 368.06,232.46 368.25,234.70 368.43,236.76 368.62,238.64 368.80,240.32 368.99,241.81 369.18,243.10 369.36,244.19 369.55,245.08 369.73,245.75 369.92,246.21 370.10,246.47 370.29,246.50 370.47,246.33 370.66,245.94 370.85,245.34 371.03,244.53 371.22,243.50 371.40,242.27 371.59,240.84 371.77,239.20 371.96,237.37 372.15,235.34 372.33,233.13 372.52,230.73 372.70,228.16 372.89,225.42 373.07,222.52 373.26,219.46 373.44,216.26 373.63,212.92 373.82,209.46 374.00,205.87 374.19,202.17 374.37,198.38 374.56,194.50 374.74,190.53 374.93,186.51 375.12,182.42 375.30,178.29 375.49,174.13 375.67,169.94 375.86,165.74 376.04,161.55 376.23,157.36 376.42,153.21 376.60,149.08 376.79,145.01 376.97,140.99 377.16,137.05 377.34,133.19 377.53,129.42 377.71,125.75 377.90,122.20 378.09,118.77 378.27,115.48 378.46,112.33 378.64,109.33 378.83,106.50 379.01,103.83 379.20,101.34 379.39,99.04 379.57,96.93 379.76,95.02 379.94,93.32 380.13,91.82 380.31,90.54 380.50,89.48 380.68,88.64 380.87,88.02 381.06,87.63 381.24,87.47 381.43,87.55 381.61,87.85 381.80,88.38 381.98,89.15 382.17,90.14 382.36,91.36 382.54,92.81 382.73,94.48 382.91,96.36 383.10,98.47 383.28,100.78 383.47,103.29 383.65,106.00 383.84,108.90 384.03,111.99 384.21,115.25 384.40,118.68 384.58,122.27 384.77,126.00 384.95,129.88 385.14,133.89 385.33,138.01 385.51,142.25 385.70,146.58 385.88,151.00 386.07,155.50 386.25,160.05 386.44,164.66 386.63,169.31 386.81,173.98 387.00,178.67 387.18,183.36 387.37,188.04 387.55,192.69 387.74,197.31 387.92,201.88 388.11,206.39 388.30,210.83 388.48,215.18 388.67,219.43 388.85,223.58 389.04,227.61 389.22,231.51 389.41,235.27 389.60,238.88 389.78,242.34 389.97,245.62 390.15,248.72 390.34,251.64 390.52,254.37 390.71,256.90 390.89,259.22 391.08,261.32 391.27,263.21 391.45,264.87 391.64,266.31 391.82,267.52 392.01,268.49 392.19,269.23 392.38,269.73 392.57,269.99 392.75,270.02 392.94,269.80 393.12,269.35 393.31,268.67 393.49,267.75 393.68,266.61 393.86,265.23 394.05,263.64 394.24,261.83 394.42,259.82 394.61,257.59 394.79,255.17 394.98,252.56 395.16,249.77 395.35,246.81 395.54,243.68 395.72,240.40 395.91,236.97 396.09,233.41 396.28,229.73 396.46,225.94 396.65,222.04 396.84,218.06 397.02,214.00 397.21,209.88 397.39,205.71 397.58,201.51 397.76,197.27 397.95,193.03 398.13,188.79 398.32,184.56 398.51,180.36 398.69,176.21 398.88,172.10 399.06,168.07 399.25,164.11 399.43,160.24 399.62,156.48 399.81,152.84 399.99,149.32 400.18,145.94 400.36,142.71 400.55,139.65 400.73,136.75 400.92,134.03 401.10,131.50 401.29,129.17 401.48,127.04 401.66,125.13 401.85,123.43 402.03,121.96 402.22,120.72 402.40,119.72 402.59,118.95 402.78,118.43 402.96,118.15 403.15,118.12 403.33,118.33 403.52,118.80 403.70,119.51 403.89,120.47 404.08,121.68 404.26,123.13 404.45,124.82 404.63,126.75 404.82,128.91 405.00,131.29 405.19,133.90 405.37,136.72 405.56,139.75 405.75,142.97 405.93,146.39 406.12,149.99 406.30,153.76 406.49,157.69 406.67,161.77 406.86,165.99 407.05,170.34 407.23,174.80 407.42,179.37 407.60,184.03 407.79,188.77 407.97,193.57 408.16,198.42 408.34,203.31 408.53,208.22 408.72,213.14 408.90,218.05 409.09,222.95 409.27,227.81 409.46,232.63 409.64,237.38 409.83,242.06 410.02,246.66 410.20,251.15 410.39,255.52 410.57,259.77 410.76,263.88 410.94,267.84 411.13,271.63 411.31,275.25 411.50,278.69 411.69,281.93 411.87,284.96 412.06,287.78 412.24,290.38 412.43,292.75 412.61,294.88 412.80,296.77 412.99,298.40 413.17,299.79 413.36,300.91 413.54,301.78 413.73,302.38 413.91,302.71 414.10,302.77 414.29,302.57 414.47,302.10 414.66,301.36 414.84,300.36 415.03,299.09 415.21,297.57 415.40,295.79 415.58,293.77 415.77,291.50 415.96,289.00 416.14,286.27 416.33,283.31 416.51,280.15 416.70,276.78 416.88,273.22 417.07,269.47 417.26,265.56 417.44,261.48 417.63,257.26 417.81,252.90 418.00,248.42 418.18,243.83 418.37,239.14 418.55,234.38 418.74,229.54 418.93,224.66 419.11,219.73 419.30,214.78 419.48,209.83 419.67,204.88 419.85,199.95 420.04,195.05 420.23,190.21 420.41,185.43 420.60,180.73 420.78,176.13 420.97,171.63 421.15,167.25 421.34,163.01 421.52,158.92 421.71,154.98 421.90,151.22 422.08,147.64 422.27,144.25 422.45,141.07 422.64,138.10 422.82,135.35 423.01,132.83 423.20,130.55 423.38,128.52 423.57,126.73 423.75,125.21 423.94,123.94 424.12,122.94 424.31,122.21 424.50,121.74 424.68,121.55 424.87,121.63 425.05,121.98 425.24,122.60 425.42,123.49 425.61,124.64 425.79,126.05 425.98,127.72 426.17,129.64 426.35,131.81 426.54,134.21 426.72,136.84 426.91,139.69 427.09,142.75 427.28,146.02 427.47,149.48 427.65,153.12 427.84,156.92 428.02,160.89 428.21,164.99 428.39,169.23 428.58,173.58 428.76,178.04 428.95,182.58 429.14,187.20 429.32,191.87 429.51,196.59 429.69,201.34 429.88,206.10 430.06,210.85 430.25,215.59 430.44,220.29 430.62,224.95 430.81,229.53 430.99,234.04 431.18,238.45 431.36,242.75 431.55,246.93 431.73,250.97 431.92,254.85 432.11,258.57 432.29,262.12 432.48,265.47 432.66,268.62 432.85,271.56 433.03,274.28 433.22,276.76 433.41,279.01 433.59,281.00 433.78,282.74 433.96,284.21 434.15,285.41 434.33,286.34 434.52,286.99 434.71,287.36 434.89,287.45 435.08,287.25 435.26,286.77 435.45,286.00 435.63,284.94 435.82,283.60 436.00,281.99 436.19,280.10 436.38,277.93 436.56,275.51 436.75,272.82 436.93,269.89 437.12,266.71 437.30,263.29 437.49,259.65 437.68,255.80 437.86,251.75 438.05,247.50 438.23,243.08 438.42,238.49 438.60,233.74 438.79,228.86 438.97,223.86 439.16,218.74 439.35,213.53 439.53,208.25 439.72,202.90 439.90,197.50 440.09,192.07 440.27,186.63 440.46,181.20 440.65,175.78 440.83,170.39 441.02,165.06 441.20,159.80 441.39,154.62 441.57,149.54 441.76,144.57 441.94,139.73 442.13,135.04 442.32,130.51 442.50,126.15 442.69,121.97 442.87,118.00 443.06,114.23 443.24,110.69 443.43,107.38 443.62,104.31 443.80,101.49 443.99,98.93 444.17,96.64 444.36,94.62 444.54,92.88 444.73,91.43 444.92,90.27 445.10,89.39 445.29,88.81 445.47,88.53 445.66,88.54 445.84,88.85 446.03,89.45 446.21,90.33 446.40,91.51 446.59,92.97 446.77,94.70 446.96,96.71 447.14,98.98 447.33,101.50 447.51,104.28 447.70,107.28 447.89,110.52 448.07,113.97 448.26,117.62 448.44,121.47 448.63,125.49 448.81,129.68 449.00,134.01 449.18,138.48 449.37,143.07 449.56,147.76 449.74,152.54 449.93,157.39 450.11,162.30 450.30,167.24 450.48,172.20 450.67,177.17 450.86,182.12 451.04,187.04 451.23,191.92 451.41,196.73 451.60,201.45 451.78,206.08 451.97,210.60 452.16,214.99 452.34,219.23 452.53,223.31 452.71,227.22 452.90,230.94 453.08,234.46 453.27,237.77 453.45,240.85 453.64,243.69 453.83,246.29 454.01,248.64 454.20,250.72 454.38,252.52 454.57,254.05 454.75,255.29 454.94,256.25 455.13,256.91 455.31,257.27 455.50,257.34 455.68,257.10 455.87,256.57 456.05,255.73 456.24,254.60 456.42,253.18 456.61,251.46 456.80,249.46 456.98,247.19 457.17,244.64 457.35,241.82 457.54,238.75 457.72,235.43 457.91,231.88 458.10,228.10 458.28,224.11 458.47,219.93 458.65,215.55 458.84,211.00 459.02,206.30 459.21,201.45 459.39,196.48 459.58,191.40 459.77,186.22 459.95,180.97 460.14,175.67 460.32,170.32 460.51,164.94 460.69,159.57 460.88,154.20 461.07,148.87 461.25,143.58 461.44,138.36 461.62,133.23 461.81,128.19 461.99,123.28 462.18,118.50 462.37,113.87 462.55,109.41 462.74,105.13 462.92,101.05 463.11,97.18 463.29,93.54 463.48,90.13 463.66,86.97 463.85,84.08 464.04,81.45 464.22,79.10 464.41,77.04 464.59,75.28 464.78,73.82 464.96,72.67 465.15,71.83 465.34,71.30 465.52,71.10 465.71,71.21 465.89,71.64 466.08,72.39 466.26,73.46 466.45,74.84 466.63,76.53 466.82,78.52 467.01,80.82 467.19,83.41 467.38,86.28 467.56,89.42 467.75,92.83 467.93,96.49 468.12,100.40 468.31,104.53 468.49,108.88 468.68,113.43 468.86,118.17 469.05,123.07 469.23,128.14 469.42,133.34 469.60,138.66 469.79,144.09 469.98,149.60 470.16,155.18 470.35,160.81 470.53,166.46 470.72,172.13 470.90,177.80 471.09,183.43 471.28,189.02 471.46,194.54 471.65,199.99 471.83,205.33 472.02,210.55 472.20,215.64 472.39,220.57 472.58,225.34 472.76,229.92 472.95,234.29 473.13,238.46 473.32,242.39 473.50,246.08 473.69,249.51 473.87,252.68 474.06,255.57 474.25,258.18 474.43,260.49 474.62,262.50 474.80,264.20 474.99,265.58 475.17,266.65 475.36,267.39 475.55,267.81 475.73,267.90 475.92,267.67 476.10,267.12 476.29,266.24 476.47,265.05 476.66,263.54 476.84,261.73 477.03,259.61 477.22,257.21 477.40,254.52 477.59,251.55 477.77,248.33 477.96,244.85 478.14,241.14 478.33,237.20 478.52,233.05 478.70,228.71 478.89,224.19 479.07,219.50 479.26,214.68 479.44,209.72 479.63,204.66 479.81,199.51 480.00,194.29 480.19,189.01 480.37,183.71 480.56,178.39 480.74,173.08 480.93,167.79 481.11,162.55 481.30,157.38 481.49,152.29 481.67,147.31 481.86,142.45 482.04,137.73 482.23,133.18 482.41,128.80 482.60,124.61 482.79,120.63 482.97,116.88 483.16,113.37 483.34,110.11 483.53,107.12 483.71,104.40 483.90,101.98 484.08,99.85 484.27,98.03 484.46,96.53 484.64,95.36 484.83,94.51 485.01,93.99 485.20,93.81 485.38,93.97 485.57,94.47 485.76,95.31 485.94,96.49 486.13,98.00 486.31,99.85 486.50,102.02 486.68,104.51 486.87,107.31 487.05,110.42 487.24,113.82 487.43,117.50 487.61,121.46 487.80,125.67 487.98,130.14 488.17,134.83 488.35,139.74 488.54,144.84 488.73,150.14 488.91,155.59 489.10,161.19 489.28,166.92 489.47,172.76 489.65,178.69 489.84,184.68 490.03,190.73 490.21,196.80 490.40,202.88 490.58,208.95 490.77,214.98 490.95,220.96 491.14,226.86 491.32,232.66 491.51,238.36 491.70,243.91 491.88,249.31 492.07,254.54 492.25,259.58 492.44,264.41 492.62,269.01 492.81,273.38 493.00,277.49 493.18,281.33 493.37,284.89 493.55,288.15 493.74,291.10 493.92,293.74 494.11,296.06 494.29,298.04 494.48,299.68 494.67,300.98 494.85,301.93 495.04,302.53 495.22,302.77 495.41,302.66 495.59,302.20 495.78,301.39 495.97,300.23 496.15,298.73 496.34,296.89 496.52,294.72 496.71,292.24 496.89,289.44 497.08,286.34 497.26,282.95 497.45,279.29 497.64,275.37 497.82,271.20 498.01,266.79 498.19,262.18 498.38,257.36 498.56,252.37 498.75,247.22 498.94,241.92 499.12,236.51 499.31,230.99 499.49,225.40 499.68,219.75 499.86,214.05 500.05,208.35 500.24,202.65 500.42,196.97 500.61,191.35 500.79,185.79 500.98,180.33 501.16,174.98 501.35,169.76 501.53,164.69 501.72,159.79 501.91,155.09 502.09,150.59 502.28,146.31 502.46,142.28 502.65,138.51 502.83,135.00 503.02,131.78 503.21,128.86 503.39,126.25 503.58,123.96 503.76,121.99 503.95,120.36 504.13,119.08 504.32,118.14 504.50,117.56 504.69,117.32 504.88,117.45 505.06,117.93 505.25,118.77 505.43,119.96 505.62,121.50 505.80,123.38 505.99,125.60 506.18,128.15 506.36,131.02 506.55,134.20 506.73,137.67 506.92,141.44 507.10,145.47 507.29,149.76 507.47,154.30 507.66,159.06 507.85,164.02 508.03,169.17 508.22,174.50 508.40,179.97 508.59,185.58 508.77,191.29 508.96,197.09 509.15,202.95 509.33,208.86 509.52,214.79 509.70,220.71 509.89,226.62 510.07,232.47 510.26,238.26 510.45,243.96 510.63,249.54 510.82,254.99 511.00,260.29 511.19,265.41 511.37,270.34 511.56,275.05 511.74,279.54 511.93,283.77 512.12,287.73 512.30,291.42 512.49,294.81 512.67,297.89 512.86,300.64 513.04,303.07 513.23,305.15 513.42,306.88 513.60,308.25 513.79,309.26 513.97,309.90 514.16,310.17 514.34,310.06 514.53,309.58 514.71,308.73 514.90,307.50 515.09,305.91 515.27,303.95 515.46,301.64 515.64,298.98 515.83,295.99 516.01,292.66 516.20,289.02 516.39,285.08 516.57,280.85 516.76,276.34 516.94,271.58 517.13,266.58 517.31,261.35 517.50,255.93 517.68,250.32 517.87,244.55 518.06,238.64 518.24,232.61 518.43,226.48 518.61,220.29 518.80,214.04 518.98,207.76 519.17,201.48 519.36,195.23 519.54,189.01 519.73,182.86 519.91,176.80 520.10,170.86 520.28,165.05 520.47,159.39 520.66,153.92 520.84,148.64 521.03,143.58 521.21,138.76 521.40,134.20 521.58,129.90 521.77,125.90 521.95,122.20 522.14,118.82 522.33,115.77 522.51,113.07 522.70,110.71 522.88,108.72 523.07,107.09 523.25,105.84 523.44,104.97 523.63,104.48 523.81,104.38 524.00,104.66 524.18,105.32 524.37,106.36 524.55,107.78 524.74,109.57 524.92,111.72 525.11,114.22 525.30,117.06 525.48,120.24 525.67,123.74 525.85,127.54 526.04,131.63 526.22,135.99 526.41,140.61 526.60,145.46 526.78,150.53 526.97,155.80 527.15,161.25 527.34,166.85 527.52,172.58 527.71,178.42 527.89,184.34 528.08,190.33 528.27,196.35 528.45,202.38 528.64,208.41 528.82,214.39 529.01,220.31 529.19,226.15 529.38,231.88 529.57,237.48 529.75,242.92 529.94,248.18 530.12,253.24 530.31,258.08 530.49,262.68 530.68,267.02 530.87,271.08 531.05,274.85 531.24,278.30 531.42,281.42 531.61,284.20 531.79,286.63 531.98,288.70 532.16,290.39 532.35,291.69 532.54,292.61 532.72,293.14 532.91,293.26 533.09,292.99 533.28,292.31 533.46,291.24 533.65,289.77 533.84,287.91 534.02,285.66 534.21,283.04 534.39,280.04 534.58,276.69 534.76,272.99 534.95,268.95 535.13,264.60 535.32,259.94 535.51,254.99 535.69,249.77 535.88,244.31 536.06,238.61 536.25,232.71 536.43,226.62 536.62,220.37 536.81,213.98 536.99,207.48 537.18,200.88 537.36,194.22 537.55,187.52 537.73,180.80 537.92,174.09 538.11,167.42 538.29,160.81 538.48,154.29 538.66,147.88 538.85,141.60 539.03,135.48 539.22,129.55 539.40,123.83 539.59,118.33 539.78,113.08 539.96,108.10 540.15,103.41 540.33,99.03 540.52,94.97 540.70,91.24 540.89,87.87 541.08,84.86 541.26,82.23 541.45,79.99 541.63,78.14 541.82,76.69 542.00,75.65 542.19,75.02 542.37,74.79 542.56,74.98 542.75,75.58 542.93,76.59 543.12,78.00 543.30,79.80 543.49,81.99 543.67,84.56 543.86,87.50 544.05,90.79 544.23,94.42 544.42,98.37 544.60,102.63 544.79,107.19 544.97,112.01 545.16,117.08 545.34,122.39 545.53,127.90 545.72,133.59 545.90,139.44 546.09,145.43 546.27,151.53 546.46,157.72 546.64,163.96 546.83,170.23 547.02,176.52 547.20,182.78 547.39,188.99 547.57,195.13 547.76,201.17 547.94,207.09 548.13,212.86 548.32,218.46 548.50,223.86 548.69,229.03 548.87,233.97 549.06,238.64 549.24,243.03 549.43,247.12 549.61,250.88 549.80,254.31 549.99,257.39 550.17,260.10 550.36,262.44 550.54,264.39 550.73,265.95 550.91,267.10 551.10,267.84 551.29,268.17 551.47,268.08 551.66,267.58 551.84,266.66 552.03,265.33 552.21,263.60 552.40,261.47 552.58,258.94 552.77,256.03 552.96,252.75 553.14,249.11 553.33,245.13 553.51,240.82 553.70,236.20 553.88,231.28 554.07,226.10 554.26,220.66 554.44,215.00 554.63,209.12 554.81,203.07 555.00,196.86 555.18,190.51 555.37,184.06 555.55,177.54 555.74,170.96 555.93,164.35 556.11,157.75 556.30,151.17 556.48,144.66 556.67,138.23 556.85,131.91 557.04,125.73 557.23,119.71 557.41,113.88 557.60,108.27 557.78,102.89 557.97,97.78 558.15,92.95 558.34,88.42 558.53,84.21 558.71,80.35 558.90,76.84 559.08,73.71 559.27,70.96 559.45,68.61 559.64,66.67 559.82,65.15 560.01,64.06 560.20,63.40 560.38,63.17 560.57,63.38 560.75,64.03 560.94,65.11 561.12,66.62 561.31,68.56 561.50,70.92 561.68,73.69 561.87,76.86 562.05,80.42 562.24,84.34 562.42,88.63 562.61,93.26 562.79,98.20 562.98,103.45 563.17,108.99 563.35,114.78 563.54,120.80 563.72,127.04 563.91,133.46 564.09,140.04 564.28,146.75 564.47,153.57 564.65,160.46 564.84,167.40 565.02,174.36 565.21,181.32 565.39,188.23 565.58,195.08 565.76,201.84 565.95,208.47 566.14,214.96 566.32,221.27 566.51,227.37 566.69,233.25 566.88,238.88 567.06,244.23 567.25,249.28 567.44,254.02 567.62,258.41 567.81,262.45 567.99,266.12 568.18,269.40 568.36,272.28 568.55,274.75 568.74,276.79 568.92,278.40 569.11,279.57 569.29,280.30 569.48,280.58 569.66,280.42 569.85,279.81 570.03,278.76 570.22,277.27 570.41,275.36 570.59,273.02 570.78,270.27 570.96,267.13 571.15,263.60 571.33,259.70 571.52,255.45 571.71,250.87 571.89,245.98 572.08,240.80 572.26,235.36 572.45,229.67 572.63,223.76 572.82,217.67 573.00,211.41 573.19,205.01 573.38,198.51 573.56,191.93 573.75,185.30 573.93,178.65 574.12,172.02 574.30,165.42 574.49,158.89 574.68,152.46 574.86,146.16 575.05,140.02 575.23,134.06 575.42,128.31 575.60,122.80 575.79,117.55 575.97,112.60 576.16,107.95 576.35,103.63 576.53,99.67 576.72,96.08 576.90,92.88 577.09,90.08 577.27,87.71 577.46,85.76 577.65,84.25 577.83,83.19 578.02,82.59 578.20,82.45 578.39,82.78 578.57,83.57 578.76,84.81 578.95,86.52 579.13,88.68 579.32,91.29 579.50,94.32 579.69,97.79 579.87,101.66 580.06,105.93 580.24,110.57 580.43,115.58 580.62,120.92 580.80,126.59 580.99,132.54 581.17,138.77 581.36,145.24 581.54,151.94 581.73,158.82 581.92,165.86 582.10,173.04 582.29,180.32 582.47,187.67 582.66,195.07 582.84,202.48 583.03,209.87 583.21,217.20 583.40,224.46 583.59,231.60 583.77,238.60 583.96,245.44 584.14,252.07 584.33,258.47 584.51,264.62 584.70,270.48 584.89,276.04 585.07,281.27 585.26,286.15 585.44,290.66 585.63,294.78 585.81,298.49 586.00,301.78 586.19,304.63 586.37,307.03 586.56,308.97 586.74,310.44 586.93,311.44 587.11,311.97 587.30,312.02 587.48,311.59 587.67,310.68 587.86,309.31 588.04,307.47 588.23,305.18 588.41,302.44 588.60,299.28 588.78,295.69 588.97,291.72 589.16,287.36 589.34,282.63 589.53,277.58 589.71,272.20 589.90,266.54 590.08,260.61 590.27,254.44 590.45,248.06 590.64,241.51 590.83,234.80 591.01,227.97 591.20,221.05 591.38,214.08 591.57,207.08 591.75,200.08 591.94,193.13 592.13,186.24 592.31,179.46 592.50,172.81 592.68,166.32 592.87,160.03 593.05,153.95 593.24,148.13 593.42,142.58 593.61,137.34 593.80,132.42 593.98,127.85 594.17,123.65 594.35,119.84 594.54,116.44 594.72,113.47 594.91,110.93 595.10,108.84 595.28,107.22 595.47,106.06 595.65,105.38 595.84,105.17 596.02,105.45 596.21,106.21 596.40,107.44 596.58,109.15 596.77,111.32 596.95,113.95 597.14,117.02 597.32,120.53 597.51,124.45 597.69,128.77 597.88,133.46 598.07,138.52 598.25,143.92 598.44,149.62 598.62,155.62 598.81,161.88 598.99,168.36 599.18,175.06 599.37,181.92 599.55,188.93 599.74,196.05 599.92,203.24 600.11,210.49 600.29,217.74 600.48,224.98 600.66,232.17 600.85,239.27 601.04,246.25 601.22,253.08 601.41,259.74 601.59,266.18 601.78,272.38 601.96,278.32 602.15,283.95 602.34,289.27 602.52,294.24 602.71,298.84 602.89,303.04 603.08,306.84 603.26,310.21 603.45,313.14 603.63,315.60 603.82,317.60 604.01,319.12 604.19,320.15 604.38,320.69 604.56,320.74 604.75,320.29 604.93,319.34 605.12,317.90 605.31,315.98 605.49,313.59 605.68,310.72 605.86,307.41 606.05,303.65 606.23,299.47 606.42,294.89 606.61,289.92 606.79,284.59 606.98,278.93 607.16,272.95 607.35,266.68 607.53,260.16 607.72,253.41 607.90,246.47 608.09,239.35 608.28,232.11 608.46,224.76 608.65,217.35 608.83,209.90 609.02,202.46 609.20,195.04 609.39,187.70 609.58,180.46 609.76,173.35 609.95,166.41 610.13,159.66 610.32,153.15 610.50,146.90 610.69,140.93 610.87,135.28 611.06,129.97 611.25,125.02 611.43,120.47 611.62,116.32 611.80,112.59 611.99,109.31 612.17,106.49 612.36,104.14 612.55,102.27 612.73,100.89 612.92,100.01 613.10,99.63 613.29,99.74 613.47,100.35 613.66,101.46 613.84,103.06 614.03,105.15 614.22,107.70 614.40,110.72 614.59,114.18 614.77,118.07 614.96,122.37 615.14,127.06 615.33,132.11 615.52,137.51 615.70,143.23 615.89,149.23 616.07,155.50 616.26,161.99 616.44,168.68 616.63,175.54 616.82,182.53 617.00,189.62 617.19,196.77 617.37,203.96 617.56,211.13 617.74,218.27 617.93,225.34 618.11,232.29 618.30,239.10 618.49,245.74 618.67,252.17 618.86,258.35 619.04,264.27 619.23,269.88 619.41,275.17 619.60,280.10 619.79,284.65 619.97,288.80 620.16,292.52 620.34,295.80 620.53,298.63 620.71,300.98 620.90,302.84 621.08,304.20 621.27,305.06 621.46,305.41 621.64,305.25 621.83,304.57 622.01,303.38 622.20,301.68 622.38,299.48 622.57,296.78 622.76,293.59 622.94,289.94 623.13,285.83 623.31,281.29 623.50,276.33 623.68,270.97 623.87,265.24 624.06,259.17 624.24,252.78 624.43,246.10 624.61,239.16 624.80,231.99 624.98,224.63 625.17,217.11 625.35,209.47 625.54,201.73 625.73,193.94 625.91,186.12 626.10,178.33 626.28,170.59 626.47,162.94 626.65,155.41 626.84,148.04 627.03,140.87 627.21,133.92 627.40,127.23 627.58,120.83 627.77,114.75 627.95,109.02 628.14,103.67 628.32,98.71 628.51,94.18 628.70,90.09 628.88,86.46 629.07,83.31 629.25,80.65 629.44,78.49 629.62,76.85 629.81,75.73 630.00,75.13 630.18,75.06 630.37,75.51 630.55,76.49 630.74,77.98 630.92,79.99 631.11,82.49 631.29,85.48 631.48,88.94 631.67,92.85 631.85,97.20 632.04,101.97 632.22,107.12 632.41,112.63 632.59,118.48 632.78,124.63 632.97,131.06 633.15,137.73 633.34,144.61 633.52,151.67 633.71,158.87 633.89,166.17 634.08,173.53 634.27,180.93 634.45,188.32 634.64,195.66 634.82,202.93 635.01,210.07 635.19,217.06 635.38,223.86 635.56,230.43 635.75,236.75 635.94,242.78 636.12,248.48 636.31,253.84 636.49,258.82 636.68,263.39 636.86,267.54 637.05,271.24 637.24,274.47 637.42,277.22 637.61,279.46 637.79,281.19 637.98,282.40 638.16,283.08 638.35,283.22 638.53,282.83 638.72,281.90 638.91,280.44 639.09,278.45 639.28,275.95 639.46,272.93 639.65,269.42 639.83,265.42 640.02,260.97 640.21,256.07 640.39,250.76 640.58,245.05 640.76,238.97 640.95,232.56 641.13,225.84 641.32,218.84 641.50,211.61 641.69,204.16 641.88,196.55 642.06,188.80 642.25,180.95 642.43,173.04 642.62,165.12 642.80,157.21 642.99,149.36 643.18,141.60 643.36,133.98 643.55,126.52 643.73,119.28 643.92,112.28 644.10,105.55 644.29,99.14 644.48,93.06 644.66,87.36 644.85,82.06 645.03,77.19 645.22,72.77 645.40,68.82 645.59,65.36 645.77,62.42 645.96,60.00 646.15,58.12 646.33,56.78 646.52,56.00 646.70,55.77 646.89,56.11 647.07,57.00 647.26,58.45 647.45,60.44 647.63,62.98 647.82,66.04 648.00,69.61 648.19,73.67 648.37,78.21 648.56,83.20 648.74,88.62 648.93,94.44 649.12,100.64 649.30,107.17 649.49,114.02 649.67,121.14 649.86,128.50 650.04,136.07 650.23,143.80 650.42,151.66 650.60,159.61 650.79,167.60 650.97,175.61 651.16,183.59 651.34,191.49 651.53,199.29 651.71,206.93 651.90,214.39 652.09,221.62 652.27,228.60 652.46,235.27 652.64,241.62 652.83,247.60 653.01,253.19 653.20,258.36 653.39,263.08 653.57,267.33 653.76,271.09 653.94,274.34 654.13,277.06 654.31,279.24 654.50,280.87 654.69,281.93 654.87,282.43 655.06,282.36 655.24,281.72 655.43,280.52 655.61,278.75 655.80,276.44 655.98,273.58 656.17,270.20 656.36,266.31 656.54,261.94 656.73,257.10 656.91,251.81 657.10,246.12 657.28,240.03 657.47,233.60 657.66,226.84 657.84,219.80 658.03,212.51 658.21,205.00 658.40,197.32 658.58,189.51 658.77,181.60 658.95,173.64 659.14,165.67 659.33,157.73 659.51,149.85 659.70,142.09 659.88,134.49 660.07,127.07 660.25,119.89 660.44,112.97 660.63,106.36 660.81,100.09 661.00,94.19 661.18,88.70 661.37,83.64 661.55,79.04 661.74,74.93 661.92,71.33 662.11,68.25 662.30,65.73 662.48,63.76 662.67,62.36 662.85,61.55 663.04,61.32 663.22,61.68 663.41,62.63 663.60,64.17 663.78,66.29 663.97,68.97 664.15,72.22 664.34,76.01 664.52,80.32 664.71,85.14 664.90,90.44 665.08,96.20 665.27,102.39 665.45,108.97 665.64,115.92 665.82,123.21 666.01,130.79 666.19,138.63 666.38,146.68 666.57,154.92 666.75,163.30 666.94,171.77 667.12,180.30 667.31,188.84 667.49,197.35 667.68,205.79 667.87,214.11 668.05,222.28 668.24,230.24 668.42,237.97 668.61,245.43 668.79,252.57 668.98,259.36 669.16,265.77 669.35,271.76 669.54,277.31 669.72,282.39 669.91,286.97 670.09,291.03 670.28,294.55 670.46,297.51 670.65,299.91 670.84,301.72 671.02,302.94 671.21,303.56 671.39,303.59 671.58,303.03 671.76,301.87 671.95,300.13 672.14,297.81 672.32,294.93 672.51,291.51 672.69,287.56 672.88,283.11 673.06,278.17 673.25,272.79 673.43,266.98 673.62,260.78 673.81,254.22 673.99,247.34 674.18,240.18 674.36,232.77 674.55,225.16 674.73,217.38 674.92,209.48 675.11,201.51 675.29,193.49 675.48,185.49 675.66,177.54 675.85,169.68 676.03,161.97 676.22,154.43 676.40,147.12 676.59,140.06 676.78,133.31 676.96,126.90 677.15,120.86 677.33,115.23 677.52,110.04 677.70,105.31 677.89,101.08 678.08,97.37 678.26,94.19 678.45,91.58 678.63,89.53 678.82,88.07 679.00,87.21 679.19,86.95 679.37,87.29 679.56,88.23 679.75,89.77 679.93,91.91 680.12,94.63 680.30,97.93 680.49,101.78 680.67,106.17 680.86,111.07 681.05,116.47 681.23,122.33 681.42,128.62 681.60,135.32 681.79,142.38 681.97,149.78 682.16,157.47 682.35,165.42 682.53,173.58 682.72,181.91 682.90,190.37 683.09,198.91 683.27,207.49 683.46,216.07 683.64,224.59 683.83,233.02 684.02,241.30 684.20,249.41 684.39,257.29 684.57,264.90 684.76,272.20 684.94,279.16 685.13,285.74 685.32,291.89 685.50,297.60 685.69,302.83 685.87,307.55 686.06,311.74 686.24,315.37 686.43,318.43 686.61,320.91 686.80,322.78 686.99,324.04 687.17,324.68 687.36,324.70 687.54,324.10 687.73,322.88 687.91,321.06 688.10,318.63 688.29,315.61 688.47,312.03 688.66,307.89 688.84,303.22 689.03,298.05 689.21,292.40 689.40,286.31 689.58,279.80 689.77,272.92 689.96,265.69 690.14,258.17 690.33,250.38 690.51,242.38 690.70,234.21 690.88,225.91 691.07,217.52 691.26,209.10 691.44,200.69 691.63,192.34 691.81,184.08 692.00,175.97 692.18,168.06 692.37,160.38 692.56,152.98 692.74,145.89 692.93,139.17 693.11,132.84 693.30,126.94 693.48,121.50 693.67,116.56 693.85,112.14 694.04,108.27 694.23,104.96 694.41,102.25 694.60,100.13 694.78,98.63 694.97,97.76 695.15,97.51 695.34,97.90 695.53,98.92 695.71,100.56 695.90,102.82 696.08,105.69 696.27,109.15 696.45,113.18 696.64,117.77 696.82,122.88 697.01,128.50 697.20,134.58 697.38,141.11 697.57,148.03 697.75,155.33 697.94,162.94 698.12,170.84 698.31,178.99 698.50,187.32 698.68,195.81 698.87,204.41 699.05,213.06 699.24,221.71 699.42,230.33 699.61,238.87 699.79,247.26 699.98,255.48 700.17,263.47 700.35,271.19 700.54,278.60 700.72,285.65 700.91,292.30 701.09,298.52 701.28,304.27 701.47,309.52 701.65,314.24 701.84,318.40 702.02,321.98 702.21,324.95 702.39,327.31 702.58,329.02 702.77,330.09 702.95,330.51 703.14,330.27 703.32,329.37 703.51,327.81 703.69,325.61 703.88,322.77 704.06,319.31 704.25,315.25 704.44,310.60 704.62,305.39 704.81,299.64 704.99,293.40 705.18,286.68 705.36,279.53 705.55,271.99 705.74,264.09 705.92,255.88 706.11,247.40 706.29,238.69 706.48,229.81 706.66,220.80 706.85,211.72 707.03,202.60 707.22,193.50 707.41,184.47 707.59,175.56 707.78,166.81 707.96,158.28 708.15,150.01 708.33,142.04 708.52,134.43 708.71,127.20 708.89,120.40 709.08,114.07 709.26,108.24 709.45,102.94 709.63,98.20 709.82,94.05 710.01,90.50 710.19,87.59 710.38,85.31 710.56,83.70 710.75,82.74 710.93,82.45 711.12,82.84 711.30,83.88 711.49,85.59 711.68,87.94 711.86,90.93 712.05,94.53 712.23,98.73 712.42,103.49 712.60,108.80 712.79,114.62 712.98,120.92 713.16,127.67 713.35,134.81 713.53,142.31 713.72,150.14 713.90,158.23 714.09,166.55 714.27,175.05 714.46,183.67 714.65,192.37 714.83,201.11 715.02,209.81 715.20,218.45 715.39,226.96 715.57,235.29 715.76,243.41 715.95,251.25 716.13,258.78 716.32,265.95 716.50,272.72 716.69,279.05 716.87,284.89 717.06,290.23 717.24,295.01 717.43,299.22 717.62,302.83 717.80,305.82 717.99,308.17 718.17,309.86 718.36,310.88 718.54,311.23 718.73,310.89 718.92,309.88 719.10,308.19 719.29,305.84 719.47,302.82 719.66,299.17 719.84,294.89 720.03,290.02 720.22,284.57 720.40,278.57 720.59,272.07 720.77,265.08 720.96,257.66 721.14,249.84 721.33,241.66 721.51,233.17 721.70,224.42 721.89,215.46 722.07,206.33 722.26,197.08 722.44,187.77 722.63,178.45 722.81,169.17 723.00,159.98 723.19,150.94 723.37,142.08 723.56,133.48 723.74,125.16 723.93,117.18 724.11,109.58 724.30,102.41 724.48,95.70 724.67,89.50 724.86,83.83 725.04,78.72 725.23,74.22 725.41,70.33 725.60,67.08 725.78,64.49 725.97,62.58 726.16,61.34 726.34,60.79 726.53,60.93 726.71,61.76 726.90,63.27 727.08,65.45 727.27,68.29 727.45,71.77 727.64,75.87 727.83,80.57 728.01,85.83 728.20,91.63 728.38,97.93 728.57,104.69 728.75,111.87 728.94,119.44 729.13,127.33 729.31,135.52 729.50,143.94 729.68,152.55 729.87,161.30 730.05,170.13 730.24,178.99 730.43,187.83 730.61,196.60 730.80,205.23 730.98,213.69 731.17,221.92 731.35,229.86 731.54,237.48 731.72,244.72 731.91,251.55 732.10,257.91 732.28,263.78 732.47,269.11 732.65,273.88 732.84,278.04 733.02,281.58 733.21,284.48 733.40,286.71 733.58,288.27 733.77,289.13 733.95,289.30 734.14,288.77 734.32,287.54 734.51,285.62 734.69,283.01 734.88,279.74 735.07,275.81 735.25,271.25 735.44,266.09 735.62,260.35 735.81,254.06 735.99,247.26 736.18,240.00 736.37,232.30 736.55,224.22 736.74,215.80 736.92,207.08 737.11,198.13 737.29,188.99 737.48,179.71 737.66,170.35 737.85,160.97 738.04,151.61 738.22,142.34 738.41,133.20 738.59,124.26 738.78,115.55 738.96,107.15 739.15,99.09 739.34,91.42 739.52,84.19 739.71,77.44 739.89,71.21 740.08,65.54 740.26,60.46 740.45,56.01 740.64,52.20 740.82,49.08 741.01,46.64 741.19,44.91 741.38,43.90 741.56,43.62 741.75,44.07 741.93,45.24 742.12,47.14 742.31,49.75 742.49,53.05 742.68,57.03 742.86,61.67 743.05,66.93 743.23,72.80 743.42,79.23 743.61,86.19 743.79,93.64 743.98,101.53 744.16,109.82 744.35,118.46 744.53,127.39 744.72,136.58 744.90,145.96 745.09,155.48 745.28,165.08 745.46,174.70 745.65,184.30 745.83,193.81 746.02,203.17 746.20,212.33 746.39,221.25 746.58,229.85 746.76,238.10 746.95,245.94 747.13,253.34 747.32,260.23 747.50,266.59 747.69,272.37 747.87,277.54 748.06,282.07 748.25,285.94 748.43,289.11 748.62,291.58 748.80,293.32 748.99,294.32 749.17,294.58 749.36,294.10 749.55,292.88 749.73,290.93 749.92,288.26 750.10,284.89 750.29,280.83 750.47,276.12 750.66,270.77 750.85,264.83 751.03,258.33 751.22,251.31 751.40,243.81 751.59,235.87 751.77,227.55 751.96,218.90 752.14,209.96 752.33,200.80 752.52,191.47 752.70,182.03 752.89,172.52 753.07,163.03 753.26,153.59 753.44,144.27 753.63,135.12 753.82,126.21 754.00,117.59 754.19,109.31 754.37,101.41 754.56,93.96 754.74,87.00 754.93,80.57 755.11,74.71 755.30,69.46 755.49,64.86 755.67,60.92 755.86,57.68 756.04,55.17 756.23,53.38 756.41,52.35 756.60,52.07 756.79,52.56 756.97,53.81 757.16,55.80 757.34,58.55 757.53,62.02 757.71,66.20 757.90,71.06 758.09,76.59 758.27,82.74 758.46,89.48 758.64,96.77 758.83,104.56 759.01,112.83 759.20,121.50 759.38,130.54 759.57,139.89 759.76,149.49 759.94,159.29 760.13,169.23 760.31,179.25 760.50,189.29 760.68,199.29 760.87,209.20 761.06,218.95 761.24,228.48 761.43,237.74 761.61,246.67 761.80,255.23 761.98,263.35 762.17,270.99 762.35,278.11 762.54,284.66 762.73,290.61 762.91,295.92 763.10,300.56 763.28,304.49 763.47,307.71 763.65,310.19 763.84,311.91 764.03,312.88 764.21,313.07 764.40,312.51 764.58,311.18 764.77,309.10 764.95,306.28 765.14,302.74 765.32,298.51 765.51,293.61 765.70,288.08 765.88,281.95 766.07,275.26 766.25,268.05 766.44,260.37 766.62,252.27 766.81,243.81 767.00,235.02 767.18,225.98 767.37,216.74 767.55,207.35 767.74,197.89 767.92,188.40 768.11,178.95 768.30,169.61 768.48,160.42 768.67,151.46 768.85,142.77 769.04,134.41 769.22,126.45 769.41,118.92 769.59,111.88 769.78,105.37 769.97,99.45 770.15,94.14 770.34,89.48 770.52,85.50 770.71,82.23 770.89,79.70 771.08,77.91 771.27,76.89 771.45,76.64 771.64,77.17 771.82,78.47 772.01,80.54 772.19,83.37 772.38,86.94 772.56,91.24 772.75,96.23 772.94,101.90 773.12,108.20 773.31,115.09 773.49,122.55 773.68,130.52 773.86,138.95 774.05,147.80 774.24,157.01 774.42,166.52 774.61,176.27 774.79,186.21 774.98,196.28 775.16,206.41 775.35,216.54 775.53,226.61 775.72,236.56 775.91,246.32 776.09,255.84 776.28,265.05 776.46,273.90 776.65,282.34 776.83,290.30 777.02,297.75 777.21,304.64 777.39,310.92 777.58,316.55 777.76,321.50 777.95,325.74 778.13,329.25 778.32,331.99 778.51,333.96 778.69,335.14 778.88,335.53 779.06,335.12 779.25,333.91 779.43,331.92 779.62,329.16 779.80,325.63 779.99,321.38 780.18,316.42 780.36,310.78 780.55,304.50 780.73,297.63 780.92,290.19 781.10,282.25 781.29,273.85 781.48,265.05 781.66,255.90 781.85,246.46 782.03,236.79 782.22,226.95 782.40,217.01 782.59,207.03 782.77,197.07 782.96,187.19 783.15,177.47 783.33,167.96 783.52,158.72 783.70,149.82 783.89,141.30 784.07,133.24 784.26,125.67 784.45,118.64 784.63,112.21 784.82,106.41 785.00,101.28 785.19,96.86 785.37,93.17 785.56,90.24 785.74,88.08 785.93,86.72 786.12,86.15 786.30,86.39 786.49,87.44 786.67,89.28 786.86,91.91 787.04,95.31 787.23,99.46 787.42,104.34 787.60,109.91 787.79,116.13 787.97,122.98 788.16,130.40 788.34,138.35 788.53,146.77 788.72,155.62 788.90,164.84 789.09,174.36 789.27,184.13 789.46,194.09 789.64,204.16 789.83,214.28 790.01,224.40 790.20,234.44 790.39,244.34 790.57,254.03 790.76,263.46 790.94,272.55 791.13,281.25 791.31,289.51 791.50,297.27 791.69,304.48 791.87,311.09 792.06,317.06 792.24,322.35 792.43,326.93 792.61,330.76 792.80,333.81 792.98,336.08 793.17,337.53 793.36,338.17 793.54,337.99 793.73,336.98 793.91,335.15 794.10,332.52 794.28,329.10 794.47,324.90 794.66,319.96 794.84,314.30 795.03,307.97 795.21,301.00 795.40,293.43 795.58,285.32 795.77,276.71 795.95,267.66 796.14,258.23 796.33,248.47 796.51,238.46 796.70,228.25 796.88,217.91 797.07,207.51 797.25,197.11 797.44,186.78 797.63,176.59 797.81,166.60 798.00,156.88 798.18,147.49 798.37,138.49 798.55,129.94 798.74,121.89 798.93,114.39 799.11,107.51 799.30,101.27 799.48,95.71 799.67,90.89 799.85,86.81 800.04,83.52 800.22,81.03 800.41,79.35 800.60,78.51 800.78,78.49 800.97,79.31 801.15,80.95 801.34,83.40 801.52,86.65 801.71,90.68 801.90,95.45 802.08,100.94 802.27,107.11 802.45,113.92 802.64,121.32 802.82,129.27 803.01,137.70 803.19,146.57 803.38,155.81 803.57,165.36 803.75,175.15 803.94,185.13 804.12,195.22 804.31,205.36 804.49,215.47 804.68,225.50 804.87,235.36 805.05,245.00 805.24,254.34 805.42,263.34 805.61,271.91 805.79,280.01 805.98,287.57 806.17,294.56 806.35,300.91 806.54,306.59 806.72,311.55 806.91,315.76 807.09,319.19 807.28,321.82 807.46,323.62 807.65,324.58 807.84,324.70 808.02,323.96 808.21,322.38 808.39,319.96 808.58,316.71 808.76,312.65 808.95,307.81 809.14,302.21 809.32,295.90 809.51,288.91 809.69,281.28 809.88,273.06 810.06,264.31 810.25,255.08 810.43,245.44 810.62,235.43 810.81,225.14 810.99,214.62 811.18,203.94 811.36,193.18 811.55,182.39 811.73,171.66 811.92,161.06 812.11,150.64 812.29,140.49 812.48,130.66 812.66,121.23 812.85,112.24 813.03,103.77 813.22,95.87 813.40,88.58 813.59,81.96 813.78,76.05 813.96,70.88 814.15,66.50 814.33,62.93 814.52,60.18 814.70,58.29 814.89,57.26 815.08,57.09 815.26,57.79 815.45,59.36 815.63,61.77 815.82,65.01 816.00,69.06 816.19,73.90 816.38,79.48 816.56,85.77 816.75,92.72 816.93,100.30 817.12,108.44 817.30,117.08 817.49,126.18 817.67,135.67 817.86,145.47 818.05,155.53 818.23,165.78 818.42,176.14 818.60,186.54 818.79,196.90 818.97,207.17 819.16,217.26 819.35,227.11 819.53,236.65 819.72,245.81 819.90,254.52 820.09,262.73 820.27,270.38 820.46,277.41 820.64,283.77 820.83,289.42 821.02,294.32 821.20,298.43 821.39,301.73 821.57,304.18 821.76,305.76 821.94,306.47 822.13,306.30 822.32,305.24 822.50,303.30 822.69,300.49 822.87,296.83 823.06,292.34 823.24,287.05 823.43,280.99 823.61,274.20 823.80,266.73 823.99,258.61 824.17,249.92 824.36,240.70 824.54,231.01 824.73,220.93 824.91,210.50 825.10,199.82 825.29,188.94 825.47,177.94 825.66,166.89 825.84,155.87 826.03,144.95 826.21,134.21 826.40,123.71 826.59,113.53 826.77,103.74 826.96,94.40 827.14,85.57 827.33,77.33 827.51,69.71 827.70,62.78 827.88,56.57 828.07,51.14 828.26,46.53 828.44,42.75 828.63,39.84 828.81,37.82 829.00,36.70 829.18,36.49 829.37,37.19 829.56,38.80 829.74,41.30 829.93,44.69 830.11,48.93 830.30,53.99 830.48,59.84 830.67,66.45 830.85,73.76 831.04,81.72 831.23,90.29 831.41,99.40 831.60,108.98 831.78,118.98 831.97,129.32 832.15,139.94 832.34,150.75 832.53,161.69 832.71,172.67 832.90,183.63 833.08,194.49 833.27,205.17 833.45,215.59 833.64,225.69 833.82,235.40 834.01,244.64 834.20,253.35 834.38,261.48 834.57,268.96 834.75,275.75 834.94,281.79 835.12,287.04 835.31,291.47 835.50,295.04 835.68,297.73 835.87,299.52 836.05,300.39 836.24,300.35 836.42,299.38 836.61,297.49 836.80,294.71 836.98,291.04 837.17,286.51 837.35,281.16 837.54,275.02 837.72,268.13 837.91,260.55 838.09,252.31 838.28,243.49 838.47,234.15 838.65,224.34 838.84,214.14 839.02,203.61 839.21,192.84 839.39,181.90 839.58,170.86 839.77,159.80 839.95,148.80 840.14,137.94 840.32,127.29 840.51,116.94 840.69,106.94 840.88,97.38 841.06,88.32 841.25,79.82 841.44,71.96 841.62,64.77 841.81,58.33 841.99,52.66 842.18,47.82 842.36,43.84 842.55,40.75 842.74,38.57 842.92,37.32 843.11,37.02 843.29,37.66 843.48,39.24 843.66,41.76 843.85,45.20 844.04,49.53 844.22,54.73 844.41,60.76 844.59,67.58 844.78,75.14 844.96,83.40 845.15,92.29 845.33,101.76 845.52,111.74 845.71,122.17 845.89,132.96 846.08,144.06 846.26,155.37 846.45,166.82 846.63,178.34 846.82,189.84 847.01,201.25 847.19,212.48 847.38,223.46 847.56,234.11 847.75,244.36 847.93,254.13 848.12,263.36 848.30,271.99 848.49,279.95 848.68,287.20 848.86,293.67 849.05,299.33 849.23,304.13 849.42,308.04 849.60,311.05 849.79,313.11 849.98,314.23 850.16,314.40 850.35,313.60 850.53,311.86 850.72,309.19 850.90,305.60 851.09,301.12 851.27,295.79 851.46,289.64 851.65,282.73 851.83,275.10 852.02,266.80 852.20,257.90 852.39,248.47 852.57,238.56 852.76,228.26 852.95,217.64 853.13,206.77 853.32,195.73 853.50,184.62 853.69,173.49 853.87,162.45 854.06,151.56 854.25,140.91 854.43,130.57 854.62,120.63 854.80,111.15 854.99,102.20 855.17,93.85 855.36,86.17 855.54,79.20 855.73,73.00 855.92,67.62 856.10,63.10 856.29,59.47 856.47,56.76 856.66,55.00 856.84,54.19 857.03,54.35 857.22,55.47 857.40,57.55 857.59,60.58 857.77,64.54 857.96,69.41 858.14,75.14 858.33,81.70 858.51,89.04 858.70,97.12 858.89,105.87 859.07,115.24 859.26,125.16 859.44,135.57 859.63,146.38 859.81,157.52 860.00,168.92 860.19,180.49 860.37,192.16 860.56,203.83 860.74,215.43 860.93,226.87 861.11,238.08 861.30,248.97 861.48,259.47 861.67,269.51 861.86,279.00 862.04,287.89 862.23,296.11 862.41,303.61 862.60,310.32 862.78,316.21 862.97,321.24 863.16,325.36 863.34,328.55 863.53,330.79 863.71,332.06 863.90,332.36 864.08,331.68 864.27,330.03 864.46,327.43 864.64,323.89 864.83,319.45 865.01,314.12 865.20,307.97 865.38,301.02 865.57,293.34 865.75,284.97 865.94,276.00 866.13,266.47 866.31,256.46 866.50,246.04 866.68,235.31 866.87,224.32 867.05,213.17 867.24,201.93 867.43,190.70 867.61,179.56 867.80,168.58 867.98,157.86 868.17,147.47 868.35,137.48 868.54,127.98 868.72,119.04 868.91,110.72 869.10,103.09 869.28,96.20 869.47,90.10 869.65,84.85 869.84,80.48 870.02,77.03 870.21,74.53 870.40,72.98 870.58,72.42 870.77,72.83 870.95,74.23 871.14,76.60 871.32,79.93 871.51,84.20 871.69,89.37 871.88,95.41 872.07,102.28 872.25,109.92 872.44,118.29 872.62,127.32 872.81,136.95 872.99,147.11 873.18,157.72 873.37,168.71 873.55,180.00 873.74,191.50 873.92,203.13 874.11,214.80 874.29,226.43 874.48,237.94 874.67,249.24 874.85,260.24 875.04,270.86 875.22,281.03 875.41,290.67 875.59,299.71 875.78,308.09 875.96,315.73 876.15,322.58 876.34,328.60 876.52,333.73 876.71,337.94 876.89,341.20 877.08,343.48 877.26,344.76 877.45,345.04 877.64,344.31 877.82,342.58 878.01,339.85 878.19,336.15 878.38,331.51 878.56,325.95 878.75,319.53 878.93,312.27 879.12,304.25 879.31,295.51 879.49,286.13 879.68,276.16 879.86,265.69 880.05,254.80 880.23,243.55 880.42,232.04 880.61,220.35 880.79,208.57 880.98,196.79 881.16,185.09 881.35,173.56 881.53,162.29 881.72,151.36 881.90,140.85 882.09,130.85 882.28,121.42 882.46,112.63 882.65,104.56 882.83,97.27 883.02,90.80 883.20,85.20 883.39,80.53 883.58,76.81 883.76,74.07 883.95,72.34 884.13,71.62 884.32,71.93 884.50,73.25 884.69,75.59 884.88,78.92 885.06,83.22 885.25,88.45 885.43,94.59 885.62,101.57 885.80,109.36 885.99,117.88 886.17,127.09 886.36,136.90 886.55,147.25 886.73,158.05 886.92,169.23 887.10,180.70 887.29,192.38 887.47,204.16 887.66,215.98 887.85,227.73 888.03,239.33 888.22,250.69 888.40,261.72 888.59,272.34 888.77,282.46 888.96,292.02 889.14,300.94 889.33,309.14 889.52,316.57 889.70,323.17 889.89,328.89 890.07,333.67 890.26,337.50 890.44,340.33 890.63,342.14 890.82,342.93 891.00,342.67 891.19,341.37 891.37,339.05 891.56,335.71 891.74,331.38 891.93,326.09 892.12,319.88 892.30,312.79 892.49,304.88 892.67,296.21 892.86,286.83 893.04,276.83 893.23,266.27 893.41,255.24 893.60,243.81 893.79,232.08 893.97,220.12 894.16,208.03 894.34,195.91 894.53,183.84 894.71,171.91 894.90,160.21 895.09,148.83 895.27,137.86 895.46,127.38 895.64,117.47 895.83,108.20 896.01,99.65 896.20,91.87 896.38,84.92 896.57,78.87 896.76,73.74 896.94,69.59 897.13,66.44 897.31,64.31 897.50,63.22 897.68,63.17 897.87,64.17 898.06,66.21 898.24,69.26 898.43,73.31 898.61,78.33 898.80,84.26 898.98,91.08 899.17,98.72 899.35,107.12 899.54,116.22 899.73,125.95 899.91,136.22 900.10,146.97 900.28,158.10 900.47,169.52 900.65,181.16 900.84,192.91 901.03,204.68 901.21,216.38 901.40,227.92 901.58,239.21 901.77,250.15 901.95,260.67 902.14,270.67 902.33,280.07 902.51,288.81 902.70,296.81 902.88,304.01 903.07,310.34 903.25,315.76 903.44,320.22 903.62,323.69 903.81,326.13 904.00,327.53 904.18,327.87 904.37,327.14 904.55,325.35 904.74,322.50 904.92,318.63 905.11,313.74 905.30,307.88 905.48,301.09 905.67,293.42 905.85,284.93 906.04,275.67 906.22,265.72 906.41,255.15 906.59,244.04 906.78,232.48 906.97,220.55 907.15,208.33 907.34,195.93 907.52,183.44 907.71,170.95 907.89,158.56 908.08,146.36 908.27,134.44 908.45,122.90 908.64,111.81 908.82,101.28 909.01,91.37 909.19,82.16 909.38,73.73 909.56,66.13 909.75,59.42 909.94,53.65 910.12,48.87 910.31,45.11 910.49,42.40 910.68,40.75 910.86,40.19 911.05,40.70 911.24,42.29 911.42,44.94 911.61,48.63 911.79,53.33 911.98,59.00 912.16,65.59 912.35,73.06 912.54,81.34 912.72,90.37 912.91,100.07 913.09,110.36 913.28,121.17 913.46,132.40 913.65,143.98 913.83,155.79 914.02,167.76 914.21,179.78 914.39,191.75 914.58,203.59 914.76,215.19 914.95,226.46 915.13,237.32 915.32,247.67 915.51,257.43 915.69,266.52 915.88,274.87 916.06,282.41 916.25,289.08 916.43,294.83 916.62,299.61 916.80,303.37 916.99,306.09 917.18,307.74 917.36,308.32 917.55,307.81 917.73,306.21 917.92,303.55 918.10,299.82 918.29,295.07 918.48,289.33 918.66,282.63 918.85,275.04 919.03,266.61 919.22,257.40 919.40,247.49 919.59,236.95 919.77,225.87 919.96,214.33 920.15,202.43 920.33,190.25 920.52,177.90 920.70,165.47 920.89,153.05 921.07,140.75 921.26,128.67 921.45,116.89 921.63,105.52 921.82,94.64 922.00,84.34 922.19,74.70 922.37,65.80 922.56,57.71 922.75,50.49 922.93,44.20 923.12,38.89 923.30,34.61 923.49,31.38 923.67,29.23 923.86,28.18 924.04,28.25 924.23,29.42 924.42,31.69 924.60,35.04 924.79,39.45 924.97,44.89 925.16,51.31 925.34,58.65 925.53,66.88 925.72,75.91 925.90,85.67 926.09,96.10 926.27,107.11 926.46,118.60 926.64,130.49 926.83,142.68 927.01,155.08 927.20,167.59 927.39,180.10 927.57,192.52 927.76,204.74 927.94,216.68 928.13,228.22 928.31,239.29 928.50,249.80 928.69,259.65 928.87,268.77 929.06,277.09 929.24,284.53 929.43,291.05 929.61,296.59 929.80,301.10 929.98,304.55 930.17,306.92 930.36,308.18 930.54,308.32 930.73,307.35 930.91,305.27 931.10,302.10 931.28,297.86 931.47,292.59 931.66,286.33 931.84,279.13 932.03,271.05 932.21,262.15 932.40,252.51 932.58,242.20 932.77,231.31 932.96,219.93 933.14,208.14 933.33,196.05 933.51,183.75 933.70,171.35 933.88,158.95 934.07,146.64 934.25,134.53 934.44,122.72 934.63,111.30 934.81,100.37 935.00,90.02 935.18,80.33 935.37,71.38 935.55,63.25 935.74,56.01 935.93,49.70 936.11,44.39 936.30,40.12 936.48,36.92 936.67,34.83 936.85,33.85 937.04,33.99 937.22,35.27 937.41,37.66 937.60,41.16 937.78,45.73 937.97,51.35 938.15,57.96 938.34,65.52 938.52,73.97 938.71,83.24 938.90,93.25 939.08,103.93 939.27,115.19 939.45,126.94 939.64,139.08 939.82,151.52 940.01,164.16 940.20,176.89 940.38,189.61 940.57,202.22 940.75,214.62 940.94,226.70 941.12,238.38 941.31,249.54 941.49,260.11 941.68,270.00 941.87,279.13 942.05,287.42 942.24,294.81 942.42,301.25 942.61,306.67 942.79,311.04 942.98,314.33 943.17,316.51 943.35,317.57 943.54,317.49 943.72,316.29 943.91,313.96 944.09,310.54 944.28,306.04 944.46,300.51 944.65,294.00 944.84,286.55 945.02,278.23 945.21,269.12 945.39,259.28 945.58,248.80 945.76,237.77 945.95,226.28 946.14,214.43 946.32,202.33 946.51,190.07 946.69,177.75 946.88,165.49 947.06,153.38 947.25,141.53 947.43,130.04 947.62,119.01 947.81,108.53 947.99,98.70 948.18,89.59 948.36,81.29 948.55,73.86 948.73,67.37 948.92,61.88 949.11,57.44 949.29,54.08 949.48,51.83 949.66,50.72 949.85,50.75 950.03,51.93 950.22,54.25 950.41,57.70 950.59,62.25 950.78,67.87 950.96,74.52 951.15,82.14 951.33,90.67 951.52,100.06 951.70,110.21 951.89,121.06 952.08,132.51 952.26,144.46 952.45,156.84 952.63,169.52 952.82,182.41 953.00,195.40 953.19,208.39 953.38,221.27 953.56,233.93 953.75,246.27 953.93,258.18 954.12,269.58 954.30,280.36 954.49,290.43 954.67,299.72 954.86,308.14 955.05,315.63 955.23,322.13 955.42,327.58 955.60,331.94 955.79,335.17 955.97,337.25 956.16,338.17 956.35,337.92 956.53,336.49 956.72,333.91 956.90,330.18 957.09,325.36 957.27,319.46 957.46,312.55 957.64,304.69 957.83,295.93 958.02,286.36 958.20,276.05 958.39,265.10 958.57,253.59 958.76,241.63 958.94,229.32 959.13,216.76 959.32,204.06 959.50,191.33 959.69,178.68 959.87,166.22 960.06,154.06 960.24,142.30 960.43,131.05 960.62,120.39 960.80,110.43 960.99,101.26 961.17,92.94 961.36,85.56 961.54,79.18 961.73,73.86 961.91,69.64 962.10,66.57 962.29,64.67 962.47,63.96 962.66,64.46 962.84,66.15 963.03,69.04 963.21,73.09 963.40,78.29 963.59,84.59 963.77,91.93 963.96,100.27 964.14,109.53 964.33,119.64 964.51,130.52 964.70,142.07 964.88,154.21 965.07,166.83 965.26,179.83 965.44,193.09 965.63,206.52 965.81,219.99 966.00,233.40 966.18,246.63 966.37,259.57 966.56,272.11 966.74,284.15 966.93,295.58 967.11,306.32 967.30,316.26 967.48,325.32 967.67,333.44 967.85,340.53 968.04,346.53 968.23,351.41 968.41,355.10 968.60,357.59 968.78,358.85 968.97,358.87 969.15,357.65 969.34,355.19 969.53,351.52 969.71,346.68 969.90,340.69 970.08,333.61 970.27,325.50 970.45,316.43 970.64,306.48 970.83,295.72 971.01,284.26 971.20,272.19 971.38,259.62 971.57,246.64 971.75,233.37 971.94,219.94 972.12,206.44 972.31,192.99 972.50,179.72 972.68,166.73 972.87,154.14 973.05,142.05 973.24,130.57 973.42,119.79 973.61,109.81 973.80,100.71 973.98,92.57 974.17,85.47 974.35,79.45 974.54,74.57 974.72,70.87 974.91,68.39 975.09,67.13 975.28,67.12 975.47,68.35 975.65,70.81 975.84,74.48 976.02,79.32 976.21,85.29 976.39,92.34 976.58,100.41 976.77,109.42 976.95,119.31 977.14,129.98 977.32,141.34 977.51,153.30 977.69,165.74 977.88,178.58 978.07,191.69 978.25,204.96 978.44,218.28 978.62,231.53 978.81,244.61 978.99,257.39 979.18,269.78 979.36,281.65 979.55,292.92 979.74,303.47 979.92,313.23 980.11,322.09 980.29,330.00 980.48,336.86 980.66,342.63 980.85,347.25 981.04,350.66 981.22,352.85 981.41,353.78 981.59,353.45 981.78,351.84 981.96,348.96 982.15,344.84 982.33,339.50 982.52,332.98 982.71,325.33 982.89,316.61 983.08,306.89 983.26,296.24 983.45,284.76 983.63,272.55 983.82,259.69 984.01,246.31 984.19,232.51 984.38,218.42 984.56,204.16 984.75,189.85 984.93,175.63 985.12,161.62 985.30,147.95 985.49,134.74 985.68,122.12 985.86,110.20 986.05,99.10 986.23,88.91 986.42,79.75 986.60,71.68 986.79,64.80 986.98,59.16 987.16,54.82 987.35,51.83 987.53,50.20 987.72,49.96 987.90,51.10 988.09,53.61 988.28,57.47 988.46,62.61 988.65,69.00 988.83,76.56 989.02,85.20 989.20,94.83 989.39,105.35 989.57,116.64 989.76,128.57 989.95,141.02 990.13,153.85 990.32,166.91 990.50,180.07 990.69,193.18 990.87,206.10 991.06,218.69 991.25,230.82 991.43,242.36 991.62,253.19 991.80,263.20 991.99,272.29 992.17,280.37 992.36,287.38 992.54,293.24 992.73,297.92 992.92,301.39 993.10,303.62 993.29,304.62 993.47,304.41 993.66,303.01 993.84,300.47 994.03,296.85 994.22,292.21 994.40,286.65 994.59,280.24 994.77,273.10 994.96,265.32 995.14,257.02 995.33,248.31 995.51,239.32 995.70,230.15 995.89,220.93 996.07,211.77 996.26,202.78 996.44,194.06 996.63,185.70 996.81,177.80 997.00,170.42"/></g><g stroke="#262626" stroke-width="1.74" fill="none"><line x1="69" y1="32" x2="69" y2="349" stroke-linecap="square"/><line x1="69" y1="349" x2="997" y2="349" stroke-linecap="square"/><line x1="60.67" y1="32" x2="69" y2="32"/><line x1="60.67" y1="85" x2="69" y2="85"/><line x1="60.67" y1="138" x2="69" y2="138"/><line x1="60.67" y1="190" x2="69" y2="190"/><line x1="60.67" y1="243" x2="69" y2="243"/><line x1="60.67" y1="296" x2="69" y2="296"/><line x1="60.67" y1="349" x2="69" y2="349"/><line x1="69" y1="349" x2="69" y2="357.33"/><line x1="255" y1="349" x2="255" y2="357.33"/><line x1="440" y1="349" x2="440" y2="357.33"/><line x1="626" y1="349" x2="626" y2="357.33"/><line x1="811" y1="349" x2="811" y2="357.33"/><line x1="997" y1="349" x2="997" y2="357.33"/></g><g font-family="Liberation Sans, sans-serif" fill="#262626" font-size="15.8"><text x="55.5" y="38" text-anchor="end">6</text><text x="56.3" y="91" text-anchor="end">4</text><text x="55.5" y="144" text-anchor="end">2</text><text x="55.5" y="197" text-anchor="end">0</text><text x="54.7" y="250" text-anchor="end">2</text><rect x="35.4" y="244.875" width="9.5" height="1.25"/><text x="55.5" y="303" text-anchor="end">4</text><rect x="35.4" y="297.475" width="9.5" height="1.25"/><text x="55.5" y="356" text-anchor="end">6</text><rect x="35.4" y="350.875" width="9.5" height="1.25"/><text x="69" y="375" text-anchor="middle">0</text><text x="255.3" y="375" text-anchor="middle">1</text><text x="440.5" y="375" text-anchor="middle">2</text><text x="626" y="375" text-anchor="middle">3</text><text x="811.9" y="375" text-anchor="middle">4</text><text x="997" y="375" text-anchor="middle">5</text></g><g font-family="Liberation Sans, sans-serif" fill="#262626" font-size="17.5"><text x="532.6" y="23.8" text-anchor="middle" textLength="274" lengthAdjust="spacingAndGlyphs">Wavelet Reconstruction of Signal</text><text x="532.3" y="398" text-anchor="middle" textLength="68.2" lengthAdjust="spacingAndGlyphs">Time (s)</text><text transform="translate(24.0,193.85) rotate(-90)" x="0" y="0" text-anchor="middle" textLength="48.2" lengthAdjust="spacingAndGlyphs">Signal</text></g><rect x="77.5" y="39.55" width="235.9" height="49.7" rx="3" ry="3" fill="#fff" fill-opacity="0.8" stroke="#cccccc" stroke-opacity="0.8" stroke-width="1.39"/><line x1="82.1" y1="51.85" x2="114.8" y2="51.85" stroke="#0173b2" stroke-opacity="0.5" stroke-width="2.08"/><line x1="82.1" y1="74.8" x2="114.8" y2="74.8" stroke="#de8f05" stroke-opacity="0.5" stroke-width="2.08"/><g font-family="Liberation Sans, sans-serif" fill="#262626" font-size="15.8"><text x="126.6" y="57.9" textLength="46.5" lengthAdjust="spacingAndGlyphs">Signal</text><text x="126.6" y="81" textLength="180.8" lengthAdjust="spacingAndGlyphs">Wavelet Reconstruction</text></g></svg>
</body></html>
